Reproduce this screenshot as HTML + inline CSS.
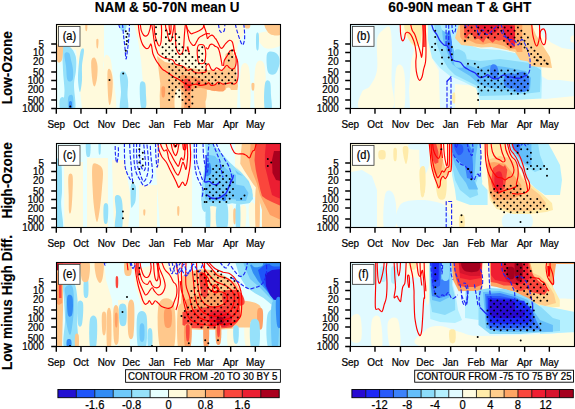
<!DOCTYPE html>
<html><head><meta charset="utf-8"><style>html,body{margin:0;padding:0;background:#fff;overflow:hidden}</style></head><body>
<svg width="575" height="409" viewBox="0 0 575 409" style="display:block">
<style>text{stroke:#000;stroke-width:0.22px}text.b{stroke-width:0.15px}</style>
<rect width="575" height="409" fill="#fff"/>
<defs>
<clipPath id="c00"><rect x="56.5" y="24.5" width="224.0" height="84.0"/></clipPath>
<clipPath id="c01"><rect x="56.5" y="143.5" width="224.0" height="84.0"/></clipPath>
<clipPath id="c02"><rect x="56.5" y="262.5" width="224.0" height="84.0"/></clipPath>
<clipPath id="c10"><rect x="350.5" y="24.5" width="224.0" height="84.0"/></clipPath>
<clipPath id="c11"><rect x="350.5" y="143.5" width="224.0" height="84.0"/></clipPath>
<clipPath id="c12"><rect x="350.5" y="262.5" width="224.0" height="84.0"/></clipPath>
</defs>
<g clip-path="url(#c00)">
<rect x="56.5" y="24.5" width="224.0" height="84.0" fill="#e6ffff"/>
<path d="M57 24L104 24L104 60L100 80L100 109L82 109L80 90L78 66L76 50L63 47L57 46Z" fill="#fffadc"/>
<path d="M100 60C101.3 54.2 103.3 65.8 104 74C104.7 82.2 105.3 103.2 104 109C102.7 114.8 96.7 117.2 96 109C95.3 100.8 98.7 65.8 100 60Z" fill="#fffadc"/>
<path d="M134 24L245 24L244 34L238 44L236 60L237 76L238 86L237 109L143 109L143 84L141 60L138 40Z" fill="#fffadc"/>
<path d="M241 68C242.3 61.2 247.5 61.2 249 68C250.5 74.8 251.3 102.2 250 109C248.7 115.8 242.5 115.8 241 109C239.5 102.2 239.7 74.8 241 68Z" fill="#fffadc"/>
<path d="M255.6 66C257.2 58.8 263.1 58.8 264.7 66C266.3 73.2 266.6 101.8 265 109C263.4 116.2 256.6 116.2 255 109C253.4 101.8 254 73.2 255.6 66Z" fill="#fffadc"/>
<path d="M258 34C260.7 31.3 277.2 30.2 281 32C284.8 33.8 283.7 42.3 281 45C278.3 47.7 268.8 49.8 265 48C261.2 46.2 255.3 36.7 258 34Z" fill="#fffadc"/>
<path d="M104 60C105 51.5 108.5 55.3 110 58C111.5 60.7 112 67.5 113 76C114 84.5 117.5 103.5 116 109C114.5 114.5 106 117.2 104 109C102 100.8 103 68.5 104 60Z" fill="#fffadc"/>
<path d="M63 47.5C64.2 43.7 67.9 45.6 70 47C72.1 48.4 74.6 52.2 75.6 56C76.6 59.8 76.3 65.2 76 70C75.7 74.8 74.2 78.5 74 85C73.8 91.5 76.7 105 75 109C73.3 113 65.8 112.2 64 109C62.2 105.8 64.7 96.5 64.5 90C64.3 83.5 63.2 77.1 63 70C62.8 62.9 61.8 51.3 63 47.5Z" fill="#96e1fa"/>
<path d="M60 99C60.7 97.2 63.2 96.3 64 98C64.8 99.7 65.2 107.2 64.5 109C63.8 110.8 60.8 110.7 60 109C59.2 107.3 59.3 100.8 60 99Z" fill="#96e1fa"/>
<path d="M81 50C81.8 48 83.8 47.3 84 50C84.2 52.7 82.3 61 82 66C81.7 71 82.3 75.7 82 80C81.7 84.3 80.7 92 80 92C79.3 92 78.2 85 78 80C77.8 75 78.5 67 79 62C79.5 57 80.2 52 81 50Z" fill="#96e1fa"/>
<path d="M120 74C120.7 70.7 123.7 71 125 72C126.3 73 127.6 76.2 128 80C128.4 83.8 127.5 90.2 127.5 95C127.5 99.8 129.2 106.7 128 109C126.8 111.3 121.2 111.8 120 109C118.8 106.2 121 97.8 121 92C121 86.2 119.3 77.3 120 74Z" fill="#96e1fa"/>
<path d="M140 84C140.7 80 144 81.2 145 83C146 84.8 145.8 91 146 95C146.2 99 146.8 105 146 107C145.2 109 142 110.8 141 107C140 103.2 139.3 88 140 84Z" fill="#96e1fa"/>
<path d="M256.2 34.4C256.6 32 258.4 32 258.8 34.4C259.2 36.8 259 46.4 258.6 48.8C258.2 51.2 256.8 51.2 256.4 48.8C256 46.4 255.8 36.8 256.2 34.4Z" fill="#96e1fa"/>
<path d="M267 54C268 50.7 272 51.5 274 52C276 52.5 278.2 54.7 279 57C279.8 59.3 279.7 63.2 279 66C278.3 68.8 276.8 73 275 74C273.2 75 269.3 75.3 268 72C266.7 68.7 266 57.3 267 54Z" fill="#96e1fa"/>
<path d="M265 83.5C265.9 79 269 80.1 270 82C271 83.9 270.8 90.5 271 95C271.2 99.5 272.6 106.7 271.5 109C270.4 111.3 265.8 113.2 264.7 109C263.6 104.8 264.1 88 265 83.5Z" fill="#96e1fa"/>
<path d="M120 24C120.9 23 125.6 22.9 126.4 24C127.2 25.1 125.9 29.5 125 30.5C124.1 31.5 121.8 31.1 121 30C120.2 28.9 119.1 25 120 24Z" fill="#96e1fa"/>
<path d="M64.5 54C65 51.8 67.9 52 69 53C70.1 54 70.3 57.2 71 60C71.7 62.8 72.8 66.7 73 70C73.2 73.3 73.4 78.3 72.5 80C71.6 81.7 68.6 82.3 67.5 80C66.4 77.7 66.5 70.3 66 66C65.5 61.7 64 56.2 64.5 54Z" fill="#6ec8fa"/>
<path d="M68.4 97C69.1 94.8 72 94 72.8 96C73.6 98 73.7 106.8 73 109C72.3 111.2 69.2 111 68.4 109C67.6 107 67.7 99.2 68.4 97Z" fill="#6ec8fa"/>
<path d="M69.2 102C69.6 100.8 71.4 100.8 71.8 102C72.2 103.2 72.2 107.8 71.8 109C71.4 110.2 69.6 110.2 69.2 109C68.8 107.8 68.8 103.2 69.2 102Z" fill="#328cf5"/>
<path d="M57.3 45C58.2 42.3 61.5 43.8 62.5 45C63.5 46.2 63.2 49.3 63 52C62.8 54.7 62.5 59.5 61.5 61C60.5 62.5 58 63.7 57.3 61C56.6 58.3 56.4 47.7 57.3 45Z" fill="#ffc88c"/>
<path d="M85.3 25C85.6 24.1 87 24.1 87.3 25C87.6 25.9 87.3 29.6 87 30.5C86.7 31.4 85.9 31.4 85.6 30.5C85.3 29.6 85 25.9 85.3 25Z" fill="#ffc88c"/>
<path d="M96.4 39.6C96.7 38.3 98.1 38.3 98.4 39.6C98.7 40.9 98.3 46.2 98 47.5C97.7 48.8 97 48.8 96.7 47.5C96.4 46.2 96.1 40.9 96.4 39.6Z" fill="#ffc88c"/>
<path d="M91.5 60C92.1 57.7 94 57 95 58C96 59 97.2 62.7 97.5 66C97.8 69.3 97.4 74.7 97 78C96.6 81.3 95.7 85 95 86C94.3 87 93.6 86.3 93 84C92.4 81.7 91.8 76 91.5 72C91.2 68 90.9 62.3 91.5 60Z" fill="#ffc88c"/>
<path d="M107.5 72C107.9 67.3 109.6 68.7 110.5 70C111.4 71.3 112.5 75.8 112.7 80C113 84.2 112.5 90.8 112 95C111.5 99.2 110.6 104.5 110 105C109.4 105.5 108.6 103.5 108.2 98C107.8 92.5 107.1 76.7 107.5 72Z" fill="#ffc88c"/>
<path d="M245 24C245.8 23.3 249.2 23.3 250 24C250.8 24.7 250.2 27.3 249.5 28C248.8 28.7 246.2 28.7 245.5 28C244.8 27.3 244.2 24.7 245 24Z" fill="#ffc88c"/>
<path d="M265 24C266.8 22.3 278.3 22.3 281 24C283.7 25.7 282.8 32.7 281 34.4C279.2 36.1 272.7 35.7 270 34C267.3 32.3 263.2 25.7 265 24Z" fill="#ffc88c"/>
<path d="M251.6 83.5C252 82.4 253.9 82.4 254.3 83.5C254.7 84.6 254.4 88.9 254 90C253.6 91.1 252.4 91.1 252 90C251.6 88.9 251.2 84.6 251.6 83.5Z" fill="#ffc88c"/>
<path d="M157 56L165 62L175 64L190 68L206 70L222 70L236 70L238 86L237.3 90L206 90L206 109L160 109L159.7 96L160.3 83.5L159 73Z" fill="#ffc88c"/>
<path d="M225.6 54L232 50L235.5 60L236 70L224 70Z" fill="#ffc88c"/>
<path d="M175.3 92C176.2 88.8 179.7 87.2 180.6 90C181.5 92.8 181.9 105.8 181 109C180.1 112.2 175.9 111.8 175 109C174.1 106.2 174.4 95.2 175.3 92Z" fill="#fffadc"/>
<path d="M206 92C206.7 89.2 209.3 89.2 210 92C210.7 94.8 210.7 106.2 210 109C209.3 111.8 206.7 111.8 206 109C205.3 106.2 205.3 94.8 206 92Z" fill="#fffadc"/>
<path d="M213.8 92C214.4 89.2 216.9 89.2 217.5 92C218.1 94.8 218.1 106.2 217.5 109C216.9 111.8 214.4 111.8 213.8 109C213.2 106.2 213.2 94.8 213.8 92Z" fill="#fffadc"/>
<path d="M225.6 90C226.5 86.8 230.1 86.8 231 90C231.9 93.2 231.9 105.8 231 109C230.1 112.2 226.5 112.2 225.6 109C224.7 105.8 224.7 93.2 225.6 90Z" fill="#fffadc"/>
<path d="M198 88C199 85.7 204.7 84 206 86C207.3 88 207 97.7 206 100C205 102.3 201.3 102 200 100C198.7 98 197 90.3 198 88Z" fill="#ffc88c"/>
<path d="M161.6 87.4C162.1 85.9 164.5 85.9 165 87.4C165.5 88.9 165 95 164.5 96.5C164 98 162.5 98 162 96.5C161.5 95 161.1 88.9 161.6 87.4Z" fill="#ffa064"/>
<path d="M180.6 76C182.1 74 187.1 75.7 190 76C192.9 76.3 195.3 77.3 198 78C200.7 78.7 203.4 79 206 80C208.6 81 210.8 83.3 213.8 84C216.9 84.7 222.6 82.8 224.3 84C226 85.2 225.7 89.8 224 91C222.3 92.2 217 91.3 214 91C211 90.7 208.7 89.5 206 89C203.3 88.5 200.5 87.5 198 88C195.5 88.5 192.2 88.5 191 92C189.8 95.5 192.1 106.2 191 109C189.9 111.8 185.6 111.5 184.5 109C183.4 106.5 185.1 97.5 184.5 94C183.9 90.5 181.7 91 181 88C180.3 85 179.1 78 180.6 76Z" fill="#ffa064"/>
<path d="M206 83.5C206.8 82.8 210.3 83.2 211 84C211.7 84.8 210.8 87.3 210 88C209.2 88.7 206.7 88.8 206 88C205.3 87.2 205.2 84.2 206 83.5Z" fill="#ffa064"/>
<path d="M183.8 80C184.4 78.5 186.8 78.7 188 79C189.2 79.3 190.5 80.3 191 82C191.5 83.7 191.5 87.5 191 89C190.5 90.5 189.1 91.2 188 91C186.9 90.8 185.2 89.8 184.5 88C183.8 86.2 183.2 81.5 183.8 80Z" fill="#fa463c"/>
<path d="M196.9 81C197.4 80.4 199.5 80.4 200 81C200.5 81.6 200.5 84.2 200 84.8C199.5 85.4 197.5 85.4 197 84.8C196.5 84.2 196.4 81.6 196.9 81Z" fill="#fa463c"/>
<path d="M138.3 24C138.4 25.2 138.7 28.9 139.1 31.3C139.5 33.8 139.9 36.5 140.5 38.7C141.1 40.9 141.8 43 142.7 44.6C143.6 46.2 144.8 47.6 145.7 48.2C146.6 48.8 147.5 48.6 148.2 48.2C148.9 47.8 149.3 46.7 149.7 46C150.1 45.3 150.5 43.8 150.8 43.8C151.1 43.8 151.3 44.9 151.6 46C151.8 47.1 152.1 49.1 152.3 50.4C152.5 51.7 152.4 52.4 153 54C153.6 55.6 154.9 58.4 155.8 60C156.7 61.6 157.3 62.4 158.4 63.9C159.5 65.4 161 67.8 162.3 69.1C163.6 70.4 164.9 70.8 166.2 71.7C167.5 72.6 168.8 73.4 170.1 74.3C171.4 75.2 172.7 76.2 174 77C175.3 77.8 176.7 78.2 178 78.9C179.3 79.7 180.6 80.6 181.9 81.5C183.2 82.4 184.7 83.4 185.8 84.1C186.9 84.8 187.3 85.3 188.4 85.4C189.5 85.5 191 85 192.3 84.8C193.6 84.6 194.9 84 196.2 84.1C197.5 84.2 198.5 85.4 200.1 85.4C201.7 85.5 204.6 84.8 206 84.4C207.4 84 207.7 82.6 208.6 82.8C209.5 83 210.1 85.1 211.2 85.4C212.3 85.7 214 85.3 215.1 84.8C216.2 84.3 216.8 82.5 217.7 82.2C218.6 81.9 219.4 82.5 220.3 82.8C221.2 83.1 221.9 84 223 84.1C224.1 84.2 225.6 83.7 226.9 83.5C228.2 83.3 229.6 82.7 230.8 82.8C232 82.9 233 84.2 234 84.1C235 84 236 83.4 236.7 82.2C237.4 81 237.8 79.6 238 77C238.2 74.4 238.1 69.3 238 66.5C237.9 63.7 237.9 62.3 237.3 60C236.8 57.7 235.3 55 234.7 52.7C234 50.4 233.8 48.1 233.4 46.2C233 44.4 232.8 42.6 232.1 41.6C231.4 40.6 230.6 40 229.5 40.3C228.4 40.6 226.8 42.3 225.6 43.6C224.4 44.9 223.2 47.5 222.3 48.1C221.4 48.8 220.9 48 220.3 47.5C219.8 47 219.4 45.8 219 44.9C218.6 44 218.1 43.2 217.7 42.3C217.3 41.4 216.8 40.4 216.4 39.7C216 39 215.5 38.8 215.1 38.3C214.7 37.8 214.3 36.9 213.8 36.4C213.3 35.9 212.7 35.1 211.9 35.1C211.2 35.1 210.1 35.9 209.3 36.4C208.5 36.9 207.9 39.1 207.3 38.3C206.8 37.5 206.6 33.9 206 31.8C205.4 29.8 204.4 27.3 204 26C203.6 24.7 203.6 24.3 203.5 24" fill="none" stroke="#f00" stroke-width="1.15" stroke-linejoin="round"/>
<path d="M140.2 24C140.4 25.1 140.8 28.8 141.3 30.6C141.9 32.4 142.7 34.1 143.5 35C144.3 35.9 145.2 36.2 146 36.1C146.8 36 147.6 35.3 148.2 34.3C148.8 33.3 149.3 31.1 149.7 29.9C150.1 28.7 150.2 27.9 150.4 26.9C150.6 25.9 150.7 24.5 150.8 24" fill="none" stroke="#f00" stroke-width="1.15" stroke-linejoin="round"/>
<path d="M151.6 24C151.8 25 152.3 27.4 152.7 29.9C153.1 32.4 153.4 36 153.8 38.7C154.2 41.4 154.7 44 155.2 46C155.7 48 156.2 49.1 156.7 50.4C157.2 51.7 157.3 52.9 158.2 54C159.1 55.1 160.7 56.2 162 57C163.3 57.8 164.2 58 166 58.5C167.8 59 171.1 59.1 172.7 60C174.2 60.9 174.2 63 175.3 63.9C176.4 64.8 178 64.8 179.3 65.2C180.6 65.6 182.1 65.8 183.2 66.5C184.3 67.2 184.9 68.4 185.8 69.1C186.7 69.8 187.5 70.4 188.4 70.4C189.3 70.4 190.1 68.9 191 69.1C191.9 69.3 192.3 71 193.6 71.7C194.9 72.4 196.7 73 198.8 73C200.9 73 204.8 72.8 206 71.7C207.2 70.6 205.6 67.8 206 66.5C206.4 65.2 207.7 63.5 208.6 63.9C209.5 64.3 210.3 68 211.2 69.1C212.1 70.2 212.9 70.6 213.8 70.4C214.7 70.2 215.5 68 216.4 67.8C217.3 67.6 218.1 68.7 219 69.1C219.9 69.5 220.8 70.6 221.7 70.4C222.6 70.2 223.4 68.7 224.3 67.8C225.2 66.9 226 65.2 226.9 65.2C227.8 65.2 228.6 67.2 229.5 67.8C230.4 68.4 231.2 69.1 232.1 69.1C233 69.1 234 68.7 234.7 67.8C235.3 66.9 235.8 65.5 236 63.9C236.2 62.3 236.3 60.3 236 58C235.7 55.7 234.3 51.3 234 50" fill="none" stroke="#f00" stroke-width="1.15" stroke-linejoin="round"/>
<path d="M234 50C233.7 50 232.8 50.2 232.1 50.3C231.4 50.4 230.9 49.9 230.1 50.7C229.3 51.5 228.5 53.7 227.5 55.3C226.5 56.9 225 58.7 224.3 60.5C223.7 62.3 223.7 65.1 223.6 66" fill="none" stroke="#f00" stroke-width="1.15" stroke-linejoin="round"/>
<path d="M206 47.5C206.3 47.7 207.3 49.2 208 48.8C208.7 48.4 209.2 45.7 209.9 44.9C210.7 44.1 211.6 44 212.5 44.2C213.4 44.4 214.2 45.7 215.1 46.2C216 46.8 217 46.9 217.7 47.5C218.3 48.1 218.6 48.8 219 50.1C219.4 51.4 219.9 53.1 220.3 55.3C220.8 57.5 221.4 61.3 221.7 63.1C222 64.9 222.2 65.5 222.3 66" fill="none" stroke="#f00" stroke-width="1.15" stroke-linejoin="round"/>
<path d="M154 24C154.2 25.8 154.5 32 155 35C155.5 38 156.3 40.2 157 42C157.7 43.8 158.6 46 159.3 46C160 46 160.6 44.2 161 42C161.4 39.8 161.5 36 161.6 33C161.7 30 161.4 25.5 161.3 24" fill="none" stroke="#f00" stroke-width="1.15" stroke-linejoin="round"/>
<path d="M165.4 24C165.5 24.7 165.5 26.8 165.8 28C166.1 29.2 166.7 29.7 167 31C167.3 32.3 167.4 34.1 167.8 35.7C168.2 37.3 168.9 39.7 169.3 40.6C169.7 41.5 169.9 41.2 170.3 41.1C170.7 41 171.1 40.9 171.5 39.7C171.9 38.5 172.3 35.8 172.7 33.8C173.1 31.8 173.4 29.6 173.7 28C173.9 26.4 174.1 24.7 174.2 24" fill="none" stroke="#f00" stroke-width="1.15" stroke-linejoin="round"/>
<path d="M174.7 24C174.8 25.6 175 30.5 175.2 33.8C175.4 37.1 175.5 41 175.7 43.6C175.9 46.2 176.1 47.8 176.6 49.4C177.1 51 177.9 52.6 178.6 53.4C179.2 54.2 179.8 54.5 180.5 54.3C181.2 54.1 182 53.4 182.5 52.4C183 51.4 183.2 50.3 183.5 48.5C183.8 46.7 183.8 44.1 184 41.6C184.2 39.1 184.3 36.1 184.5 33.8C184.7 31.5 184.8 29.6 185 28C185.2 26.4 185.3 24.7 185.4 24" fill="none" stroke="#f00" stroke-width="1.15" stroke-linejoin="round"/>
<path d="M186 24C186.2 24.8 186.8 27.6 187.4 28.9C188 30.2 188.8 31 189.4 31.8C190.1 32.6 190.5 33.6 191.3 33.8C192.1 34 192.9 33.3 194.2 32.8C195.5 32.3 197.6 31.6 199.1 30.8C200.6 30 202.2 29 203 27.9C203.8 26.8 203.8 24.6 204 24" fill="none" stroke="#f00" stroke-width="1.15" stroke-linejoin="round"/>
<path d="M186.5 26C186.8 27.8 187.9 34.3 188.4 36.7C188.9 39.1 188.9 39.5 189.4 40.6C189.9 41.8 190.7 42.8 191.3 43.6C192 44.4 192.7 45.4 193.3 45.5C194 45.6 194.5 45.3 195.2 44.5C195.8 43.7 196.5 41.7 197.2 40.6C197.8 39.5 198.3 38.5 199.1 37.7C199.9 36.9 200.9 36.4 202.1 35.7C203.2 35.1 204.7 34.1 206 33.8C207.3 33.5 209.3 33.8 210 33.8" fill="none" stroke="#f00" stroke-width="1.15" stroke-linejoin="round"/>
<path d="M198.2 45.5C198.8 44.5 200.1 44.5 201.1 44.5C202.1 44.5 203.3 44.5 204 45.5C204.7 46.5 205.2 48.3 205.5 50.4C205.8 52.5 205.8 56.1 205.5 58.2C205.2 60.3 205.1 62.3 204 63.1C202.9 63.9 200.2 63.9 199.1 63.1C198 62.3 198 60.3 197.7 58.2C197.4 56.1 197.1 52.5 197.2 50.4C197.3 48.3 197.5 46.5 198.2 45.5Z" fill="none" stroke="#f00" stroke-width="1.15" stroke-linejoin="round"/>
<path d="M187.4 46.5C187.5 46.9 187.8 48 188 49C188.2 50 188.8 51.8 188.9 52.4" fill="none" stroke="#f00" stroke-width="1.7" stroke-linejoin="round"/>
<path d="M169 24C169.1 25 169.2 28.3 169.5 30C169.8 31.7 170.2 34.2 170.5 34C170.8 33.8 170.9 30.7 171 29C171.1 27.3 171 24.8 171 24" fill="none" stroke="#f00" stroke-width="1.15" stroke-linejoin="round"/>
<path d="M235.3 24C235.6 25.3 236.5 29.2 237.3 31.8C238.1 34.4 239 37.5 239.9 39.7C240.8 41.9 241.7 44.9 242.5 44.9C243.3 44.9 244.2 41.9 244.5 39.7C244.8 37.5 244.6 34.4 244.5 31.8C244.4 29.2 243.9 25.3 243.8 24" fill="none" stroke="#1e28f5" stroke-width="1.15" stroke-dasharray="4,1.7" stroke-linejoin="round"/>
<path d="M218.4 24C218.6 25.1 219.1 29.1 219.7 30.5C220.2 31.9 220.9 32.5 221.7 32.5C222.5 32.5 223.8 31.9 224.3 30.5C224.8 29.1 224.8 25.1 224.9 24" fill="none" stroke="#1e28f5" stroke-width="1.15" stroke-dasharray="4,1.7" stroke-linejoin="round"/>
<path d="M122.5 24C122.7 25.8 123.1 31 123.5 35C123.9 39 124.6 44 125 48C125.4 52 125.6 58.7 126 59C126.4 59.3 127 53.8 127.5 50C128 46.2 128.7 40.3 129 36C129.3 31.7 129.4 26 129.5 24" fill="none" stroke="#1e28f5" stroke-width="1.15" stroke-dasharray="4,1.7" stroke-linejoin="round"/>
<path d="M118.6 24C118.8 24.5 119.1 26.2 119.5 27C119.9 27.8 120.9 28.7 121.2 29" fill="none" stroke="#1e28f5" stroke-width="1.1" stroke-dasharray="4,1.7" stroke-linejoin="round"/>
<path d="M155 27.3a1.0 1.0 0 1 0 2 0a1.0 1.0 0 1 0 -2 0M155 33.9a1.0 1.0 0 1 0 2 0a1.0 1.0 0 1 0 -2 0M155 40.5a1.0 1.0 0 1 0 2 0a1.0 1.0 0 1 0 -2 0" fill="#000"/>
<path d="M164.9 30.6a1.0 1.0 0 1 0 2 0a1.0 1.0 0 1 0 -2 0M168.2 33.9a1.0 1.0 0 1 0 2 0a1.0 1.0 0 1 0 -2 0M174.9 33.9a1.0 1.0 0 1 0 2 0a1.0 1.0 0 1 0 -2 0M164.9 37.2a1.0 1.0 0 1 0 2 0a1.0 1.0 0 1 0 -2 0M171.5 37.2a1.0 1.0 0 1 0 2 0a1.0 1.0 0 1 0 -2 0M178.2 37.2a1.0 1.0 0 1 0 2 0a1.0 1.0 0 1 0 -2 0M168.2 40.5a1.0 1.0 0 1 0 2 0a1.0 1.0 0 1 0 -2 0M174.9 40.5a1.0 1.0 0 1 0 2 0a1.0 1.0 0 1 0 -2 0M164.9 43.9a1.0 1.0 0 1 0 2 0a1.0 1.0 0 1 0 -2 0M171.5 43.9a1.0 1.0 0 1 0 2 0a1.0 1.0 0 1 0 -2 0M178.2 43.9a1.0 1.0 0 1 0 2 0a1.0 1.0 0 1 0 -2 0M161.6 47.2a1.0 1.0 0 1 0 2 0a1.0 1.0 0 1 0 -2 0M168.2 47.2a1.0 1.0 0 1 0 2 0a1.0 1.0 0 1 0 -2 0M174.9 47.2a1.0 1.0 0 1 0 2 0a1.0 1.0 0 1 0 -2 0M181.5 47.2a1.0 1.0 0 1 0 2 0a1.0 1.0 0 1 0 -2 0M164.9 50.5a1.0 1.0 0 1 0 2 0a1.0 1.0 0 1 0 -2 0M171.5 50.5a1.0 1.0 0 1 0 2 0a1.0 1.0 0 1 0 -2 0M178.2 50.5a1.0 1.0 0 1 0 2 0a1.0 1.0 0 1 0 -2 0M184.8 50.5a1.0 1.0 0 1 0 2 0a1.0 1.0 0 1 0 -2 0M161.6 53.8a1.0 1.0 0 1 0 2 0a1.0 1.0 0 1 0 -2 0M168.2 53.8a1.0 1.0 0 1 0 2 0a1.0 1.0 0 1 0 -2 0M174.9 53.8a1.0 1.0 0 1 0 2 0a1.0 1.0 0 1 0 -2 0M181.5 53.8a1.0 1.0 0 1 0 2 0a1.0 1.0 0 1 0 -2 0M188.1 53.8a1.0 1.0 0 1 0 2 0a1.0 1.0 0 1 0 -2 0M164.9 57.1a1.0 1.0 0 1 0 2 0a1.0 1.0 0 1 0 -2 0M171.5 57.1a1.0 1.0 0 1 0 2 0a1.0 1.0 0 1 0 -2 0M178.2 57.1a1.0 1.0 0 1 0 2 0a1.0 1.0 0 1 0 -2 0M184.8 57.1a1.0 1.0 0 1 0 2 0a1.0 1.0 0 1 0 -2 0M191.4 57.1a1.0 1.0 0 1 0 2 0a1.0 1.0 0 1 0 -2 0M168.2 60.4a1.0 1.0 0 1 0 2 0a1.0 1.0 0 1 0 -2 0M174.9 60.4a1.0 1.0 0 1 0 2 0a1.0 1.0 0 1 0 -2 0M181.5 60.4a1.0 1.0 0 1 0 2 0a1.0 1.0 0 1 0 -2 0M188.1 60.4a1.0 1.0 0 1 0 2 0a1.0 1.0 0 1 0 -2 0M194.7 60.4a1.0 1.0 0 1 0 2 0a1.0 1.0 0 1 0 -2 0M201.3 60.4a1.0 1.0 0 1 0 2 0a1.0 1.0 0 1 0 -2 0M171.5 63.7a1.0 1.0 0 1 0 2 0a1.0 1.0 0 1 0 -2 0M178.2 63.7a1.0 1.0 0 1 0 2 0a1.0 1.0 0 1 0 -2 0M184.8 63.7a1.0 1.0 0 1 0 2 0a1.0 1.0 0 1 0 -2 0M191.4 63.7a1.0 1.0 0 1 0 2 0a1.0 1.0 0 1 0 -2 0M198 63.7a1.0 1.0 0 1 0 2 0a1.0 1.0 0 1 0 -2 0M204.6 63.7a1.0 1.0 0 1 0 2 0a1.0 1.0 0 1 0 -2 0M168.2 67a1.0 1.0 0 1 0 2 0a1.0 1.0 0 1 0 -2 0M174.9 67a1.0 1.0 0 1 0 2 0a1.0 1.0 0 1 0 -2 0M181.5 67a1.0 1.0 0 1 0 2 0a1.0 1.0 0 1 0 -2 0M188.1 67a1.0 1.0 0 1 0 2 0a1.0 1.0 0 1 0 -2 0M194.7 67a1.0 1.0 0 1 0 2 0a1.0 1.0 0 1 0 -2 0M201.3 67a1.0 1.0 0 1 0 2 0a1.0 1.0 0 1 0 -2 0M171.5 70.3a1.0 1.0 0 1 0 2 0a1.0 1.0 0 1 0 -2 0M178.2 70.3a1.0 1.0 0 1 0 2 0a1.0 1.0 0 1 0 -2 0M184.8 70.3a1.0 1.0 0 1 0 2 0a1.0 1.0 0 1 0 -2 0M191.4 70.3a1.0 1.0 0 1 0 2 0a1.0 1.0 0 1 0 -2 0M198 70.3a1.0 1.0 0 1 0 2 0a1.0 1.0 0 1 0 -2 0M204.6 70.3a1.0 1.0 0 1 0 2 0a1.0 1.0 0 1 0 -2 0M231.1 70.3a1.0 1.0 0 1 0 2 0a1.0 1.0 0 1 0 -2 0M168.2 73.6a1.0 1.0 0 1 0 2 0a1.0 1.0 0 1 0 -2 0M174.9 73.6a1.0 1.0 0 1 0 2 0a1.0 1.0 0 1 0 -2 0M181.5 73.6a1.0 1.0 0 1 0 2 0a1.0 1.0 0 1 0 -2 0M188.1 73.6a1.0 1.0 0 1 0 2 0a1.0 1.0 0 1 0 -2 0M194.7 73.6a1.0 1.0 0 1 0 2 0a1.0 1.0 0 1 0 -2 0M201.3 73.6a1.0 1.0 0 1 0 2 0a1.0 1.0 0 1 0 -2 0M208 73.6a1.0 1.0 0 1 0 2 0a1.0 1.0 0 1 0 -2 0M214.6 73.6a1.0 1.0 0 1 0 2 0a1.0 1.0 0 1 0 -2 0M221.2 73.6a1.0 1.0 0 1 0 2 0a1.0 1.0 0 1 0 -2 0M227.8 73.6a1.0 1.0 0 1 0 2 0a1.0 1.0 0 1 0 -2 0M234.4 73.6a1.0 1.0 0 1 0 2 0a1.0 1.0 0 1 0 -2 0M171.5 77a1.0 1.0 0 1 0 2 0a1.0 1.0 0 1 0 -2 0M178.2 77a1.0 1.0 0 1 0 2 0a1.0 1.0 0 1 0 -2 0M184.8 77a1.0 1.0 0 1 0 2 0a1.0 1.0 0 1 0 -2 0M191.4 77a1.0 1.0 0 1 0 2 0a1.0 1.0 0 1 0 -2 0M198 77a1.0 1.0 0 1 0 2 0a1.0 1.0 0 1 0 -2 0M204.6 77a1.0 1.0 0 1 0 2 0a1.0 1.0 0 1 0 -2 0M211.3 77a1.0 1.0 0 1 0 2 0a1.0 1.0 0 1 0 -2 0M217.9 77a1.0 1.0 0 1 0 2 0a1.0 1.0 0 1 0 -2 0M224.5 77a1.0 1.0 0 1 0 2 0a1.0 1.0 0 1 0 -2 0M231.1 77a1.0 1.0 0 1 0 2 0a1.0 1.0 0 1 0 -2 0M168.2 80.3a1.0 1.0 0 1 0 2 0a1.0 1.0 0 1 0 -2 0M174.9 80.3a1.0 1.0 0 1 0 2 0a1.0 1.0 0 1 0 -2 0M181.5 80.3a1.0 1.0 0 1 0 2 0a1.0 1.0 0 1 0 -2 0M188.1 80.3a1.0 1.0 0 1 0 2 0a1.0 1.0 0 1 0 -2 0M194.7 80.3a1.0 1.0 0 1 0 2 0a1.0 1.0 0 1 0 -2 0M201.3 80.3a1.0 1.0 0 1 0 2 0a1.0 1.0 0 1 0 -2 0M208 80.3a1.0 1.0 0 1 0 2 0a1.0 1.0 0 1 0 -2 0M214.6 80.3a1.0 1.0 0 1 0 2 0a1.0 1.0 0 1 0 -2 0M221.2 80.3a1.0 1.0 0 1 0 2 0a1.0 1.0 0 1 0 -2 0M227.8 80.3a1.0 1.0 0 1 0 2 0a1.0 1.0 0 1 0 -2 0M234.4 80.3a1.0 1.0 0 1 0 2 0a1.0 1.0 0 1 0 -2 0M171.5 83.6a1.0 1.0 0 1 0 2 0a1.0 1.0 0 1 0 -2 0M178.2 83.6a1.0 1.0 0 1 0 2 0a1.0 1.0 0 1 0 -2 0M184.8 83.6a1.0 1.0 0 1 0 2 0a1.0 1.0 0 1 0 -2 0M191.4 83.6a1.0 1.0 0 1 0 2 0a1.0 1.0 0 1 0 -2 0M198 83.6a1.0 1.0 0 1 0 2 0a1.0 1.0 0 1 0 -2 0M204.6 83.6a1.0 1.0 0 1 0 2 0a1.0 1.0 0 1 0 -2 0M211.3 83.6a1.0 1.0 0 1 0 2 0a1.0 1.0 0 1 0 -2 0M217.9 83.6a1.0 1.0 0 1 0 2 0a1.0 1.0 0 1 0 -2 0M224.5 83.6a1.0 1.0 0 1 0 2 0a1.0 1.0 0 1 0 -2 0M231.1 83.6a1.0 1.0 0 1 0 2 0a1.0 1.0 0 1 0 -2 0M168.2 86.9a1.0 1.0 0 1 0 2 0a1.0 1.0 0 1 0 -2 0M174.9 86.9a1.0 1.0 0 1 0 2 0a1.0 1.0 0 1 0 -2 0M181.5 86.9a1.0 1.0 0 1 0 2 0a1.0 1.0 0 1 0 -2 0M188.1 86.9a1.0 1.0 0 1 0 2 0a1.0 1.0 0 1 0 -2 0M194.7 86.9a1.0 1.0 0 1 0 2 0a1.0 1.0 0 1 0 -2 0M171.5 90.2a1.0 1.0 0 1 0 2 0a1.0 1.0 0 1 0 -2 0M178.2 90.2a1.0 1.0 0 1 0 2 0a1.0 1.0 0 1 0 -2 0M184.8 90.2a1.0 1.0 0 1 0 2 0a1.0 1.0 0 1 0 -2 0M191.4 90.2a1.0 1.0 0 1 0 2 0a1.0 1.0 0 1 0 -2 0M168.2 93.5a1.0 1.0 0 1 0 2 0a1.0 1.0 0 1 0 -2 0M174.9 93.5a1.0 1.0 0 1 0 2 0a1.0 1.0 0 1 0 -2 0M181.5 93.5a1.0 1.0 0 1 0 2 0a1.0 1.0 0 1 0 -2 0M188.1 93.5a1.0 1.0 0 1 0 2 0a1.0 1.0 0 1 0 -2 0M171.5 96.8a1.0 1.0 0 1 0 2 0a1.0 1.0 0 1 0 -2 0M178.2 96.8a1.0 1.0 0 1 0 2 0a1.0 1.0 0 1 0 -2 0M184.8 96.8a1.0 1.0 0 1 0 2 0a1.0 1.0 0 1 0 -2 0M191.4 96.8a1.0 1.0 0 1 0 2 0a1.0 1.0 0 1 0 -2 0M168.2 100.1a1.0 1.0 0 1 0 2 0a1.0 1.0 0 1 0 -2 0M181.5 100.1a1.0 1.0 0 1 0 2 0a1.0 1.0 0 1 0 -2 0M188.1 100.1a1.0 1.0 0 1 0 2 0a1.0 1.0 0 1 0 -2 0M184.8 103.4a1.0 1.0 0 1 0 2 0a1.0 1.0 0 1 0 -2 0M191.4 103.4a1.0 1.0 0 1 0 2 0a1.0 1.0 0 1 0 -2 0M188.1 106.7a1.0 1.0 0 1 0 2 0a1.0 1.0 0 1 0 -2 0" fill="#000"/>
<path d="M201.3 47.2a1.0 1.0 0 1 0 2 0a1.0 1.0 0 1 0 -2 0M198 50.5a1.0 1.0 0 1 0 2 0a1.0 1.0 0 1 0 -2 0M201.3 53.8a1.0 1.0 0 1 0 2 0a1.0 1.0 0 1 0 -2 0M198 57.1a1.0 1.0 0 1 0 2 0a1.0 1.0 0 1 0 -2 0M201.3 60.4a1.0 1.0 0 1 0 2 0a1.0 1.0 0 1 0 -2 0" fill="#000"/>
<path d="M231.1 50.5a1.0 1.0 0 1 0 2 0a1.0 1.0 0 1 0 -2 0M227.8 53.8a1.0 1.0 0 1 0 2 0a1.0 1.0 0 1 0 -2 0M231.1 57.1a1.0 1.0 0 1 0 2 0a1.0 1.0 0 1 0 -2 0M227.8 60.4a1.0 1.0 0 1 0 2 0a1.0 1.0 0 1 0 -2 0" fill="#000"/>
<path d="M124.8 31.2a1.0 1.0 0 1 0 2 0a1.0 1.0 0 1 0 -2 0M126.5 33.8a1.0 1.0 0 1 0 2 0a1.0 1.0 0 1 0 -2 0M125.4 37a1.0 1.0 0 1 0 2 0a1.0 1.0 0 1 0 -2 0M126 41a1.0 1.0 0 1 0 2 0a1.0 1.0 0 1 0 -2 0M125.4 44.2a1.0 1.0 0 1 0 2 0a1.0 1.0 0 1 0 -2 0M124.8 50.7a1.0 1.0 0 1 0 2 0a1.0 1.0 0 1 0 -2 0M108.5 80a1.0 1.0 0 1 0 2 0a1.0 1.0 0 1 0 -2 0M122.2 73.6a1.0 1.0 0 1 0 2 0a1.0 1.0 0 1 0 -2 0M69.3 106.4a1.0 1.0 0 1 0 2 0a1.0 1.0 0 1 0 -2 0" fill="#000"/>
</g>
<rect x="56.5" y="24.5" width="224.0" height="84.0" fill="none" stroke="#000" stroke-width="1.1"/>
<rect x="58.5" y="26.5" width="21.5" height="19.8" fill="#fff" stroke="#333" stroke-width="0.8"/>
<text transform="translate(69.40 35.86) scale(1 1.12)" y="3.94" font-family='"Liberation Sans", sans-serif' font-size="11.0" text-anchor="middle">(a)</text>
<text transform="translate(44.00 44.06) scale(1 1.12)" y="3.51" font-family='"Liberation Sans", sans-serif' font-size="9.8" text-anchor="end">5</text>
<text transform="translate(44.00 52.49) scale(1 1.12)" y="3.51" font-family='"Liberation Sans", sans-serif' font-size="9.8" text-anchor="end">10</text>
<text transform="translate(44.00 60.92) scale(1 1.12)" y="3.51" font-family='"Liberation Sans", sans-serif' font-size="9.8" text-anchor="end">20</text>
<text transform="translate(44.00 72.06) scale(1 1.12)" y="3.51" font-family='"Liberation Sans", sans-serif' font-size="9.8" text-anchor="end">50</text>
<text transform="translate(44.00 80.49) scale(1 1.12)" y="3.51" font-family='"Liberation Sans", sans-serif' font-size="9.8" text-anchor="end">100</text>
<text transform="translate(44.00 88.92) scale(1 1.12)" y="3.51" font-family='"Liberation Sans", sans-serif' font-size="9.8" text-anchor="end">200</text>
<text transform="translate(44.00 100.06) scale(1 1.12)" y="3.51" font-family='"Liberation Sans", sans-serif' font-size="9.8" text-anchor="end">500</text>
<text transform="translate(44.00 108.49) scale(1 1.12)" y="3.51" font-family='"Liberation Sans", sans-serif' font-size="9.8" text-anchor="end">1000</text>
<text transform="translate(56.30 124.46) scale(1 1.12)" y="3.54" font-family='"Liberation Sans", sans-serif' font-size="9.9" text-anchor="middle">Sep</text>
<text transform="translate(80.97 124.46) scale(1 1.12)" y="3.54" font-family='"Liberation Sans", sans-serif' font-size="9.9" text-anchor="middle">Oct</text>
<text transform="translate(106.47 124.46) scale(1 1.12)" y="3.54" font-family='"Liberation Sans", sans-serif' font-size="9.9" text-anchor="middle">Nov</text>
<text transform="translate(131.15 124.46) scale(1 1.12)" y="3.54" font-family='"Liberation Sans", sans-serif' font-size="9.9" text-anchor="middle">Dec</text>
<text transform="translate(156.65 124.46) scale(1 1.12)" y="3.54" font-family='"Liberation Sans", sans-serif' font-size="9.9" text-anchor="middle">Jan</text>
<text transform="translate(182.14 124.46) scale(1 1.12)" y="3.54" font-family='"Liberation Sans", sans-serif' font-size="9.9" text-anchor="middle">Feb</text>
<text transform="translate(205.17 124.46) scale(1 1.12)" y="3.54" font-family='"Liberation Sans", sans-serif' font-size="9.9" text-anchor="middle">Mar</text>
<text transform="translate(230.67 124.46) scale(1 1.12)" y="3.54" font-family='"Liberation Sans", sans-serif' font-size="9.9" text-anchor="middle">Apr</text>
<text transform="translate(255.35 124.46) scale(1 1.12)" y="3.54" font-family='"Liberation Sans", sans-serif' font-size="9.9" text-anchor="middle">May</text>
<path d="M51.20 44.07H56.5 M51.20 52.50H56.5 M51.20 60.93H56.5 M51.20 72.07H56.5 M51.20 80.50H56.5 M51.20 88.93H56.5 M51.20 100.07H56.5 M51.20 108.50H56.5 M56.30 108.5V113.7 M80.97 108.5V113.7 M106.47 108.5V113.7 M131.15 108.5V113.7 M156.65 108.5V113.7 M182.14 108.5V113.7 M205.17 108.5V113.7 M230.67 108.5V113.7 M255.35 108.5V113.7" stroke="#000" stroke-width="1.4" fill="none"/>
<g clip-path="url(#c01)">
<rect x="56.5" y="143.5" width="224.0" height="84.0" fill="#e6ffff"/>
<path d="M64 162L83 162L83 228L64.3 228Z" fill="#fffadc"/>
<path d="M87 158L108 158L108 228L87 228Z" fill="#fffadc"/>
<path d="M112 160L124 160L126 170L131 199L128 228L114 228L113 199Z" fill="#fffadc"/>
<path d="M139 185L157 185L157 228L139 228Z" fill="#fffadc"/>
<path d="M157 146L165 150L172 165L180 180L190 175L191 143L192 185L192 228L160 228L158 200L156 170Z" fill="#fffadc"/>
<path d="M158 143L191 143L192 200L158 200Z" fill="#fffadc"/>
<path d="M240 208C241 204.5 245.2 203.7 246 207C246.8 210.3 246 224.5 245 228C244 231.5 240.8 231.3 240 228C239.2 224.7 239 211.5 240 208Z" fill="#fffadc"/>
<path d="M229 207C229.7 203.5 232.3 203.5 233 207C233.7 210.5 233.7 224.5 233 228C232.3 231.5 229.7 231.5 229 228C228.3 224.5 228.3 210.5 229 207Z" fill="#fffadc"/>
<path d="M210 207C211 203.5 215 203.5 216 207C217 210.5 217 224.5 216 228C215 231.5 211 231.5 210 228C209 224.5 209 210.5 210 207Z" fill="#fffadc"/>
<path d="M249 205C249.8 201.2 254 201.2 255 205C256 208.8 255.8 224.2 255 228C254.2 231.8 251 231.8 250 228C249 224.2 248.2 208.8 249 205Z" fill="#fffadc"/>
<path d="M262 210C263 207 267 207 268 210C269 213 269 225 268 228C267 231 263 231 262 228C261 225 261 213 262 210Z" fill="#fffadc"/>
<path d="M235 143L241.9 143L240.7 154.5L240.2 163.7L244.2 170.6L248.8 177.5L253.4 184.4L258 190L258 198L250 196L244 186L238 176L235 170Z" fill="#fffadc"/>
<path d="M86 143C86.6 140.9 89.6 140.9 90.3 143C91 145.1 90.6 153.4 90 155.5C89.4 157.6 87.2 157.6 86.5 155.5C85.8 153.4 85.4 145.1 86 143Z" fill="#96e1fa"/>
<path d="M98.6 143C98.9 141.3 100.4 141.3 100.7 143C101 144.7 100.8 151.7 100.5 153.4C100.2 155.1 99.1 155.1 98.8 153.4C98.5 151.7 98.3 144.7 98.6 143Z" fill="#96e1fa"/>
<path d="M56 164C56.9 153.3 60.2 159.7 61.2 164C62.2 168.3 62 183.2 62 190C62 196.8 61 198.7 61.2 205C61.4 211.3 63.9 224.2 63 228C62.1 231.8 57.2 238.7 56 228C54.8 217.3 55.1 174.7 56 164Z" fill="#96e1fa"/>
<path d="M115 197C115.7 194.3 118.8 194.7 120 196C121.2 197.3 122.2 199.7 122.5 205C122.8 210.3 123.2 224.2 122 228C120.8 231.8 116 230.7 115 228C114 225.3 116 217.2 116 212C116 206.8 114.3 199.7 115 197Z" fill="#96e1fa"/>
<path d="M103.8 205C104.5 202.2 107.4 202.2 108 205C108.6 207.8 108.2 219.2 107.5 222C106.8 224.8 104.6 224.8 104 222C103.4 219.2 103.1 207.8 103.8 205Z" fill="#96e1fa"/>
<path d="M131 185C131.8 181.7 134.8 183.5 135.6 186C136.4 188.5 136 196.7 135.6 200C135.2 203.3 133.8 205 133 206C132.2 207 131.3 209.5 131 206C130.7 202.5 130.2 188.3 131 185Z" fill="#96e1fa"/>
<path d="M202 192.8C202.7 190.1 205.3 189 206 192C206.7 195 206.7 208.3 206 211C205.3 213.7 202.7 211 202 208C201.3 205 201.3 195.5 202 192.8Z" fill="#96e1fa"/>
<path d="M68.5 176C69.2 172.8 71.9 172.8 72.6 176C73.2 179.2 72.7 189.1 72.4 195C72.1 200.9 71.6 208.8 71 211.6C70.4 214.4 69.4 214.4 69 211.6C68.6 208.8 68.8 200.9 68.7 195C68.6 189.1 67.8 179.2 68.5 176Z" fill="#ffc88c"/>
<path d="M92.4 166C93.1 162 95.3 163.3 97 164C98.7 164.7 101.9 166 102.7 170C103.5 174 102.5 181.8 102 188C101.5 194.2 100.8 201.7 100 207.4C99.2 213.1 98 222.1 97 222C96 221.9 94.7 212.7 94 207C93.3 201.3 92.9 194.8 92.6 188C92.3 181.2 91.7 170 92.4 166Z" fill="#ffc88c"/>
<path d="M143.4 209.8C143.7 208.9 145 208.9 145.3 209.8C145.6 210.7 145.3 214.1 145 215C144.7 215.9 143.9 215.9 143.6 215C143.3 214.1 143.1 210.7 143.4 209.8Z" fill="#ffc88c"/>
<path d="M177.3 207C177.6 205.7 179 205.7 179.3 207C179.6 208.3 179.3 213.7 179 215C178.7 216.3 177.8 216.3 177.5 215C177.2 213.7 177 208.3 177.3 207Z" fill="#ffc88c"/>
<path d="M233.4 209.8C233.8 207.6 235.6 207.6 236 209.8C236.4 212 236 220.6 235.6 222.8C235.2 225 234 225 233.6 222.8C233.2 220.6 233 212 233.4 209.8Z" fill="#ffc88c"/>
<path d="M255.6 190C256.2 183.7 258.9 183.7 259.5 190C260.1 196.3 260.1 221.7 259.5 228C258.9 234.3 256.2 234.3 255.6 228C254.9 221.7 254.9 196.3 255.6 190Z" fill="#ffc88c"/>
<path d="M205 143L211.5 143L220.7 152.2L229.9 162.5L240 171.7L235 166L241.9 172.9L248.8 181L252.2 190L253 199L249 203.3L240 204.6L232.1 203.3L225.6 204.6L219 207.2L212.5 205.9L206 207.2L201 200L202 185L204 170L206 155Z" fill="#96e1fa"/>
<path d="M207 154.5L215 156L222 165L230 172L238 176L235 170L241.9 175L248.8 183L250 190L248 198L240 200L230 199L220 201L210 202L205 199L205 180Z" fill="#6ec8fa"/>
<path d="M222 196C222.3 195 224.3 194.3 225 195C225.7 195.7 226.3 199 226 200C225.7 201 223.7 201.7 223 201C222.3 200.3 221.7 197 222 196Z" fill="#328cf5"/>
<path d="M237 190.7C237.3 189.6 238.7 189.6 239 190.7C239.3 191.8 239.3 195.9 239 197C238.7 198.1 237.3 198.1 237 197C236.7 195.9 236.7 191.8 237 190.7Z" fill="#328cf5"/>
<path d="M206 165C206.7 162.8 209.2 161.7 210 163C210.8 164.3 211.7 170.8 211 173C210.3 175.2 206.8 177.3 206 176C205.2 174.7 205.3 167.2 206 165Z" fill="#328cf5"/>
<path d="M236 174L244 176L250 185L252.6 195L250 203L236 203Z" fill="#96e1fa"/>
<path d="M236 184.5L244 186L248.5 193L246 201L236 201Z" fill="#6ec8fa"/>
<path d="M206 207C206.7 203.5 209.3 203.5 210 207C210.7 210.5 210.7 224.5 210 228C209.3 231.5 206.7 231.5 206 228C205.3 224.5 205.3 210.5 206 207Z" fill="#96e1fa"/>
<path d="M217 205C218.7 201 225.3 200.2 227 204C228.7 207.8 228.7 224 227 228C225.3 232 218.7 231.8 217 228C215.3 224.2 215.3 209 217 205Z" fill="#96e1fa"/>
<path d="M236 205C236.7 201.2 239.3 201.2 240 205C240.7 208.8 240.7 224.2 240 228C239.3 231.8 236.7 231.8 236 228C235.3 224.2 235.3 208.8 236 205Z" fill="#96e1fa"/>
<path d="M241.9 143L281 143L281 228L262 228L262 210L258 196L258 190L253.4 184.4L248.8 177.5L244.2 170.6L240.2 163.7L240.7 154.5Z" fill="#ffc88c"/>
<path d="M250.7 143L281 143L281 220L270 215L265 205L260 195L256.8 183.2L254.5 177.5L251.5 170L250.2 165L249.2 160L250 152Z" fill="#ffa064"/>
<path d="M255.7 143L281 143L281 206L272 202L266 199L262 196L260.3 190L259.1 184.4L257.4 177.5L255.7 169.4L254.5 160.2L255.1 152.2Z" fill="#fa463c"/>
<path d="M266 143L281 143L281 199L276 197L272 195L269.5 185L267.2 175.2L264.9 166L264.9 154.5Z" fill="#eb1e32"/>
<path d="M274 151L281 151L281 181L276 180L272.5 173L272 160Z" fill="#aa001e"/>
<path d="M157.9 143C158.1 144.2 158.3 147.6 159 149.9C159.7 152.2 160.7 154.7 161.9 156.8C163.2 158.9 165.2 160.4 166.5 162.5C167.8 164.6 168.8 167.1 169.9 169.4C171.1 171.7 172.4 174.2 173.4 176.3C174.4 178.4 175.3 180.2 176.2 182C177 183.8 177.8 186.6 178.5 187.2C179.2 187.8 179.6 186.4 180.3 185.5C181 184.6 181.8 182 182.6 182C183.4 182 184.2 185.3 184.9 185.5C185.6 185.7 186 184.7 186.6 183.2C187.2 181.7 187.7 179.2 188.3 176.3C188.9 173.4 189.6 169.6 190 166C190.4 162.4 190.6 158.3 190.6 154.5C190.6 150.7 190.1 144.9 190 143" fill="none" stroke="#f00" stroke-width="1.15" stroke-linejoin="round"/>
<path d="M160.2 143C160.5 143.8 161.2 146.3 161.9 147.6C162.6 148.9 163.4 150.6 164.2 151C165 151.4 165.9 149.5 166.5 149.9C167.1 150.3 167.2 151.8 167.6 153.3C168 154.8 168 157 168.8 159.1C169.6 161.2 171.1 163.9 172.2 166C173.2 168.1 174.1 170.2 175.1 171.7C176.1 173.2 177.1 175.3 178 175.1C178.9 174.9 179.5 172.7 180.3 170.6C181.1 168.5 181.9 163.5 182.6 162.5C183.3 161.5 183.7 163.7 184.3 164.8C184.9 166 185.5 169.8 186 169.4C186.5 169 186.8 165 187.1 162.5C187.4 160 187.7 157.8 187.7 154.5C187.7 151.2 187.2 144.9 187.1 143" fill="none" stroke="#f00" stroke-width="1.15" stroke-linejoin="round"/>
<path d="M165.9 143C166.2 143.9 166.7 146.8 167.6 148.7C168.5 150.6 170.1 152.8 171.1 154.5C172.1 156.2 172.6 157.6 173.4 159.1C174.2 160.6 175.3 162.5 176.2 163.7C177 164.8 177.8 166.6 178.5 166C179.2 165.4 179.8 161.5 180.3 160.2C180.8 158.8 180.9 157.9 181.4 157.9C181.9 157.9 182.6 160.2 183.1 160.2C183.6 160.2 184 159.6 184.3 157.9C184.6 156.2 184.9 152.4 184.9 149.9C184.9 147.4 184.4 144.2 184.3 143" fill="none" stroke="#f00" stroke-width="1.15" stroke-linejoin="round"/>
<path d="M171.1 143C171.3 143.9 171.7 147 172.2 148.7C172.7 150.4 173.3 152.2 173.9 153.3C174.5 154.5 175.1 155.8 175.7 155.6C176.3 155.4 176.9 153.7 177.4 152.2C177.9 150.7 178.2 147.9 178.5 146.4C178.8 144.9 179 143.6 179.1 143" fill="none" stroke="#f00" stroke-width="1.15" stroke-linejoin="round"/>
<path d="M173.5 143C173.8 143.7 174.3 147 175 147C175.7 147 177.1 143.7 177.5 143" fill="none" stroke="#f00" stroke-width="1.6" stroke-linejoin="round"/>
<path d="M182.8 143C182.9 144 183.1 148 183.5 149C183.9 150 185.1 150 185.5 149C185.9 148 185.9 144 186 143" fill="none" stroke="#f00" stroke-width="1.4" stroke-linejoin="round"/>
<path d="M230 143C230.4 143.9 231.3 146.9 232.2 148.7C233.1 150.5 233.8 152.7 235.6 153.6C237.4 154.5 241.2 153.6 243 153.9C244.8 154.2 245.4 154.9 246.5 155.6C247.6 156.3 248.6 158.2 249.4 158C250.2 157.8 250.5 155.7 251.1 154.5C251.7 153.3 252.2 151.8 252.8 151C253.4 150.2 253.9 151.2 254.5 149.9C255.1 148.6 256 144.2 256.3 143" fill="none" stroke="#f00" stroke-width="1.15" stroke-linejoin="round"/>
<path d="M124.4 143C124.4 145 124.4 151.2 124.5 155C124.6 158.8 124.6 163 125 166C125.4 169 126.2 170.8 127 173C127.8 175.2 129.1 177.6 130 179C130.9 180.4 132.2 182 132.5 181.5C132.8 181 132.2 178.6 132 176C131.8 173.4 131.5 169.5 131.2 166C130.9 162.5 130.5 158.8 130.2 155C129.9 151.2 129.7 145 129.6 143" fill="none" stroke="#1e28f5" stroke-width="1.15" stroke-dasharray="4,1.7" stroke-linejoin="round"/>
<path d="M133.8 143C133.8 145.8 133.6 155.2 134 160C134.4 164.8 135 168.7 136 172C137 175.3 138.8 177.8 140 180C141.2 182.2 142.3 184.7 143.5 185.5C144.7 186.3 145.8 185.6 147 185C148.2 184.4 149.6 183.7 150.5 182C151.4 180.3 152.2 177.7 152.5 175C152.8 172.3 152.3 169.3 152 166C151.7 162.7 151.1 158.8 150.8 155C150.5 151.2 150.3 145 150.2 143" fill="none" stroke="#1e28f5" stroke-width="1.15" stroke-dasharray="4,1.7" stroke-linejoin="round"/>
<path d="M136.6 143C136.6 145 136.4 151.2 136.6 155C136.8 158.8 137 163 137.6 166C138.2 169 139.3 170.8 140 173C140.7 175.2 141.4 177.6 142 179C142.6 180.4 142.7 181.4 143.3 181.5C143.9 181.6 144.9 180.8 145.6 179.5C146.3 178.2 147 176.2 147.5 174C148 171.8 148.4 169.2 148.5 166C148.6 162.8 148.3 158.8 148 155C147.7 151.2 147 145 146.8 143" fill="none" stroke="#1e28f5" stroke-width="1.15" stroke-dasharray="4,1.7" stroke-linejoin="round"/>
<path d="M139.9 143C139.8 145 139.3 151.2 139.5 155C139.7 158.8 140.3 163.4 141 166C141.7 168.6 143.1 170.6 143.9 170.6C144.7 170.6 145.4 168.6 145.6 166C145.8 163.4 145.1 158.8 144.8 155C144.5 151.2 143.8 145 143.6 143" fill="none" stroke="#1e28f5" stroke-width="1.15" stroke-dasharray="4,1.7" stroke-linejoin="round"/>
<path d="M155.5 143C155.6 145 155.6 151 155.8 155C156.1 159 156.6 166.2 157 167C157.4 167.8 158.1 164 158.3 160C158.5 156 158.3 145.8 158.3 143" fill="none" stroke="#1e28f5" stroke-width="1.15" stroke-dasharray="4,1.7" stroke-linejoin="round"/>
<path d="M115.2 146C115.2 147.5 115.2 152.2 115.5 155C115.8 157.8 116.2 162.7 116.7 162.7C117.2 162.7 118 157.8 118.3 155C118.6 152.2 118.3 147.5 118.3 146" fill="none" stroke="#1e28f5" stroke-width="1.15" stroke-dasharray="4,1.7" stroke-linejoin="round"/>
<path d="M194.3 143C194.3 144.9 194.2 150.7 194.3 154.5C194.4 158.3 194.5 162.6 194.9 166C195.3 169.4 195.9 172.6 196.6 175.1C197.3 177.6 198.1 179.2 198.9 180.9C199.7 182.6 200.5 184 201.2 185.5C201.9 187 202.9 187.9 203 190C203.1 192.1 202.2 196.7 202 198" fill="none" stroke="#1e28f5" stroke-width="1.15" stroke-dasharray="4,1.7" stroke-linejoin="round"/>
<path d="M196.6 143C196.6 145.9 196.2 155.8 196.6 160.2C197 164.6 198.1 166.7 198.9 169.4C199.7 172.1 200.6 174.5 201.2 176.3C201.8 178.1 202.3 179.4 202.5 180" fill="none" stroke="#1e28f5" stroke-width="1.15" stroke-dasharray="4,1.7" stroke-linejoin="round"/>
<path d="M203 143C203.1 145 203.2 151.3 203.5 155C203.8 158.7 204.4 162.2 205 165C205.6 167.8 206.5 171.5 207 172C207.5 172.5 207.8 170.8 208 168C208.2 165.2 207.8 159.2 208 155C208.2 150.8 208.8 145 209 143" fill="none" stroke="#1e28f5" stroke-width="1.15" stroke-dasharray="4,1.7" stroke-linejoin="round"/>
<path d="M212.7 143C213.1 143.9 214.2 146.8 215 148.7C215.8 150.6 216.5 152.6 217.3 154.5C218.1 156.4 219 158.3 219.6 160.2C220.2 162.1 220.3 163.9 220.7 166C221.1 168.1 221.5 171 221.9 172.9C222.3 174.8 222.8 176.7 223 177.4" fill="none" stroke="#1e28f5" stroke-width="1.15" stroke-dasharray="4,1.7" stroke-linejoin="round"/>
<path d="M216.1 143C216.5 143.9 217.4 146.8 218.4 148.7C219.4 150.6 220.8 152.6 221.9 154.5C223.1 156.4 224.2 158.3 225.3 160.2C226.4 162.1 227.8 163.9 228.7 166C229.6 168.1 230.5 171 231 172.9C231.5 174.8 231.8 175.7 231.6 177.4C231.4 179.1 230.3 182.1 230 183" fill="none" stroke="#1e28f5" stroke-width="1.15" stroke-dasharray="4,1.7" stroke-linejoin="round"/>
<path d="M206 155C206.1 156.3 206.3 160.3 206.3 163C206.3 165.7 206 168.5 205.8 171C205.6 173.5 205.2 176.2 205 178C204.8 179.8 204.1 180.8 204.3 181.5C204.5 182.2 205.2 182 206 182C206.8 182 208.2 181.1 209.3 181.4C210.4 181.7 211.5 183.4 212.6 184C213.7 184.6 215.1 184.8 216 184.7C216.9 184.6 217.5 184.1 218.1 183.6C218.7 183.1 219.5 181.8 219.8 181.4" fill="none" stroke="#1e28f5" stroke-width="1.4" stroke-linejoin="round"/>
<path d="M205.9 194.6C206.3 194.8 207.6 195.3 208.5 195.9C209.4 196.5 210.1 197.6 211.1 198C212.1 198.4 213.3 198.5 214.6 198.5C215.9 198.5 217.7 198.4 219 198C220.3 197.6 221.2 196.7 222.4 195.9C223.6 195.1 225 194.5 225.9 193.3C226.8 192.1 227.3 190.5 228 188.9C228.7 187.3 229.5 185.4 230.2 183.7C230.9 182 231.8 180.3 232.4 178.9C233 177.5 233.3 175.7 233.5 175" fill="none" stroke="#1e28f5" stroke-width="1.4" stroke-linejoin="round"/>
<path d="M215.4 165.7a1.0 1.0 0 1 0 2 0a1.0 1.0 0 1 0 -2 0M222 165.7a1.0 1.0 0 1 0 2 0a1.0 1.0 0 1 0 -2 0M212.1 169a1.0 1.0 0 1 0 2 0a1.0 1.0 0 1 0 -2 0M218.7 169a1.0 1.0 0 1 0 2 0a1.0 1.0 0 1 0 -2 0M215.4 172.3a1.0 1.0 0 1 0 2 0a1.0 1.0 0 1 0 -2 0M222 172.3a1.0 1.0 0 1 0 2 0a1.0 1.0 0 1 0 -2 0M212.1 175.7a1.0 1.0 0 1 0 2 0a1.0 1.0 0 1 0 -2 0M218.7 175.7a1.0 1.0 0 1 0 2 0a1.0 1.0 0 1 0 -2 0M225.4 175.7a1.0 1.0 0 1 0 2 0a1.0 1.0 0 1 0 -2 0M208.8 179a1.0 1.0 0 1 0 2 0a1.0 1.0 0 1 0 -2 0M215.4 179a1.0 1.0 0 1 0 2 0a1.0 1.0 0 1 0 -2 0M222 179a1.0 1.0 0 1 0 2 0a1.0 1.0 0 1 0 -2 0M228.7 179a1.0 1.0 0 1 0 2 0a1.0 1.0 0 1 0 -2 0M212.1 182.3a1.0 1.0 0 1 0 2 0a1.0 1.0 0 1 0 -2 0M218.7 182.3a1.0 1.0 0 1 0 2 0a1.0 1.0 0 1 0 -2 0M225.4 182.3a1.0 1.0 0 1 0 2 0a1.0 1.0 0 1 0 -2 0M232 182.3a1.0 1.0 0 1 0 2 0a1.0 1.0 0 1 0 -2 0M208.8 185.6a1.0 1.0 0 1 0 2 0a1.0 1.0 0 1 0 -2 0M215.4 185.6a1.0 1.0 0 1 0 2 0a1.0 1.0 0 1 0 -2 0M222 185.6a1.0 1.0 0 1 0 2 0a1.0 1.0 0 1 0 -2 0M228.7 185.6a1.0 1.0 0 1 0 2 0a1.0 1.0 0 1 0 -2 0M205.5 188.9a1.0 1.0 0 1 0 2 0a1.0 1.0 0 1 0 -2 0M212.1 188.9a1.0 1.0 0 1 0 2 0a1.0 1.0 0 1 0 -2 0M218.7 188.9a1.0 1.0 0 1 0 2 0a1.0 1.0 0 1 0 -2 0M225.4 188.9a1.0 1.0 0 1 0 2 0a1.0 1.0 0 1 0 -2 0M232 188.9a1.0 1.0 0 1 0 2 0a1.0 1.0 0 1 0 -2 0M208.8 192.2a1.0 1.0 0 1 0 2 0a1.0 1.0 0 1 0 -2 0M215.4 192.2a1.0 1.0 0 1 0 2 0a1.0 1.0 0 1 0 -2 0M222 192.2a1.0 1.0 0 1 0 2 0a1.0 1.0 0 1 0 -2 0M228.7 192.2a1.0 1.0 0 1 0 2 0a1.0 1.0 0 1 0 -2 0M205.5 195.5a1.0 1.0 0 1 0 2 0a1.0 1.0 0 1 0 -2 0M212.1 195.5a1.0 1.0 0 1 0 2 0a1.0 1.0 0 1 0 -2 0M218.7 195.5a1.0 1.0 0 1 0 2 0a1.0 1.0 0 1 0 -2 0M225.4 195.5a1.0 1.0 0 1 0 2 0a1.0 1.0 0 1 0 -2 0M232 195.5a1.0 1.0 0 1 0 2 0a1.0 1.0 0 1 0 -2 0M208.8 198.8a1.0 1.0 0 1 0 2 0a1.0 1.0 0 1 0 -2 0M215.4 198.8a1.0 1.0 0 1 0 2 0a1.0 1.0 0 1 0 -2 0M222 198.8a1.0 1.0 0 1 0 2 0a1.0 1.0 0 1 0 -2 0M228.7 198.8a1.0 1.0 0 1 0 2 0a1.0 1.0 0 1 0 -2 0M205.5 202.1a1.0 1.0 0 1 0 2 0a1.0 1.0 0 1 0 -2 0M212.1 202.1a1.0 1.0 0 1 0 2 0a1.0 1.0 0 1 0 -2 0M218.7 202.1a1.0 1.0 0 1 0 2 0a1.0 1.0 0 1 0 -2 0M225.4 202.1a1.0 1.0 0 1 0 2 0a1.0 1.0 0 1 0 -2 0" fill="#000"/>
<path d="M174.7 145.9a1.0 1.0 0 1 0 2 0a1.0 1.0 0 1 0 -2 0M266.8 159.1a1.0 1.0 0 1 0 2 0a1.0 1.0 0 1 0 -2 0M270.2 162.5a1.0 1.0 0 1 0 2 0a1.0 1.0 0 1 0 -2 0M266.8 166a1.0 1.0 0 1 0 2 0a1.0 1.0 0 1 0 -2 0M240.2 198.7a1.0 1.0 0 1 0 2 0a1.0 1.0 0 1 0 -2 0M243.5 195.4a1.0 1.0 0 1 0 2 0a1.0 1.0 0 1 0 -2 0M132 189a1.0 1.0 0 1 0 2 0a1.0 1.0 0 1 0 -2 0M203.7 189a1.0 1.0 0 1 0 2 0a1.0 1.0 0 1 0 -2 0M203.7 202a1.0 1.0 0 1 0 2 0a1.0 1.0 0 1 0 -2 0M121.9 211.6a1.0 1.0 0 1 0 2 0a1.0 1.0 0 1 0 -2 0M121.9 218.2a1.0 1.0 0 1 0 2 0a1.0 1.0 0 1 0 -2 0M138.3 149.3a1.0 1.0 0 1 0 2 0a1.0 1.0 0 1 0 -2 0M141.8 152.8a1.0 1.0 0 1 0 2 0a1.0 1.0 0 1 0 -2 0M138.3 155.6a1.0 1.0 0 1 0 2 0a1.0 1.0 0 1 0 -2 0M141.8 159.1a1.0 1.0 0 1 0 2 0a1.0 1.0 0 1 0 -2 0M138.3 162.5a1.0 1.0 0 1 0 2 0a1.0 1.0 0 1 0 -2 0M141.8 165.4a1.0 1.0 0 1 0 2 0a1.0 1.0 0 1 0 -2 0M138.3 168.9a1.0 1.0 0 1 0 2 0a1.0 1.0 0 1 0 -2 0M132 182.7a1.0 1.0 0 1 0 2 0a1.0 1.0 0 1 0 -2 0M132 189a1.0 1.0 0 1 0 2 0a1.0 1.0 0 1 0 -2 0" fill="#000"/>
</g>
<rect x="56.5" y="143.5" width="224.0" height="84.0" fill="none" stroke="#000" stroke-width="1.1"/>
<rect x="58.5" y="145.5" width="21.5" height="19.8" fill="#fff" stroke="#333" stroke-width="0.8"/>
<text transform="translate(69.40 154.86) scale(1 1.12)" y="3.94" font-family='"Liberation Sans", sans-serif' font-size="11.0" text-anchor="middle">(c)</text>
<text transform="translate(44.00 163.06) scale(1 1.12)" y="3.51" font-family='"Liberation Sans", sans-serif' font-size="9.8" text-anchor="end">5</text>
<text transform="translate(44.00 171.49) scale(1 1.12)" y="3.51" font-family='"Liberation Sans", sans-serif' font-size="9.8" text-anchor="end">10</text>
<text transform="translate(44.00 179.92) scale(1 1.12)" y="3.51" font-family='"Liberation Sans", sans-serif' font-size="9.8" text-anchor="end">20</text>
<text transform="translate(44.00 191.06) scale(1 1.12)" y="3.51" font-family='"Liberation Sans", sans-serif' font-size="9.8" text-anchor="end">50</text>
<text transform="translate(44.00 199.49) scale(1 1.12)" y="3.51" font-family='"Liberation Sans", sans-serif' font-size="9.8" text-anchor="end">100</text>
<text transform="translate(44.00 207.92) scale(1 1.12)" y="3.51" font-family='"Liberation Sans", sans-serif' font-size="9.8" text-anchor="end">200</text>
<text transform="translate(44.00 219.06) scale(1 1.12)" y="3.51" font-family='"Liberation Sans", sans-serif' font-size="9.8" text-anchor="end">500</text>
<text transform="translate(44.00 227.49) scale(1 1.12)" y="3.51" font-family='"Liberation Sans", sans-serif' font-size="9.8" text-anchor="end">1000</text>
<text transform="translate(56.30 243.46) scale(1 1.12)" y="3.54" font-family='"Liberation Sans", sans-serif' font-size="9.9" text-anchor="middle">Sep</text>
<text transform="translate(80.97 243.46) scale(1 1.12)" y="3.54" font-family='"Liberation Sans", sans-serif' font-size="9.9" text-anchor="middle">Oct</text>
<text transform="translate(106.47 243.46) scale(1 1.12)" y="3.54" font-family='"Liberation Sans", sans-serif' font-size="9.9" text-anchor="middle">Nov</text>
<text transform="translate(131.15 243.46) scale(1 1.12)" y="3.54" font-family='"Liberation Sans", sans-serif' font-size="9.9" text-anchor="middle">Dec</text>
<text transform="translate(156.65 243.46) scale(1 1.12)" y="3.54" font-family='"Liberation Sans", sans-serif' font-size="9.9" text-anchor="middle">Jan</text>
<text transform="translate(182.14 243.46) scale(1 1.12)" y="3.54" font-family='"Liberation Sans", sans-serif' font-size="9.9" text-anchor="middle">Feb</text>
<text transform="translate(205.17 243.46) scale(1 1.12)" y="3.54" font-family='"Liberation Sans", sans-serif' font-size="9.9" text-anchor="middle">Mar</text>
<text transform="translate(230.67 243.46) scale(1 1.12)" y="3.54" font-family='"Liberation Sans", sans-serif' font-size="9.9" text-anchor="middle">Apr</text>
<text transform="translate(255.35 243.46) scale(1 1.12)" y="3.54" font-family='"Liberation Sans", sans-serif' font-size="9.9" text-anchor="middle">May</text>
<path d="M51.20 163.07H56.5 M51.20 171.50H56.5 M51.20 179.93H56.5 M51.20 191.07H56.5 M51.20 199.50H56.5 M51.20 207.93H56.5 M51.20 219.07H56.5 M51.20 227.50H56.5 M56.30 227.5V232.7 M80.97 227.5V232.7 M106.47 227.5V232.7 M131.15 227.5V232.7 M156.65 227.5V232.7 M182.14 227.5V232.7 M205.17 227.5V232.7 M230.67 227.5V232.7 M255.35 227.5V232.7" stroke="#000" stroke-width="1.4" fill="none"/>
<g clip-path="url(#c02)">
<rect x="56.5" y="262.5" width="224.0" height="84.0" fill="#e6ffff"/>
<path d="M75 262L104 262L106 280L112 300L116 347L78 347L77 300L76 280Z" fill="#fffadc"/>
<path d="M134 270L166 262L180 262L182 280L185 310L180 347L150 347L147 330L140 300L135 285Z" fill="#fffadc"/>
<path d="M118 300L128 300L130 347L118 347Z" fill="#fffadc"/>
<path d="M60 262L75 262L76 283L60 283Z" fill="#fffadc"/>
<path d="M228 326C229.3 322.5 234.7 322.5 236 326C237.3 329.5 237.3 343.5 236 347C234.7 350.5 229.3 350.5 228 347C226.7 343.5 226.7 329.5 228 326Z" fill="#fffadc"/>
<path d="M245 322C246.5 317.8 253.2 317.8 255 322C256.8 326.2 257.5 342.8 256 347C254.5 351.2 247.8 351.2 246 347C244.2 342.8 243.5 326.2 245 322Z" fill="#fffadc"/>
<path d="M63.7 283C65.4 280.2 71.7 280.2 74 283C76.3 285.8 77 293.8 77.5 300C78 306.2 77 312.2 77 320C77 327.8 79.7 342.5 77.5 347C75.3 351.5 66.1 351.5 64 347C61.9 342.5 65 327.8 65 320C65 312.2 64.2 306.2 64 300C63.8 293.8 62 285.8 63.7 283Z" fill="#96e1fa"/>
<path d="M65 288C66 285.7 70.5 284 72 286C73.5 288 73.8 294.3 74 300C74.2 305.7 73.7 314.2 73 320C72.3 325.8 71.2 335 70 335C68.8 335 66.7 325.8 66 320C65.3 314.2 66.2 305.3 66 300C65.8 294.7 64 290.3 65 288Z" fill="#6ec8fa"/>
<path d="M67.3 296.8C68 293.7 71 294.6 72 296C73 297.4 73 301.9 73 305C73 308.1 72.8 313.2 72 314.9C71.2 316.5 68.8 317.9 68 314.9C67.2 311.9 66.6 299.9 67.3 296.8Z" fill="#328cf5"/>
<path d="M67 340C67.7 338.8 70.3 338.8 71 340C71.7 341.2 71.7 345.8 71 347C70.3 348.2 67.7 348.2 67 347C66.3 345.8 66.3 341.2 67 340Z" fill="#328cf5"/>
<path d="M77.5 303C78.3 299.5 82.2 299.5 83 303C83.8 306.5 82.8 320.5 82 324C81.2 327.5 78.8 327.5 78 324C77.2 320.5 76.7 306.5 77.5 303Z" fill="#96e1fa"/>
<path d="M90 319C91.1 314.3 95.7 314.3 96.7 319C97.7 323.7 97.1 342.3 96 347C94.9 351.7 91 351.7 90 347C89 342.3 88.9 323.7 90 319Z" fill="#96e1fa"/>
<path d="M119.3 305.8C120.3 302.8 124.9 302.8 126 305.8C127.1 308.8 127 321 126 324C125 327 121.1 327 120 324C118.9 321 118.3 308.8 119.3 305.8Z" fill="#96e1fa"/>
<path d="M137.4 315C138.8 309.7 145 309.7 146.4 315C147.8 320.3 147.4 341.7 146 347C144.6 352.3 139.4 352.3 138 347C136.6 341.7 136 320.3 137.4 315Z" fill="#96e1fa"/>
<path d="M140 325C140.7 322.5 143.3 322.5 144 325C144.7 327.5 144.7 337.5 144 340C143.3 342.5 140.7 342.5 140 340C139.3 337.5 139.3 327.5 140 325Z" fill="#6ec8fa"/>
<path d="M148 330C148.7 327.2 151.3 327.2 152 330C152.7 332.8 152.7 344.2 152 347C151.3 349.8 148.7 349.8 148 347C147.3 344.2 147.3 332.8 148 330Z" fill="#96e1fa"/>
<path d="M84 280C84.7 277.3 87.3 277.3 88 280C88.7 282.7 88.7 293.3 88 296C87.3 298.7 84.7 298.7 84 296C83.3 293.3 83.3 282.7 84 280Z" fill="#96e1fa"/>
<path d="M81 262C82.2 259 88.2 259 89.4 262C90.7 265 89.7 277 88.5 280C87.3 283 83.2 283 82 280C80.8 277 79.8 265 81 262Z" fill="#ffc88c"/>
<path d="M95 262C96.2 259.7 102 259.7 103.3 262C104.6 264.3 103.5 272.5 103 276C102.5 279.5 101.2 283 100 283C98.8 283 96.8 279.5 96 276C95.2 272.5 93.8 264.3 95 262Z" fill="#ffc88c"/>
<path d="M124.6 262C125.6 259.9 129.9 259.9 131 262C132.1 264.1 132 272.4 131 274.5C130 276.6 126.1 276.6 125 274.5C123.9 272.4 123.6 264.1 124.6 262Z" fill="#ffc88c"/>
<path d="M102 314C102.6 310.8 105.4 310.8 106 314C106.6 317.2 106.1 329.8 105.5 333C104.9 336.2 103.1 336.2 102.5 333C101.9 329.8 101.4 317.2 102 314Z" fill="#ffc88c"/>
<path d="M107 312C107.7 306.2 110.3 306.2 111 312C111.7 317.8 111.7 341.2 111 347C110.3 352.8 107.7 352.8 107 347C106.3 341.2 106.3 317.8 107 312Z" fill="#ffc88c"/>
<path d="M113.5 309C114.2 303.7 117.7 303.7 118.5 309C119.3 314.3 119.2 335.7 118.5 341C117.8 346.3 114.8 346.3 114 341C113.2 335.7 112.8 314.3 113.5 309Z" fill="#ffc88c"/>
<path d="M115 314C115.4 312 117.1 312 117.5 314C117.9 316 117.7 324 117.3 326C116.9 328 115.7 328 115.3 326C114.9 324 114.6 316 115 314Z" fill="#ffa064"/>
<path d="M128.3 303.6C129.2 298.3 133.1 298.3 134 303.6C134.9 308.9 134.4 329.9 133.5 335.2C132.6 340.5 129.4 340.5 128.5 335.2C127.6 329.9 127.4 308.9 128.3 303.6Z" fill="#ffc88c"/>
<path d="M75.2 335C75.8 333 78 333 78.6 335C79.2 337 79.2 345 78.6 347C78 349 75.8 349 75.2 347C74.6 345 74.6 337 75.2 335Z" fill="#ffc88c"/>
<path d="M159 303.6C161.3 296.4 171.1 296.4 173.6 303.6C176.1 310.8 176.3 339.8 174 347C171.7 354.2 162.5 354.2 160 347C157.5 339.8 156.7 310.8 159 303.6Z" fill="#ffc88c"/>
<path d="M164.5 310C165.6 307.3 170.2 307.3 171.3 310C172.4 312.7 172.1 323.3 171 326C169.9 328.7 166.1 328.7 165 326C163.9 323.3 163.4 312.7 164.5 310Z" fill="#ffa064"/>
<path d="M178 308C179.3 301.5 184.7 301.5 186 308C187.3 314.5 187.3 340.5 186 347C184.7 353.5 179.3 353.5 178 347C176.7 340.5 176.7 314.5 178 308Z" fill="#ffc88c"/>
<path d="M56 262L63 262L63 310L62 347L56 347Z" fill="#ffc88c"/>
<path d="M56 270L62.3 280L62.3 303L59 305L56 303Z" fill="#ffa064"/>
<rect x="59" y="285" width="2.5" height="13" fill="#fa463c"/>
<rect x="56" y="262" width="2.5" height="8.3" fill="#aa001e"/>
<rect x="56" y="262" width="25" height="1.7" fill="#eb1e32"/>
<path d="M115.8 277.3C116.1 275.7 117.6 275.7 118 277.3C118.4 278.9 118.3 285.4 118 287C117.7 288.6 116.4 288.6 116 287C115.6 285.4 115.5 278.9 115.8 277.3Z" fill="#fa463c"/>
<path d="M182 276L190 272L200 269L212 270L225 276L236 283L240 290L242 305L250.6 305L250.6 327.6L238.4 327.6L230 329L215 330L200 330L185 329L180 320L181 300Z" fill="#ffc88c"/>
<path d="M239.5 301.7C242.7 299.2 256 301.9 259.3 305C262.6 308.1 262.5 317.5 259.3 320C256.1 322.5 243.3 323.1 240 320C236.7 316.9 236.3 304.2 239.5 301.7Z" fill="#ffc88c"/>
<path d="M186 300L195 296L210 292L225 290L239 292L240 311L230 320L200 322L186 318Z" fill="#ffa064"/>
<path d="M182.5 312L200 308L217 306L232 305L239 300L240.6 316L237.5 322L231.7 327.6L220 328.5L205 328.5L190 328L182.5 325Z" fill="#fa463c"/>
<path d="M209.7 313C211.4 310.6 218.3 310.5 222 311C225.7 311.5 230.7 313.6 231.7 316C232.7 318.4 231.3 324.1 228 325.7C224.7 327.3 215.1 327.8 212 325.7C208.9 323.6 208 315.4 209.7 313Z" fill="#eb1e32"/>
<path d="M217 317.5C217.8 316.5 220.8 316.4 222 317C223.2 317.6 224.5 319.8 224.3 321C224.1 322.2 222.2 324 221 324.3C219.8 324.6 217.7 324.1 217 323C216.3 321.9 216.2 318.5 217 317.5Z" fill="#aa001e"/>
<path d="M199.5 273.3C200.2 271.3 202.7 271.1 204 273C205.3 274.9 206.8 281.2 207.4 285C208 288.8 208.3 294.2 207.4 296C206.5 297.8 203.2 297.8 202 296C200.8 294.2 200.4 288.8 200 285C199.6 281.2 198.8 275.3 199.5 273.3Z" fill="#fa463c"/>
<path d="M223.2 292C225 289.5 232.7 289.3 236 290C239.3 290.7 241.8 293.5 243 296C244.2 298.5 246 303.5 243 305C240 306.5 228.3 307.2 225 305C221.7 302.8 221.4 294.5 223.2 292Z" fill="#fa463c"/>
<path d="M184.5 326C185.6 322.5 190.4 322.5 191.4 326C192.4 329.5 191.6 343.5 190.5 347C189.4 350.5 186 350.5 185 347C184 343.5 183.4 329.5 184.5 326Z" fill="#ffa064"/>
<path d="M186 326C186.5 323.7 189 323.7 189.5 326C190 328.3 189.5 337.7 189 340C188.5 342.3 187 342.3 186.5 340C186 337.7 185.5 328.3 186 326Z" fill="#fa463c"/>
<path d="M203.6 326C204.4 322.5 208 322.5 208.8 326C209.6 329.5 209.1 343.5 208.3 347C207.5 350.5 204.8 350.5 204 347C203.2 343.5 202.8 329.5 203.6 326Z" fill="#ffa064"/>
<path d="M215.8 326C216.6 323.2 220.2 323.2 221 326C221.8 328.8 221.3 340.2 220.5 343C219.7 345.8 217.1 345.8 216.3 343C215.5 340.2 215 328.8 215.8 326Z" fill="#ffa064"/>
<path d="M217 326C217.4 324.3 219.6 324.3 220 326C220.4 327.7 219.9 334.3 219.5 336C219.1 337.7 217.9 337.7 217.5 336C217.1 334.3 216.6 327.7 217 326Z" fill="#fa463c"/>
<path d="M257.5 310C258.3 307.1 261.9 307.1 262.7 310C263.5 312.9 263.1 324.7 262.3 327.6C261.5 330.5 258.8 330.5 258 327.6C257.2 324.7 256.7 312.9 257.5 310Z" fill="#ffa064"/>
<path d="M235.2 262L281 262L281 312L277.7 308L270.7 304L263.6 298L255 293.2L246.6 287.5L239.5 276.2Z" fill="#96e1fa"/>
<path d="M243 262L281 262L281 310L276.3 304L268 296L259.3 287L250 279L246 270Z" fill="#6ec8fa"/>
<path d="M250 265L262 262L281 262L281 308L274 300L266 290L258 281L253 273Z" fill="#328cf5"/>
<path d="M258 270L266 264L281 264L281 306L274 300L267 290L261 280Z" fill="#1e55fa"/>
<path d="M265 274L272 270L281 269L281 304L276 302L270 295L266 286Z" fill="#2310d2"/>
<path d="M252 262C253.3 261.2 260.3 261.3 262 262C263.7 262.7 263.3 265.2 262 266C260.7 266.8 255.7 267.7 254 267C252.3 266.3 250.7 262.8 252 262Z" fill="#6ec8fa"/>
<path d="M270 262C271.5 261.3 279.2 261.3 281 262C282.8 262.7 282.5 265.3 281 266C279.5 266.7 273.8 266.7 272 266C270.2 265.3 268.5 262.7 270 262Z" fill="#328cf5"/>
<path d="M233.5 327C234.2 324.5 237.8 324.5 238.5 327C239.2 329.5 238.8 339.5 238 342C237.2 344.5 234.8 344.5 234 342C233.2 339.5 232.8 329.5 233.5 327Z" fill="#96e1fa"/>
<path d="M250.6 322C251.9 317.8 257.6 317.8 259 322C260.4 326.2 260.3 342.8 259 347C257.7 351.2 252.4 351.2 251 347C249.6 342.8 249.3 326.2 250.6 322Z" fill="#96e1fa"/>
<path d="M268 313C270.2 307.3 278.8 307.3 281 313C283.2 318.7 283.2 341.3 281 347C278.8 352.7 270.2 352.7 268 347C265.8 341.3 265.8 318.7 268 313Z" fill="#96e1fa"/>
<path d="M271.5 305C272.6 298 277.3 298 278.4 305C279.5 312 279.1 340 278 347C276.9 354 273.1 354 272 347C270.9 340 270.4 312 271.5 305Z" fill="#6ec8fa"/>
<path d="M276 300C276.7 295.8 280.2 295.8 281 300C281.8 304.2 281.7 320.8 281 325C280.3 329.2 277.8 329.2 277 325C276.2 320.8 275.3 304.2 276 300Z" fill="#328cf5"/>
<path d="M134.7 262C134.9 263.9 135.3 269.8 135.9 273.7C136.5 277.6 137.4 282.2 138.2 285.5C139 288.8 139.8 291.2 140.6 293.7C141.4 296.2 142.1 298.9 142.9 300.7C143.7 302.5 144.5 303.9 145.3 304.3C146.1 304.7 146.9 303.7 147.6 303.1C148.3 302.5 148.7 300.5 149.4 300.7C150.1 300.9 151 303.9 151.7 304.3C152.4 304.7 152.9 303.7 153.5 303.1C154.1 302.5 154.4 300.7 155.2 300.7C156 300.7 157.1 302.1 158.2 303.1C159.3 304.1 160.5 305.8 161.7 306.6C162.9 307.4 164 307.5 165.2 307.8C166.4 308.1 167.5 308.6 168.7 308.4C169.9 308.2 171.3 307.9 172.3 306.6C173.3 305.3 173.9 302.5 174.6 300.7C175.3 298.9 176 297.9 176.4 296C176.8 294.1 177 290.9 176.9 289C176.8 287.1 176.4 285.5 175.8 284.3C175.2 283.1 174.2 283.2 173.4 282C172.6 280.8 171.9 278.7 171.1 277.3C170.3 275.9 169.5 274.7 168.7 273.7C167.9 272.7 167.2 272.4 166.4 271.4C165.6 270.4 164.8 269.5 164 267.9C163.2 266.3 162.1 263 161.7 262" fill="none" stroke="#f00" stroke-width="1.15" stroke-linejoin="round"/>
<path d="M136.5 262C136.6 263.6 136.5 268.1 137 271.4C137.5 274.7 138.4 278.9 139.4 282C140.4 285.1 141.9 288.1 142.9 290.2C143.9 292.3 144.5 294.3 145.3 294.9C146.1 295.5 146.8 294.5 147.6 293.7C148.4 292.9 149.2 291.2 150 290.2C150.8 289.2 151.5 287.6 152.3 287.8C153.1 288 153.6 290.1 154.6 291.3C155.6 292.5 157 294.5 158.2 294.9C159.4 295.3 160.7 294.5 161.7 293.7C162.7 292.9 163.4 291.6 164 290.2C164.6 288.8 165.2 287.3 165.2 285.5C165.2 283.7 164.6 281.6 164 279.6C163.4 277.6 162.5 275.6 161.7 273.7C160.9 271.8 159.9 269.8 159.3 267.9C158.7 265.9 158.4 263 158.2 262" fill="none" stroke="#f00" stroke-width="1.15" stroke-linejoin="round"/>
<path d="M138.2 262C138.4 263.6 138.8 268.5 139.4 271.4C140 274.3 140.9 277.7 141.7 279.6C142.5 281.6 143.1 282.3 144.1 283.1C145.1 283.9 146.6 284.7 147.6 284.3C148.6 283.9 149.2 280.6 150 280.8C150.8 281 151.3 284.3 152.3 285.5C153.3 286.7 154.6 287.6 155.8 287.8C157 288 158.5 287.6 159.3 286.6C160.1 285.6 160.5 283.8 160.5 282C160.5 280.2 159.7 278.3 159.3 276.1C158.9 273.9 158.6 271.4 158.2 269C157.8 266.6 157.2 263.2 157 262" fill="none" stroke="#f00" stroke-width="1.15" stroke-linejoin="round"/>
<path d="M140 262C140.2 263.2 140.5 266.6 141.2 269C141.9 271.4 143 274.7 144.1 276.1C145.2 277.5 146.6 277.7 147.6 277.3C148.6 276.9 149.4 275.3 150 273.7C150.6 272.1 151 269.8 151.1 267.9C151.2 265.9 150.6 263 150.5 262" fill="none" stroke="#f00" stroke-width="1.15" stroke-linejoin="round"/>
<path d="M153.5 262C153.6 263.6 153.8 268.7 154.1 271.4C154.4 274.1 154.7 276.8 155.2 278.4C155.7 280 156.5 281.2 157 280.8C157.5 280.4 158.1 278.2 158.2 276.1C158.3 274 157.8 270.2 157.6 267.9C157.4 265.5 157.1 263 157 262" fill="none" stroke="#f00" stroke-width="1.15" stroke-linejoin="round"/>
<rect x="136.5" y="262" width="2.5" height="14" fill="#fa463c"/>
<path d="M127 262 L128 270.3" fill="none" stroke="#f00" stroke-width="1.15" stroke-linejoin="round"/>
<path d="M182.5 262C182.3 264.1 181.4 269.3 181.4 274.5C181.4 279.7 181.8 287.3 182.5 293.2C183.2 299.1 184.2 305.3 185.6 309.8C187 314.3 188.2 317.8 190.8 320.2C193.4 322.6 197.7 323.4 201.2 324.3C204.7 325.2 207.8 325.4 211.6 325.4C215.4 325.4 220.2 324.8 224 324.3C227.8 323.8 231.6 323.7 234.4 322.3C237.2 320.9 239.4 319.1 240.6 316C241.8 312.9 241.6 307.3 241.7 303.6C241.8 299.9 241.7 296.5 241.3 293.7C241 290.9 240.3 289 239.6 286.9C238.8 284.8 237.8 282.9 236.8 281.2C235.8 279.5 234.7 278 233.4 276.7C232.1 275.4 230.6 274.1 228.9 273.3C227.2 272.6 225.5 272.9 223.2 272.2C220.9 271.4 217.8 270.5 215.3 268.8C212.9 267.1 209.6 263.1 208.5 262" fill="none" stroke="#f00" stroke-width="1.15" stroke-linejoin="round"/>
<path d="M186 262C186 265.8 185.3 279 185.9 284.6C186.5 290.2 188.1 291.7 189.3 295.9C190.5 300.1 191.2 306.3 193 310C194.8 313.7 197 316.2 200 318C203 319.8 207 320.7 211 321C215 321.3 220.3 320.8 224 320C227.7 319.2 230.7 318 233 316C235.3 314 237 310.8 238 308C239 305.2 239 301.9 239 299.3C239 296.7 238.7 294.8 237.9 292.5C237.2 290.2 235.6 287.6 234.5 285.7C233.4 283.8 232.6 282.5 231.1 281.2C229.6 279.9 227.8 278.7 225.5 277.8C223.2 276.9 219.9 277.1 217.6 275.6C215.3 274.1 213.8 271.1 211.9 268.8C210 266.5 207 263.1 206 262" fill="none" stroke="#f00" stroke-width="1.15" stroke-linejoin="round"/>
<path d="M191.6 262C191.8 263.9 192.3 269.5 192.7 273.3C193.1 277.1 193.4 280.8 193.8 284.6C194.2 288.4 194.3 292.4 195 296C195.7 299.6 196.5 303.2 198 306C199.5 308.8 201.5 311.3 204 313C206.5 314.7 209.7 315.7 213 316C216.3 316.3 221 316 224 315C227 314 229.2 312.8 231 310C232.8 307.2 234.3 301.3 234.5 298.2C234.7 295.1 233.4 293.3 232.3 291.4C231.2 289.5 229.2 288 227.7 286.9C226.2 285.8 225.3 285.6 223.2 284.6C221.1 283.7 217.6 282.7 215.3 281.2C213.1 279.7 211.6 277.8 209.7 275.6C207.8 273.4 205.3 270.3 204 268C202.7 265.7 202.3 263 202 262" fill="none" stroke="#f00" stroke-width="1.15" stroke-linejoin="round"/>
<path d="M196.5 262C196.6 264.2 196.7 270.3 197 275C197.3 279.7 197.8 285.8 198.5 290C199.2 294.2 199.9 297.3 201.5 300C203.1 302.7 205.2 304.9 208 306C210.8 307.1 215 307.2 218 306.5C221 305.8 224.5 303.8 226 302C227.5 300.2 227.7 297.7 227 296C226.3 294.3 224.2 292.8 222 292C219.8 291.2 216.3 292.2 214 291.5C211.7 290.8 209.5 290.2 208 288C206.5 285.8 205.6 282.3 205 278C204.4 273.7 204.6 264.7 204.5 262" fill="none" stroke="#f00" stroke-width="1.15" stroke-linejoin="round"/>
<path d="M200.6 276C200.4 275.9 202.1 273.3 203 273.3C203.9 273.3 205.3 274.2 206 276C206.7 277.8 206.5 281.8 207 284C207.5 286.2 207.9 287.8 209 289C210.1 290.2 212.1 291.2 213.5 291.4C214.9 291.6 217.1 290.6 217.6 290C218.1 289.4 217.3 288.1 216.5 287.5C215.7 286.9 214.1 287.2 213 286.5C211.9 285.8 210.8 284.4 210 283C209.2 281.6 209 279.5 208 278C207 276.5 205.2 274.3 204 274C202.8 273.7 200.8 276.1 200.6 276Z" fill="none" stroke="#f00" stroke-width="1.15" stroke-linejoin="round"/>
<path d="M213.5 286C214 285 215.1 284.3 216 285C216.9 285.7 219 288.7 219 290C219 291.3 217 292.8 216 293C215 293.2 213.4 292.2 213 291C212.6 289.8 213 287 213.5 286Z" fill="none" stroke="#f00" stroke-width="1.15" stroke-linejoin="round"/>
<path d="M180.3 281.2C180.5 282.7 180.7 287.1 181.4 290.3C182.2 293.5 183.7 297.1 184.8 300.4C185.9 303.7 187.5 308.4 188 310" fill="none" stroke="#f00" stroke-width="1.15" stroke-linejoin="round"/>
<path d="M176 262C176.3 264.2 177.5 270.3 178 275C178.5 279.7 179 285.3 179 290C179 294.7 178.5 299.7 178 303C177.5 306.3 176.3 308.8 176 310" fill="none" stroke="#f00" stroke-width="1.15" stroke-linejoin="round"/>
<path d="M231 277.6C232.2 278.3 236 280.4 238.1 281.8C240.2 283.2 241.8 284.9 243.7 286.1C245.6 287.3 247.5 288.7 249.4 288.9C251.3 289.1 253.4 288 255.1 287.5C256.8 287 257.9 287.1 259.3 286.1C260.7 285.2 262.4 283.9 263.6 281.8C264.8 279.7 265.9 276.6 266.4 273.3C266.9 270 266.4 263.9 266.4 262" fill="none" stroke="#1e28f5" stroke-width="1.15" stroke-dasharray="4,1.7" stroke-linejoin="round"/>
<path d="M231 266.2C231.7 267.1 233.8 270.2 235.2 271.9C236.6 273.6 238.1 275.7 239.5 276.2C240.9 276.7 242.5 276.1 243.7 274.7C244.9 273.3 246 269.8 246.6 267.7C247.2 265.6 247.2 262.9 247.3 262" fill="none" stroke="#1e28f5" stroke-width="1.15" stroke-dasharray="4,1.7" stroke-linejoin="round"/>
<path d="M220 262C220.5 262.7 222 265 223 266C224 267 225 268.3 226 268C227 267.7 228.3 265 229 264C229.7 263 229.8 262.3 230 262" fill="none" stroke="#1e28f5" stroke-width="1.15" stroke-dasharray="4,1.7" stroke-linejoin="round"/>
<path d="M168.7 262C168.9 263 169.4 266.1 170 268C170.6 269.9 171.3 273.7 172 273.7C172.7 273.7 173.3 269.6 174 268C174.7 266.4 175.3 263.7 176 264C176.7 264.3 177.3 268.5 178 270C178.7 271.5 179.3 273.3 180 273C180.7 272.7 181.3 269.5 182 268C182.7 266.5 183.3 263.7 184 264C184.7 264.3 185.3 268.3 186 270C186.7 271.7 187.2 274 188 274C188.8 274 190.2 271.7 191 270C191.8 268.3 192.2 264.3 193 264C193.8 263.7 195 266.7 196 268C197 269.3 198 272.3 199 272C200 271.7 201.2 267.7 202 266C202.8 264.3 203.7 262.7 204 262" fill="none" stroke="#1e28f5" stroke-width="1.15" stroke-dasharray="4,1.7" stroke-linejoin="round"/>
<path d="M172 262C172.3 263.3 173.2 268 174 270C174.8 272 176 274.3 177 274C178 273.7 179 268.3 180 268C181 267.7 182 270.7 183 272C184 273.3 185 276 186 276C187 276 188 273.7 189 272C190 270.3 191.2 267.7 192 266C192.8 264.3 193.7 262.7 194 262" fill="none" stroke="#1e28f5" stroke-width="1.1" stroke-dasharray="4,1.7" stroke-linejoin="round"/>
<path d="M176 262C176.3 262.7 177.2 266 178 266C178.8 266 180.5 262.7 181 262" fill="none" stroke="#1e28f5" stroke-width="1.1" stroke-dasharray="4,1.7" stroke-linejoin="round"/>
<path d="M130 262C130.2 262.7 130.4 264.8 131 266C131.6 267.2 133.1 268.5 133.5 269" fill="none" stroke="#1e28f5" stroke-width="1.15" stroke-dasharray="4,1.7" stroke-linejoin="round"/>
<path d="M131 262C131.3 263 132.2 267.7 133 268C133.8 268.3 135.5 264.7 136 264" fill="none" stroke="#1e28f5" stroke-width="1.1" stroke-dasharray="4,1.7" stroke-linejoin="round"/>
<path d="M104 262C104.2 262.6 104.7 265.5 105 265.5C105.3 265.5 105.8 262.6 106 262" fill="none" stroke="#1e28f5" stroke-width="1.1" stroke-dasharray="4,1.7" stroke-linejoin="round"/>
<path d="M197 271.2a1.0 1.0 0 1 0 2 0a1.0 1.0 0 1 0 -2 0M203.7 271.2a1.0 1.0 0 1 0 2 0a1.0 1.0 0 1 0 -2 0M210.3 271.2a1.0 1.0 0 1 0 2 0a1.0 1.0 0 1 0 -2 0M216.9 271.2a1.0 1.0 0 1 0 2 0a1.0 1.0 0 1 0 -2 0M193.7 274.5a1.0 1.0 0 1 0 2 0a1.0 1.0 0 1 0 -2 0M200.4 274.5a1.0 1.0 0 1 0 2 0a1.0 1.0 0 1 0 -2 0M207 274.5a1.0 1.0 0 1 0 2 0a1.0 1.0 0 1 0 -2 0M213.6 274.5a1.0 1.0 0 1 0 2 0a1.0 1.0 0 1 0 -2 0M220.2 274.5a1.0 1.0 0 1 0 2 0a1.0 1.0 0 1 0 -2 0M197 277.8a1.0 1.0 0 1 0 2 0a1.0 1.0 0 1 0 -2 0M203.7 277.8a1.0 1.0 0 1 0 2 0a1.0 1.0 0 1 0 -2 0M210.3 277.8a1.0 1.0 0 1 0 2 0a1.0 1.0 0 1 0 -2 0M216.9 277.8a1.0 1.0 0 1 0 2 0a1.0 1.0 0 1 0 -2 0M223.5 277.8a1.0 1.0 0 1 0 2 0a1.0 1.0 0 1 0 -2 0M230.1 277.8a1.0 1.0 0 1 0 2 0a1.0 1.0 0 1 0 -2 0M193.7 281.1a1.0 1.0 0 1 0 2 0a1.0 1.0 0 1 0 -2 0M200.4 281.1a1.0 1.0 0 1 0 2 0a1.0 1.0 0 1 0 -2 0M207 281.1a1.0 1.0 0 1 0 2 0a1.0 1.0 0 1 0 -2 0M213.6 281.1a1.0 1.0 0 1 0 2 0a1.0 1.0 0 1 0 -2 0M220.2 281.1a1.0 1.0 0 1 0 2 0a1.0 1.0 0 1 0 -2 0M226.8 281.1a1.0 1.0 0 1 0 2 0a1.0 1.0 0 1 0 -2 0M233.5 281.1a1.0 1.0 0 1 0 2 0a1.0 1.0 0 1 0 -2 0M197 284.4a1.0 1.0 0 1 0 2 0a1.0 1.0 0 1 0 -2 0M203.7 284.4a1.0 1.0 0 1 0 2 0a1.0 1.0 0 1 0 -2 0M210.3 284.4a1.0 1.0 0 1 0 2 0a1.0 1.0 0 1 0 -2 0M216.9 284.4a1.0 1.0 0 1 0 2 0a1.0 1.0 0 1 0 -2 0M223.5 284.4a1.0 1.0 0 1 0 2 0a1.0 1.0 0 1 0 -2 0M230.1 284.4a1.0 1.0 0 1 0 2 0a1.0 1.0 0 1 0 -2 0M193.7 287.8a1.0 1.0 0 1 0 2 0a1.0 1.0 0 1 0 -2 0M200.4 287.8a1.0 1.0 0 1 0 2 0a1.0 1.0 0 1 0 -2 0M207 287.8a1.0 1.0 0 1 0 2 0a1.0 1.0 0 1 0 -2 0M213.6 287.8a1.0 1.0 0 1 0 2 0a1.0 1.0 0 1 0 -2 0M220.2 287.8a1.0 1.0 0 1 0 2 0a1.0 1.0 0 1 0 -2 0M226.8 287.8a1.0 1.0 0 1 0 2 0a1.0 1.0 0 1 0 -2 0M233.5 287.8a1.0 1.0 0 1 0 2 0a1.0 1.0 0 1 0 -2 0M190.4 291.1a1.0 1.0 0 1 0 2 0a1.0 1.0 0 1 0 -2 0M197 291.1a1.0 1.0 0 1 0 2 0a1.0 1.0 0 1 0 -2 0M203.7 291.1a1.0 1.0 0 1 0 2 0a1.0 1.0 0 1 0 -2 0M210.3 291.1a1.0 1.0 0 1 0 2 0a1.0 1.0 0 1 0 -2 0M216.9 291.1a1.0 1.0 0 1 0 2 0a1.0 1.0 0 1 0 -2 0M223.5 291.1a1.0 1.0 0 1 0 2 0a1.0 1.0 0 1 0 -2 0M230.1 291.1a1.0 1.0 0 1 0 2 0a1.0 1.0 0 1 0 -2 0M236.8 291.1a1.0 1.0 0 1 0 2 0a1.0 1.0 0 1 0 -2 0M193.7 294.4a1.0 1.0 0 1 0 2 0a1.0 1.0 0 1 0 -2 0M200.4 294.4a1.0 1.0 0 1 0 2 0a1.0 1.0 0 1 0 -2 0M207 294.4a1.0 1.0 0 1 0 2 0a1.0 1.0 0 1 0 -2 0M213.6 294.4a1.0 1.0 0 1 0 2 0a1.0 1.0 0 1 0 -2 0M220.2 294.4a1.0 1.0 0 1 0 2 0a1.0 1.0 0 1 0 -2 0M226.8 294.4a1.0 1.0 0 1 0 2 0a1.0 1.0 0 1 0 -2 0M233.5 294.4a1.0 1.0 0 1 0 2 0a1.0 1.0 0 1 0 -2 0M190.4 297.7a1.0 1.0 0 1 0 2 0a1.0 1.0 0 1 0 -2 0M197 297.7a1.0 1.0 0 1 0 2 0a1.0 1.0 0 1 0 -2 0M203.7 297.7a1.0 1.0 0 1 0 2 0a1.0 1.0 0 1 0 -2 0M210.3 297.7a1.0 1.0 0 1 0 2 0a1.0 1.0 0 1 0 -2 0M216.9 297.7a1.0 1.0 0 1 0 2 0a1.0 1.0 0 1 0 -2 0M223.5 297.7a1.0 1.0 0 1 0 2 0a1.0 1.0 0 1 0 -2 0M230.1 297.7a1.0 1.0 0 1 0 2 0a1.0 1.0 0 1 0 -2 0M236.8 297.7a1.0 1.0 0 1 0 2 0a1.0 1.0 0 1 0 -2 0M193.7 301a1.0 1.0 0 1 0 2 0a1.0 1.0 0 1 0 -2 0M200.4 301a1.0 1.0 0 1 0 2 0a1.0 1.0 0 1 0 -2 0M207 301a1.0 1.0 0 1 0 2 0a1.0 1.0 0 1 0 -2 0M213.6 301a1.0 1.0 0 1 0 2 0a1.0 1.0 0 1 0 -2 0M220.2 301a1.0 1.0 0 1 0 2 0a1.0 1.0 0 1 0 -2 0M226.8 301a1.0 1.0 0 1 0 2 0a1.0 1.0 0 1 0 -2 0M233.5 301a1.0 1.0 0 1 0 2 0a1.0 1.0 0 1 0 -2 0M190.4 304.3a1.0 1.0 0 1 0 2 0a1.0 1.0 0 1 0 -2 0M197 304.3a1.0 1.0 0 1 0 2 0a1.0 1.0 0 1 0 -2 0M203.7 304.3a1.0 1.0 0 1 0 2 0a1.0 1.0 0 1 0 -2 0M210.3 304.3a1.0 1.0 0 1 0 2 0a1.0 1.0 0 1 0 -2 0M216.9 304.3a1.0 1.0 0 1 0 2 0a1.0 1.0 0 1 0 -2 0M223.5 304.3a1.0 1.0 0 1 0 2 0a1.0 1.0 0 1 0 -2 0M230.1 304.3a1.0 1.0 0 1 0 2 0a1.0 1.0 0 1 0 -2 0M236.8 304.3a1.0 1.0 0 1 0 2 0a1.0 1.0 0 1 0 -2 0M187.1 307.6a1.0 1.0 0 1 0 2 0a1.0 1.0 0 1 0 -2 0M193.7 307.6a1.0 1.0 0 1 0 2 0a1.0 1.0 0 1 0 -2 0M200.4 307.6a1.0 1.0 0 1 0 2 0a1.0 1.0 0 1 0 -2 0M207 307.6a1.0 1.0 0 1 0 2 0a1.0 1.0 0 1 0 -2 0M213.6 307.6a1.0 1.0 0 1 0 2 0a1.0 1.0 0 1 0 -2 0M220.2 307.6a1.0 1.0 0 1 0 2 0a1.0 1.0 0 1 0 -2 0M226.8 307.6a1.0 1.0 0 1 0 2 0a1.0 1.0 0 1 0 -2 0M233.5 307.6a1.0 1.0 0 1 0 2 0a1.0 1.0 0 1 0 -2 0M183.8 310.9a1.0 1.0 0 1 0 2 0a1.0 1.0 0 1 0 -2 0M190.4 310.9a1.0 1.0 0 1 0 2 0a1.0 1.0 0 1 0 -2 0M197 310.9a1.0 1.0 0 1 0 2 0a1.0 1.0 0 1 0 -2 0M203.7 310.9a1.0 1.0 0 1 0 2 0a1.0 1.0 0 1 0 -2 0M210.3 310.9a1.0 1.0 0 1 0 2 0a1.0 1.0 0 1 0 -2 0M216.9 310.9a1.0 1.0 0 1 0 2 0a1.0 1.0 0 1 0 -2 0M223.5 310.9a1.0 1.0 0 1 0 2 0a1.0 1.0 0 1 0 -2 0M230.1 310.9a1.0 1.0 0 1 0 2 0a1.0 1.0 0 1 0 -2 0M236.8 310.9a1.0 1.0 0 1 0 2 0a1.0 1.0 0 1 0 -2 0M187.1 314.2a1.0 1.0 0 1 0 2 0a1.0 1.0 0 1 0 -2 0M193.7 314.2a1.0 1.0 0 1 0 2 0a1.0 1.0 0 1 0 -2 0M200.4 314.2a1.0 1.0 0 1 0 2 0a1.0 1.0 0 1 0 -2 0M207 314.2a1.0 1.0 0 1 0 2 0a1.0 1.0 0 1 0 -2 0M213.6 314.2a1.0 1.0 0 1 0 2 0a1.0 1.0 0 1 0 -2 0M220.2 314.2a1.0 1.0 0 1 0 2 0a1.0 1.0 0 1 0 -2 0M226.8 314.2a1.0 1.0 0 1 0 2 0a1.0 1.0 0 1 0 -2 0M233.5 314.2a1.0 1.0 0 1 0 2 0a1.0 1.0 0 1 0 -2 0M183.8 317.6a1.0 1.0 0 1 0 2 0a1.0 1.0 0 1 0 -2 0M190.4 317.6a1.0 1.0 0 1 0 2 0a1.0 1.0 0 1 0 -2 0M197 317.6a1.0 1.0 0 1 0 2 0a1.0 1.0 0 1 0 -2 0M203.7 317.6a1.0 1.0 0 1 0 2 0a1.0 1.0 0 1 0 -2 0M210.3 317.6a1.0 1.0 0 1 0 2 0a1.0 1.0 0 1 0 -2 0M216.9 317.6a1.0 1.0 0 1 0 2 0a1.0 1.0 0 1 0 -2 0M223.5 317.6a1.0 1.0 0 1 0 2 0a1.0 1.0 0 1 0 -2 0M230.1 317.6a1.0 1.0 0 1 0 2 0a1.0 1.0 0 1 0 -2 0M236.8 317.6a1.0 1.0 0 1 0 2 0a1.0 1.0 0 1 0 -2 0M187.1 320.9a1.0 1.0 0 1 0 2 0a1.0 1.0 0 1 0 -2 0M193.7 320.9a1.0 1.0 0 1 0 2 0a1.0 1.0 0 1 0 -2 0M200.4 320.9a1.0 1.0 0 1 0 2 0a1.0 1.0 0 1 0 -2 0M207 320.9a1.0 1.0 0 1 0 2 0a1.0 1.0 0 1 0 -2 0M213.6 320.9a1.0 1.0 0 1 0 2 0a1.0 1.0 0 1 0 -2 0M220.2 320.9a1.0 1.0 0 1 0 2 0a1.0 1.0 0 1 0 -2 0M226.8 320.9a1.0 1.0 0 1 0 2 0a1.0 1.0 0 1 0 -2 0M233.5 320.9a1.0 1.0 0 1 0 2 0a1.0 1.0 0 1 0 -2 0M190.4 324.2a1.0 1.0 0 1 0 2 0a1.0 1.0 0 1 0 -2 0M197 324.2a1.0 1.0 0 1 0 2 0a1.0 1.0 0 1 0 -2 0M203.7 324.2a1.0 1.0 0 1 0 2 0a1.0 1.0 0 1 0 -2 0M210.3 324.2a1.0 1.0 0 1 0 2 0a1.0 1.0 0 1 0 -2 0M216.9 324.2a1.0 1.0 0 1 0 2 0a1.0 1.0 0 1 0 -2 0M223.5 324.2a1.0 1.0 0 1 0 2 0a1.0 1.0 0 1 0 -2 0M230.1 324.2a1.0 1.0 0 1 0 2 0a1.0 1.0 0 1 0 -2 0M200.4 327.5a1.0 1.0 0 1 0 2 0a1.0 1.0 0 1 0 -2 0M207 327.5a1.0 1.0 0 1 0 2 0a1.0 1.0 0 1 0 -2 0M213.6 327.5a1.0 1.0 0 1 0 2 0a1.0 1.0 0 1 0 -2 0" fill="#000"/>
<path d="M138.4 267.9a1.0 1.0 0 1 0 2 0a1.0 1.0 0 1 0 -2 0M138.4 274.3a1.0 1.0 0 1 0 2 0a1.0 1.0 0 1 0 -2 0M126 297a1.0 1.0 0 1 0 2 0a1.0 1.0 0 1 0 -2 0M69 346a1.0 1.0 0 1 0 2 0a1.0 1.0 0 1 0 -2 0M151 346a1.0 1.0 0 1 0 2 0a1.0 1.0 0 1 0 -2 0M204.2 340.2a1.0 1.0 0 1 0 2 0a1.0 1.0 0 1 0 -2 0M217 340.2a1.0 1.0 0 1 0 2 0a1.0 1.0 0 1 0 -2 0M187.8 343.2a1.0 1.0 0 1 0 2 0a1.0 1.0 0 1 0 -2 0M207.3 343.2a1.0 1.0 0 1 0 2 0a1.0 1.0 0 1 0 -2 0M121.5 312a1.0 1.0 0 1 0 2 0a1.0 1.0 0 1 0 -2 0M180.5 316a1.0 1.0 0 1 0 2 0a1.0 1.0 0 1 0 -2 0" fill="#000"/>
</g>
<rect x="56.5" y="262.5" width="224.0" height="84.0" fill="none" stroke="#000" stroke-width="1.1"/>
<rect x="58.5" y="264.5" width="21.5" height="19.8" fill="#fff" stroke="#333" stroke-width="0.8"/>
<text transform="translate(69.40 273.86) scale(1 1.12)" y="3.94" font-family='"Liberation Sans", sans-serif' font-size="11.0" text-anchor="middle">(e)</text>
<text transform="translate(44.00 282.06) scale(1 1.12)" y="3.51" font-family='"Liberation Sans", sans-serif' font-size="9.8" text-anchor="end">5</text>
<text transform="translate(44.00 290.49) scale(1 1.12)" y="3.51" font-family='"Liberation Sans", sans-serif' font-size="9.8" text-anchor="end">10</text>
<text transform="translate(44.00 298.92) scale(1 1.12)" y="3.51" font-family='"Liberation Sans", sans-serif' font-size="9.8" text-anchor="end">20</text>
<text transform="translate(44.00 310.06) scale(1 1.12)" y="3.51" font-family='"Liberation Sans", sans-serif' font-size="9.8" text-anchor="end">50</text>
<text transform="translate(44.00 318.49) scale(1 1.12)" y="3.51" font-family='"Liberation Sans", sans-serif' font-size="9.8" text-anchor="end">100</text>
<text transform="translate(44.00 326.92) scale(1 1.12)" y="3.51" font-family='"Liberation Sans", sans-serif' font-size="9.8" text-anchor="end">200</text>
<text transform="translate(44.00 338.06) scale(1 1.12)" y="3.51" font-family='"Liberation Sans", sans-serif' font-size="9.8" text-anchor="end">500</text>
<text transform="translate(44.00 346.49) scale(1 1.12)" y="3.51" font-family='"Liberation Sans", sans-serif' font-size="9.8" text-anchor="end">1000</text>
<text transform="translate(56.30 362.46) scale(1 1.12)" y="3.54" font-family='"Liberation Sans", sans-serif' font-size="9.9" text-anchor="middle">Sep</text>
<text transform="translate(80.97 362.46) scale(1 1.12)" y="3.54" font-family='"Liberation Sans", sans-serif' font-size="9.9" text-anchor="middle">Oct</text>
<text transform="translate(106.47 362.46) scale(1 1.12)" y="3.54" font-family='"Liberation Sans", sans-serif' font-size="9.9" text-anchor="middle">Nov</text>
<text transform="translate(131.15 362.46) scale(1 1.12)" y="3.54" font-family='"Liberation Sans", sans-serif' font-size="9.9" text-anchor="middle">Dec</text>
<text transform="translate(156.65 362.46) scale(1 1.12)" y="3.54" font-family='"Liberation Sans", sans-serif' font-size="9.9" text-anchor="middle">Jan</text>
<text transform="translate(182.14 362.46) scale(1 1.12)" y="3.54" font-family='"Liberation Sans", sans-serif' font-size="9.9" text-anchor="middle">Feb</text>
<text transform="translate(205.17 362.46) scale(1 1.12)" y="3.54" font-family='"Liberation Sans", sans-serif' font-size="9.9" text-anchor="middle">Mar</text>
<text transform="translate(230.67 362.46) scale(1 1.12)" y="3.54" font-family='"Liberation Sans", sans-serif' font-size="9.9" text-anchor="middle">Apr</text>
<text transform="translate(255.35 362.46) scale(1 1.12)" y="3.54" font-family='"Liberation Sans", sans-serif' font-size="9.9" text-anchor="middle">May</text>
<path d="M51.20 282.07H56.5 M51.20 290.50H56.5 M51.20 298.93H56.5 M51.20 310.07H56.5 M51.20 318.50H56.5 M51.20 326.93H56.5 M51.20 338.07H56.5 M51.20 346.50H56.5 M56.30 346.5V351.7 M80.97 346.5V351.7 M106.47 346.5V351.7 M131.15 346.5V351.7 M156.65 346.5V351.7 M182.14 346.5V351.7 M205.17 346.5V351.7 M230.67 346.5V351.7 M255.35 346.5V351.7" stroke="#000" stroke-width="1.4" fill="none"/>
<g clip-path="url(#c10)">
<rect x="350.5" y="24.5" width="224.0" height="84.0" fill="#e1faff"/>
<path d="M377 40C378 33.3 380.8 32 383 30C385.2 28 388.5 24.7 390 28C391.5 31.3 391.8 41.3 392 50C392.2 58.7 391.5 70.2 391.5 80C391.5 89.8 397.2 104.2 392 109C386.8 113.8 365 111.8 360 109C355 106.2 360.3 95.8 362 92C363.7 88.2 367.5 89.7 370 86C372.5 82.3 375.8 77.7 377 70C378.2 62.3 376 46.7 377 40Z" fill="#fffce1"/>
<path d="M400 24L429 24L430 40L433 60L438.7 70L440 109L410 109L409 90L411 62L414 50L410 40L402 36Z" fill="#fffce1"/>
<path d="M396 70C397.2 62.8 400.5 64.3 402 66C403.5 67.7 404.7 72.8 405 80C405.3 87.2 405.7 104.2 404 109C402.3 113.8 396.3 115.5 395 109C393.7 102.5 394.8 77.2 396 70Z" fill="#fffce1"/>
<path d="M455 84L476 86L478 95L480 109L455 109Z" fill="#fffce1"/>
<path d="M480 98L515 96L545 99L575 96L575 109L480 109Z" fill="#fffce1"/>
<path d="M519 24L536 24L544.2 37.6L551.5 42.8L562 48L575 50L575 82L560 80L548 80L535 72L525 60Z" fill="#fffce1"/>
<path d="M571 36.5C571.7 35.5 574.3 35.1 575 36C575.7 36.9 575.7 41 575 42C574.3 43 571.7 42.6 571 41.7C570.3 40.8 570.3 37.5 571 36.5Z" fill="#fffce1"/>
<path d="M455 34L465 42L480 48L500 50L515 52L515 60L500 62L480 60L465 56L455 52Z" fill="#fffce1"/>
<path d="M405 24C407.3 22 418.3 21.3 421 24C423.7 26.7 421.5 36.3 421 40C420.5 43.7 419.5 45.3 418 46C416.5 46.7 413.8 45.7 412 44C410.2 42.3 408.2 39.3 407 36C405.8 32.7 402.7 26 405 24Z" fill="#ffebaa"/>
<path d="M452.5 94C452.9 92.5 454.6 91.5 455 93C455.4 94.5 455.4 101.5 455 103C454.6 104.5 452.9 103.5 452.5 102C452.1 100.5 452.1 95.5 452.5 94Z" fill="#ffebaa"/>
<path d="M428 24L464 24L462 34L466 44L480 48.5L500 50L515 53L530 57L541 62L542 80L541.4 98.6L515 100L480 100L476 88L464 82L450 76L440 68L432 58L428 40Z" fill="#b4f0ff"/>
<path d="M434 24L440 24L444 36L452 46L456 56L465 59L480 61L500 59L515 61L530 63L541 70L540 92L515 95L480 96L477 86L465 80L455 75L448 68L442 58L437 45Z" fill="#8cdcfa"/>
<path d="M442 30L447 33L452 44L456 58L468 65L478 69L490 65L505 67L515 69L526 71L531 78L530 90L518 93L505 90L490 88L479 84L470 76L460 70L452 64L447 52L443 40Z" fill="#64befa"/>
<path d="M446 34L450 30L452 42L452 52L448 52Z" fill="#3c82fa"/>
<path d="M490.7 66C491.5 64 494.7 64 496 65C497.3 66 498.4 69.7 498.6 72C498.8 74.3 498.3 78 497 78.8C495.7 79.6 492.1 79.1 491 77C489.9 74.9 489.9 68 490.7 66Z" fill="#3c82fa"/>
<path d="M505 75C506.7 73.1 513.3 72.6 515 74.8C516.7 77 516.7 86.1 515 88C513.3 89.9 506.7 88.2 505 86C503.3 83.8 503.3 76.9 505 75Z" fill="#3c82fa"/>
<path d="M515 74.8C516.5 72.1 521.7 71.5 524 72C526.3 72.5 528.3 75 529 78C529.7 81 529.8 87.7 528 90C526.2 92.3 520.2 92.3 518 92C515.8 91.7 515.5 90.9 515 88C514.5 85.1 513.5 77.5 515 74.8Z" fill="#3c82fa"/>
<path d="M455 50C456.7 47.8 463.2 50.3 465 53C466.8 55.7 467.7 63.8 466 66C464.3 68.2 456.8 68.7 455 66C453.2 63.3 453.3 52.2 455 50Z" fill="#8cdcfa"/>
<path d="M459 24L519 24L519 30L522.3 40L524 48L530 58L531 62L520 60L515 52L502 49L491.5 47L481.1 47.5L470.7 46L461.3 45L455 38Z" fill="#ffcd8c"/>
<path d="M460 24L522.3 24L522.3 52L515 49L509.3 49.5L504 46L496.7 44L489.4 43L483.2 44.5L475.9 43.5L468.6 40L464.4 43L460.2 37Z" fill="#ffa564"/>
<path d="M463.9 24L519.2 24L519.2 49L515 47L511.3 48L507.2 44.9L505.1 41.7L502 39.7L498.8 40.7L495.7 39.7L492.6 42.8L489.4 39.7L486.3 37.6L483.2 42.8L480 39.7L478 38.6L474.8 39.7L472.7 35.5L470.7 33.4L468.6 34.4L466.5 38.6L464.4 37.6Z" fill="#fa463c"/>
<path d="M478 24C481 22.8 495 22.7 498 24C501 25.3 497.7 30.3 496 32C494.3 33.7 490.7 34.2 488 34C485.3 33.8 481.7 32.7 480 31C478.3 29.3 475 25.2 478 24Z" fill="#f01e32"/>
<path d="M503 26C504.8 24.7 514.5 25.3 517 28C519.5 30.7 518.8 39.3 518 42C517.2 44.7 514 45 512 44C510 43 507.5 39 506 36C504.5 33 501.2 27.3 503 26Z" fill="#f01e32"/>
<path d="M522.3 24L531.7 24L536 35L543 46L550 57L552 68L540 67L530.7 66L524 55L520 45Z" fill="#ffcd8c"/>
<path d="M515 24L522.3 24L522.3 52L517 52L515 48Z" fill="#ffa564"/>
<path d="M422.7 24L425.8 24L425.5 47L423 47Z" fill="#fa463c"/>
<path d="M400.2 24C400.3 25.7 400.3 31.6 400.7 34.4C401.1 37.2 401.7 40 402.3 40.7C402.9 41.4 403.9 39.8 404.4 38.6C404.9 37.4 404.9 34.5 405.4 33.4C405.9 32.3 406.6 32.1 407.5 32.3C408.4 32.5 409.6 33 410.6 34.4C411.6 35.8 412.9 38.6 413.7 40.7C414.5 42.8 414.9 44.6 415.3 47C415.7 49.4 416.2 52.8 416.3 55.3C416.4 57.8 415.8 59.4 415.8 62C415.8 64.7 415.9 68.5 416.3 71.2C416.7 73.9 417.4 76.6 418 78.1C418.6 79.6 419 80.6 419.7 80.4C420.4 80.2 421.3 78.9 422 77C422.7 75.1 423.1 71.4 423.7 68.9C424.3 66.4 425.1 65.2 425.5 62C425.9 58.9 426 54.5 426 50C426 45.5 425.8 39.3 425.6 35C425.4 30.7 425.1 25.8 425 24" fill="none" stroke="#f00" stroke-width="1.15" stroke-linejoin="round"/>
<path d="M410.6 24C410.9 25.1 411.5 28.6 412.2 30.3C412.9 32 414 32.7 414.8 34.4C415.6 36.1 416.3 38.8 416.9 40.7C417.5 42.6 417.9 43.8 418.5 45.9C419.1 48 420.1 51.3 420.6 53.2C421.1 55.1 421.3 57.4 421.6 57.4C421.9 57.4 422.1 55.3 422.3 53.2C422.5 51.1 422.8 48.1 422.9 45C423 41.9 423.2 37.9 423.2 34.4C423.2 30.9 422.8 25.7 422.7 24" fill="none" stroke="#f00" stroke-width="1.15" stroke-linejoin="round"/>
<path d="M531.7 24C531.9 25.7 532.2 31.3 532.7 34.4C533.2 37.5 534.2 40.9 534.8 42.8C535.4 44.7 535.9 45.8 536.4 46C536.9 46.2 537.5 45.6 538 44C538.5 42.4 539.2 39.8 539.5 36.5C539.8 33.2 539.5 26.1 539.5 24" fill="none" stroke="#f00" stroke-width="1.15" stroke-linejoin="round"/>
<path d="M541 30.3C541.7 29.4 543.4 28.5 544.2 29.2C545 29.9 545.6 32.1 545.8 34.4C546 36.7 545.7 41.1 545.3 42.8C544.9 44.5 543.9 44.8 543.2 44.4C542.5 44 541.6 42.4 541.1 40.7C540.6 39 540.1 36.1 540.1 34.4C540.1 32.7 540.3 31.2 541 30.3Z" fill="none" stroke="#f00" stroke-width="1.15" stroke-linejoin="round"/>
<path d="M431.5 24C431.9 25.1 432.7 28.6 433.6 30.3C434.5 32 435.6 32.7 436.7 34.4C437.8 36.1 438.7 39 439.9 40.7C441.1 42.5 442.8 44 444 44.9C445.2 45.8 446.3 45 447.2 45.9C448.1 46.8 448.7 48.5 449.3 50.1C449.9 51.7 450.3 53.7 450.8 55.3C451.3 56.9 451.7 58.5 452.4 59.5C453.1 60.5 453.7 60.5 455 61C456.3 61.5 458.8 61.3 460.3 62.3C461.9 63.3 462.8 65.6 464.3 66.9C465.8 68.2 467.8 69.2 469.5 70.2C471.2 71.2 473 71.6 474.8 72.8C476.6 74 478.3 77 480.1 77.5C481.9 78 484.1 76.5 485.4 76.1C486.7 75.6 486.9 74.5 488 74.8C489.1 75.1 490.4 77.4 492 78.1C493.6 78.8 495.8 79.1 497.3 78.8C498.9 78.5 500.1 76.8 501.3 76.1C502.5 75.4 503.5 74.6 504.6 74.8C505.7 75 506.9 77.2 507.9 77.5C508.9 77.8 509.3 76.7 510.5 76.8C511.7 76.9 513.4 77.8 515 78C516.6 78.2 518.8 78.4 520.3 78.1C521.8 77.8 523.6 76.4 524.3 76.1" fill="none" stroke="#1e28f5" stroke-width="1.3" stroke-linejoin="round"/>
<path d="M446.7 81.5C447.1 81.1 448.2 80 449 79.2C449.8 78.4 450.9 76.9 451.3 76.4" fill="none" stroke="#1e28f5" stroke-width="1.3" stroke-linejoin="round"/>
<path d="M446.1 24L446.1 45L448.7 45L448.7 24" fill="none" stroke="#1e28f5" stroke-width="1.15" stroke-dasharray="4,1.7" stroke-linejoin="round"/>
<path d="M451.9 24C452 25.2 452.1 29.4 452.5 31C452.9 32.6 453.5 33.6 454 33.4C454.5 33.2 455.2 31.6 455.5 30C455.8 28.4 455.5 25 455.5 24" fill="none" stroke="#1e28f5" stroke-width="1.15" stroke-dasharray="4,1.7" stroke-linejoin="round"/>
<path d="M447 81L447 109" fill="none" stroke="#1e28f5" stroke-width="1.15" stroke-dasharray="4,1.7" stroke-linejoin="round"/>
<path d="M451 78L451 109" fill="none" stroke="#1e28f5" stroke-width="1.15" stroke-dasharray="4,1.7" stroke-linejoin="round"/>
<path d="M464.4 24C464.8 24.5 465.8 26.9 466.5 27.1C467.2 27.3 468.2 25.5 468.6 25C469 24.5 468.9 24.2 469 24" fill="none" stroke="#1e28f5" stroke-width="1.1" stroke-dasharray="4,1.7" stroke-linejoin="round"/>
<path d="M475.9 24C476.1 25.1 476.9 28.4 477.4 30.3C477.9 32.2 478.4 35.5 479 35.5C479.6 35.5 480.4 31.2 481.1 30.3C481.8 29.4 482.3 29.6 483.2 30.3C484.1 31 485.3 33.9 486.3 34.4C487.3 34.9 488.3 34.1 489.4 33.4C490.4 32.7 491.6 31.4 492.6 30.3C493.7 29.2 494.7 28 495.7 27.1C496.7 26.2 498.1 25.5 498.8 25C499.5 24.5 499.8 24.2 500 24" fill="none" stroke="#1e28f5" stroke-width="1.1" stroke-dasharray="4,1.7" stroke-linejoin="round"/>
<path d="M500.9 30.3C501.4 31.3 502.9 35.3 504 36.5C505.1 37.7 506.1 36.7 507.2 37.6C508.2 38.5 509.3 40.5 510.3 41.7C511.3 42.9 512.6 44.2 513.4 44.9C514.2 45.6 514.7 45.8 515 46" fill="none" stroke="#1e28f5" stroke-width="1.1" stroke-dasharray="4,1.7" stroke-linejoin="round"/>
<path d="M501 24C501.3 25 502 27.6 503 30C504 32.4 505.2 36.8 507 38.5C508.8 40.2 512.1 38.9 514 40C515.9 41.1 516.9 44.9 518.1 44.9C519.3 44.9 520.4 40.4 521.3 39.7C522.2 39 522.6 39.8 523.3 40.7C524 41.6 524.7 43.3 525.4 44.9C526.1 46.5 526.9 48.4 527.5 50.1C528.1 51.8 528.7 53.6 529.1 55.3C529.5 57 530 58.7 530.1 60.5C530.2 62.3 530.1 64.3 530 66C529.9 67.7 529.9 69.4 529.5 70.9C529.1 72.4 528.5 73.9 527.6 74.8C526.7 75.7 524.8 75.9 524.3 76.1" fill="none" stroke="#1e28f5" stroke-width="1.15" stroke-dasharray="4,1.7" stroke-linejoin="round"/>
<path d="M464 27.5a1.0 1.0 0 1 0 2 0a1.0 1.0 0 1 0 -2 0M470.6 27.5a1.0 1.0 0 1 0 2 0a1.0 1.0 0 1 0 -2 0M477.2 27.5a1.0 1.0 0 1 0 2 0a1.0 1.0 0 1 0 -2 0M483.8 27.5a1.0 1.0 0 1 0 2 0a1.0 1.0 0 1 0 -2 0M490.5 27.5a1.0 1.0 0 1 0 2 0a1.0 1.0 0 1 0 -2 0M497.1 27.5a1.0 1.0 0 1 0 2 0a1.0 1.0 0 1 0 -2 0M503.7 27.5a1.0 1.0 0 1 0 2 0a1.0 1.0 0 1 0 -2 0M510.3 27.5a1.0 1.0 0 1 0 2 0a1.0 1.0 0 1 0 -2 0M467.3 30.8a1.0 1.0 0 1 0 2 0a1.0 1.0 0 1 0 -2 0M473.9 30.8a1.0 1.0 0 1 0 2 0a1.0 1.0 0 1 0 -2 0M480.5 30.8a1.0 1.0 0 1 0 2 0a1.0 1.0 0 1 0 -2 0M487.2 30.8a1.0 1.0 0 1 0 2 0a1.0 1.0 0 1 0 -2 0M493.8 30.8a1.0 1.0 0 1 0 2 0a1.0 1.0 0 1 0 -2 0M500.4 30.8a1.0 1.0 0 1 0 2 0a1.0 1.0 0 1 0 -2 0M507 30.8a1.0 1.0 0 1 0 2 0a1.0 1.0 0 1 0 -2 0M513.6 30.8a1.0 1.0 0 1 0 2 0a1.0 1.0 0 1 0 -2 0M464 34.1a1.0 1.0 0 1 0 2 0a1.0 1.0 0 1 0 -2 0M470.6 34.1a1.0 1.0 0 1 0 2 0a1.0 1.0 0 1 0 -2 0M477.2 34.1a1.0 1.0 0 1 0 2 0a1.0 1.0 0 1 0 -2 0M483.8 34.1a1.0 1.0 0 1 0 2 0a1.0 1.0 0 1 0 -2 0M490.5 34.1a1.0 1.0 0 1 0 2 0a1.0 1.0 0 1 0 -2 0M497.1 34.1a1.0 1.0 0 1 0 2 0a1.0 1.0 0 1 0 -2 0M503.7 34.1a1.0 1.0 0 1 0 2 0a1.0 1.0 0 1 0 -2 0M510.3 34.1a1.0 1.0 0 1 0 2 0a1.0 1.0 0 1 0 -2 0M467.3 37.4a1.0 1.0 0 1 0 2 0a1.0 1.0 0 1 0 -2 0M473.9 37.4a1.0 1.0 0 1 0 2 0a1.0 1.0 0 1 0 -2 0M480.5 37.4a1.0 1.0 0 1 0 2 0a1.0 1.0 0 1 0 -2 0M487.2 37.4a1.0 1.0 0 1 0 2 0a1.0 1.0 0 1 0 -2 0M493.8 37.4a1.0 1.0 0 1 0 2 0a1.0 1.0 0 1 0 -2 0M507 37.4a1.0 1.0 0 1 0 2 0a1.0 1.0 0 1 0 -2 0M513.6 37.4a1.0 1.0 0 1 0 2 0a1.0 1.0 0 1 0 -2 0M464 40.7a1.0 1.0 0 1 0 2 0a1.0 1.0 0 1 0 -2 0" fill="#000"/>
<path d="M516.9 27.5a1.0 1.0 0 1 0 2 0a1.0 1.0 0 1 0 -2 0M520.3 30.8a1.0 1.0 0 1 0 2 0a1.0 1.0 0 1 0 -2 0M516.9 34.1a1.0 1.0 0 1 0 2 0a1.0 1.0 0 1 0 -2 0M523.6 34.1a1.0 1.0 0 1 0 2 0a1.0 1.0 0 1 0 -2 0M520.3 37.4a1.0 1.0 0 1 0 2 0a1.0 1.0 0 1 0 -2 0M526.9 37.4a1.0 1.0 0 1 0 2 0a1.0 1.0 0 1 0 -2 0M516.9 40.7a1.0 1.0 0 1 0 2 0a1.0 1.0 0 1 0 -2 0M523.6 40.7a1.0 1.0 0 1 0 2 0a1.0 1.0 0 1 0 -2 0M520.3 44a1.0 1.0 0 1 0 2 0a1.0 1.0 0 1 0 -2 0M526.9 44a1.0 1.0 0 1 0 2 0a1.0 1.0 0 1 0 -2 0M523.6 47.4a1.0 1.0 0 1 0 2 0a1.0 1.0 0 1 0 -2 0M530.2 47.4a1.0 1.0 0 1 0 2 0a1.0 1.0 0 1 0 -2 0M526.9 50.7a1.0 1.0 0 1 0 2 0a1.0 1.0 0 1 0 -2 0M533.5 50.7a1.0 1.0 0 1 0 2 0a1.0 1.0 0 1 0 -2 0M530.2 54a1.0 1.0 0 1 0 2 0a1.0 1.0 0 1 0 -2 0M536.8 54a1.0 1.0 0 1 0 2 0a1.0 1.0 0 1 0 -2 0M533.5 57.3a1.0 1.0 0 1 0 2 0a1.0 1.0 0 1 0 -2 0M540.1 57.3a1.0 1.0 0 1 0 2 0a1.0 1.0 0 1 0 -2 0M536.8 60.6a1.0 1.0 0 1 0 2 0a1.0 1.0 0 1 0 -2 0M543.4 60.6a1.0 1.0 0 1 0 2 0a1.0 1.0 0 1 0 -2 0M533.5 63.9a1.0 1.0 0 1 0 2 0a1.0 1.0 0 1 0 -2 0M540.1 63.9a1.0 1.0 0 1 0 2 0a1.0 1.0 0 1 0 -2 0M546.7 63.9a1.0 1.0 0 1 0 2 0a1.0 1.0 0 1 0 -2 0" fill="#000"/>
<path d="M477.2 67.2a1.0 1.0 0 1 0 2 0a1.0 1.0 0 1 0 -2 0M480.5 70.5a1.0 1.0 0 1 0 2 0a1.0 1.0 0 1 0 -2 0M487.2 70.5a1.0 1.0 0 1 0 2 0a1.0 1.0 0 1 0 -2 0M493.8 70.5a1.0 1.0 0 1 0 2 0a1.0 1.0 0 1 0 -2 0M500.4 70.5a1.0 1.0 0 1 0 2 0a1.0 1.0 0 1 0 -2 0M507 70.5a1.0 1.0 0 1 0 2 0a1.0 1.0 0 1 0 -2 0M513.6 70.5a1.0 1.0 0 1 0 2 0a1.0 1.0 0 1 0 -2 0M477.2 73.8a1.0 1.0 0 1 0 2 0a1.0 1.0 0 1 0 -2 0M483.8 73.8a1.0 1.0 0 1 0 2 0a1.0 1.0 0 1 0 -2 0M490.5 73.8a1.0 1.0 0 1 0 2 0a1.0 1.0 0 1 0 -2 0M497.1 73.8a1.0 1.0 0 1 0 2 0a1.0 1.0 0 1 0 -2 0M503.7 73.8a1.0 1.0 0 1 0 2 0a1.0 1.0 0 1 0 -2 0M510.3 73.8a1.0 1.0 0 1 0 2 0a1.0 1.0 0 1 0 -2 0M516.9 73.8a1.0 1.0 0 1 0 2 0a1.0 1.0 0 1 0 -2 0M523.6 73.8a1.0 1.0 0 1 0 2 0a1.0 1.0 0 1 0 -2 0M480.5 77.1a1.0 1.0 0 1 0 2 0a1.0 1.0 0 1 0 -2 0M487.2 77.1a1.0 1.0 0 1 0 2 0a1.0 1.0 0 1 0 -2 0M493.8 77.1a1.0 1.0 0 1 0 2 0a1.0 1.0 0 1 0 -2 0M500.4 77.1a1.0 1.0 0 1 0 2 0a1.0 1.0 0 1 0 -2 0M507 77.1a1.0 1.0 0 1 0 2 0a1.0 1.0 0 1 0 -2 0M513.6 77.1a1.0 1.0 0 1 0 2 0a1.0 1.0 0 1 0 -2 0M520.3 77.1a1.0 1.0 0 1 0 2 0a1.0 1.0 0 1 0 -2 0M526.9 77.1a1.0 1.0 0 1 0 2 0a1.0 1.0 0 1 0 -2 0M477.2 80.5a1.0 1.0 0 1 0 2 0a1.0 1.0 0 1 0 -2 0M483.8 80.5a1.0 1.0 0 1 0 2 0a1.0 1.0 0 1 0 -2 0M490.5 80.5a1.0 1.0 0 1 0 2 0a1.0 1.0 0 1 0 -2 0M497.1 80.5a1.0 1.0 0 1 0 2 0a1.0 1.0 0 1 0 -2 0M503.7 80.5a1.0 1.0 0 1 0 2 0a1.0 1.0 0 1 0 -2 0M510.3 80.5a1.0 1.0 0 1 0 2 0a1.0 1.0 0 1 0 -2 0M516.9 80.5a1.0 1.0 0 1 0 2 0a1.0 1.0 0 1 0 -2 0M523.6 80.5a1.0 1.0 0 1 0 2 0a1.0 1.0 0 1 0 -2 0M480.5 83.8a1.0 1.0 0 1 0 2 0a1.0 1.0 0 1 0 -2 0M487.2 83.8a1.0 1.0 0 1 0 2 0a1.0 1.0 0 1 0 -2 0M493.8 83.8a1.0 1.0 0 1 0 2 0a1.0 1.0 0 1 0 -2 0M500.4 83.8a1.0 1.0 0 1 0 2 0a1.0 1.0 0 1 0 -2 0M507 83.8a1.0 1.0 0 1 0 2 0a1.0 1.0 0 1 0 -2 0M513.6 83.8a1.0 1.0 0 1 0 2 0a1.0 1.0 0 1 0 -2 0M520.3 83.8a1.0 1.0 0 1 0 2 0a1.0 1.0 0 1 0 -2 0M526.9 83.8a1.0 1.0 0 1 0 2 0a1.0 1.0 0 1 0 -2 0M477.2 87.1a1.0 1.0 0 1 0 2 0a1.0 1.0 0 1 0 -2 0M483.8 87.1a1.0 1.0 0 1 0 2 0a1.0 1.0 0 1 0 -2 0M490.5 87.1a1.0 1.0 0 1 0 2 0a1.0 1.0 0 1 0 -2 0M497.1 87.1a1.0 1.0 0 1 0 2 0a1.0 1.0 0 1 0 -2 0M503.7 87.1a1.0 1.0 0 1 0 2 0a1.0 1.0 0 1 0 -2 0M510.3 87.1a1.0 1.0 0 1 0 2 0a1.0 1.0 0 1 0 -2 0M516.9 87.1a1.0 1.0 0 1 0 2 0a1.0 1.0 0 1 0 -2 0M523.6 87.1a1.0 1.0 0 1 0 2 0a1.0 1.0 0 1 0 -2 0M480.5 90.4a1.0 1.0 0 1 0 2 0a1.0 1.0 0 1 0 -2 0M487.2 90.4a1.0 1.0 0 1 0 2 0a1.0 1.0 0 1 0 -2 0M493.8 90.4a1.0 1.0 0 1 0 2 0a1.0 1.0 0 1 0 -2 0M500.4 90.4a1.0 1.0 0 1 0 2 0a1.0 1.0 0 1 0 -2 0M507 90.4a1.0 1.0 0 1 0 2 0a1.0 1.0 0 1 0 -2 0M513.6 90.4a1.0 1.0 0 1 0 2 0a1.0 1.0 0 1 0 -2 0M520.3 90.4a1.0 1.0 0 1 0 2 0a1.0 1.0 0 1 0 -2 0M526.9 90.4a1.0 1.0 0 1 0 2 0a1.0 1.0 0 1 0 -2 0M477.2 93.7a1.0 1.0 0 1 0 2 0a1.0 1.0 0 1 0 -2 0M510.3 93.7a1.0 1.0 0 1 0 2 0a1.0 1.0 0 1 0 -2 0M516.9 93.7a1.0 1.0 0 1 0 2 0a1.0 1.0 0 1 0 -2 0M523.6 93.7a1.0 1.0 0 1 0 2 0a1.0 1.0 0 1 0 -2 0" fill="#000"/>
<path d="M434.2 30.8a1.0 1.0 0 1 0 2 0a1.0 1.0 0 1 0 -2 0M434.2 37a1.0 1.0 0 1 0 2 0a1.0 1.0 0 1 0 -2 0M434.2 43.8a1.0 1.0 0 1 0 2 0a1.0 1.0 0 1 0 -2 0M431 47a1.0 1.0 0 1 0 2 0a1.0 1.0 0 1 0 -2 0M434.2 50.1a1.0 1.0 0 1 0 2 0a1.0 1.0 0 1 0 -2 0M441 50.1a1.0 1.0 0 1 0 2 0a1.0 1.0 0 1 0 -2 0M447.7 43.8a1.0 1.0 0 1 0 2 0a1.0 1.0 0 1 0 -2 0M450.9 47a1.0 1.0 0 1 0 2 0a1.0 1.0 0 1 0 -2 0M447.7 50.1a1.0 1.0 0 1 0 2 0a1.0 1.0 0 1 0 -2 0M441 57.4a1.0 1.0 0 1 0 2 0a1.0 1.0 0 1 0 -2 0M447.7 57.4a1.0 1.0 0 1 0 2 0a1.0 1.0 0 1 0 -2 0M450.9 54.3a1.0 1.0 0 1 0 2 0a1.0 1.0 0 1 0 -2 0M441 63.7a1.0 1.0 0 1 0 2 0a1.0 1.0 0 1 0 -2 0M450.9 60a1.0 1.0 0 1 0 2 0a1.0 1.0 0 1 0 -2 0M463.9 40.7a1.0 1.0 0 1 0 2 0a1.0 1.0 0 1 0 -2 0M503 40.7a1.0 1.0 0 1 0 2 0a1.0 1.0 0 1 0 -2 0M506.7 44a1.0 1.0 0 1 0 2 0a1.0 1.0 0 1 0 -2 0M509.8 47a1.0 1.0 0 1 0 2 0a1.0 1.0 0 1 0 -2 0M467 63.7a1.0 1.0 0 1 0 2 0a1.0 1.0 0 1 0 -2 0M473.8 63.7a1.0 1.0 0 1 0 2 0a1.0 1.0 0 1 0 -2 0M477.1 100a1.0 1.0 0 1 0 2 0a1.0 1.0 0 1 0 -2 0M539.1 57a1.0 1.0 0 1 0 2 0a1.0 1.0 0 1 0 -2 0M535.8 60.3a1.0 1.0 0 1 0 2 0a1.0 1.0 0 1 0 -2 0M545.7 63.6a1.0 1.0 0 1 0 2 0a1.0 1.0 0 1 0 -2 0" fill="#000"/>
</g>
<rect x="350.5" y="24.5" width="224.0" height="84.0" fill="none" stroke="#000" stroke-width="1.1"/>
<rect x="352.5" y="26.5" width="21.5" height="19.8" fill="#fff" stroke="#333" stroke-width="0.8"/>
<text transform="translate(363.40 35.86) scale(1 1.12)" y="3.94" font-family='"Liberation Sans", sans-serif' font-size="11.0" text-anchor="middle">(b)</text>
<text transform="translate(338.60 44.06) scale(1 1.12)" y="3.51" font-family='"Liberation Sans", sans-serif' font-size="9.8" text-anchor="end">5</text>
<text transform="translate(338.60 52.49) scale(1 1.12)" y="3.51" font-family='"Liberation Sans", sans-serif' font-size="9.8" text-anchor="end">10</text>
<text transform="translate(338.60 60.92) scale(1 1.12)" y="3.51" font-family='"Liberation Sans", sans-serif' font-size="9.8" text-anchor="end">20</text>
<text transform="translate(338.60 72.06) scale(1 1.12)" y="3.51" font-family='"Liberation Sans", sans-serif' font-size="9.8" text-anchor="end">50</text>
<text transform="translate(338.60 80.49) scale(1 1.12)" y="3.51" font-family='"Liberation Sans", sans-serif' font-size="9.8" text-anchor="end">100</text>
<text transform="translate(338.60 88.92) scale(1 1.12)" y="3.51" font-family='"Liberation Sans", sans-serif' font-size="9.8" text-anchor="end">200</text>
<text transform="translate(338.60 100.06) scale(1 1.12)" y="3.51" font-family='"Liberation Sans", sans-serif' font-size="9.8" text-anchor="end">500</text>
<text transform="translate(338.60 108.49) scale(1 1.12)" y="3.51" font-family='"Liberation Sans", sans-serif' font-size="9.8" text-anchor="end">1000</text>
<text transform="translate(350.30 124.46) scale(1 1.12)" y="3.54" font-family='"Liberation Sans", sans-serif' font-size="9.9" text-anchor="middle">Sep</text>
<text transform="translate(374.98 124.46) scale(1 1.12)" y="3.54" font-family='"Liberation Sans", sans-serif' font-size="9.9" text-anchor="middle">Oct</text>
<text transform="translate(400.47 124.46) scale(1 1.12)" y="3.54" font-family='"Liberation Sans", sans-serif' font-size="9.9" text-anchor="middle">Nov</text>
<text transform="translate(425.15 124.46) scale(1 1.12)" y="3.54" font-family='"Liberation Sans", sans-serif' font-size="9.9" text-anchor="middle">Dec</text>
<text transform="translate(450.65 124.46) scale(1 1.12)" y="3.54" font-family='"Liberation Sans", sans-serif' font-size="9.9" text-anchor="middle">Jan</text>
<text transform="translate(476.14 124.46) scale(1 1.12)" y="3.54" font-family='"Liberation Sans", sans-serif' font-size="9.9" text-anchor="middle">Feb</text>
<text transform="translate(499.17 124.46) scale(1 1.12)" y="3.54" font-family='"Liberation Sans", sans-serif' font-size="9.9" text-anchor="middle">Mar</text>
<text transform="translate(524.67 124.46) scale(1 1.12)" y="3.54" font-family='"Liberation Sans", sans-serif' font-size="9.9" text-anchor="middle">Apr</text>
<text transform="translate(549.35 124.46) scale(1 1.12)" y="3.54" font-family='"Liberation Sans", sans-serif' font-size="9.9" text-anchor="middle">May</text>
<path d="M345.20 44.07H350.5 M345.20 52.50H350.5 M345.20 60.93H350.5 M345.20 72.07H350.5 M345.20 80.50H350.5 M345.20 88.93H350.5 M345.20 100.07H350.5 M345.20 108.50H350.5 M350.30 108.5V113.7 M374.98 108.5V113.7 M400.47 108.5V113.7 M425.15 108.5V113.7 M450.65 108.5V113.7 M476.14 108.5V113.7 M499.17 108.5V113.7 M524.67 108.5V113.7 M549.35 108.5V113.7" stroke="#000" stroke-width="1.4" fill="none"/>
<g clip-path="url(#c11)">
<rect x="350.5" y="143.5" width="224.0" height="84.0" fill="#e1faff"/>
<rect x="350" y="143" width="225" height="85" fill="#fffce1"/>
<path d="M351 172L362 170L372 176L377 190L377 228L351 228Z" fill="#e1faff"/>
<path d="M385 195C386.3 189 390.2 190.3 392 192C393.8 193.7 395.5 199 396 205C396.5 211 397 224.2 395 228C393 231.8 385.7 233.5 384 228C382.3 222.5 383.7 201 385 195Z" fill="#e1faff"/>
<path d="M400 205C403.3 200.3 413.3 200.3 420 200C426.7 199.7 435.5 201.3 440 203C444.5 204.7 445.8 205.8 447 210C448.2 214.2 454.8 225 447 228C439.2 231 407.8 231.8 400 228C392.2 224.2 396.7 209.7 400 205Z" fill="#e1faff"/>
<path d="M420 143C421.3 138.8 426.5 139.3 428 143C429.5 146.7 429.7 159.7 429 165C428.3 170.3 425.5 174.5 424 175C422.5 175.5 420.7 173.3 420 168C419.3 162.7 418.7 147.2 420 143Z" fill="#e1faff"/>
<path d="M410 143C412.5 142 422.5 142 425 143C427.5 144 427.5 148 425 149C422.5 150 412.5 150 410 149C407.5 148 407.5 144 410 143Z" fill="#e1faff"/>
<path d="M504.8 214.7C508.9 212.4 525.4 211.8 529.6 214C533.8 216.2 534.1 225.7 530 228C525.9 230.3 509.2 230.2 505 228C500.8 225.8 500.7 217 504.8 214.7Z" fill="#e1faff"/>
<path d="M379 151C380 149.8 384 149.8 385 151C386 152.2 386 157.2 385 158.5C384 159.8 380 159.8 379 158.5C378 157.2 378 152.2 379 151Z" fill="#ffebaa"/>
<path d="M393.6 149C394.1 147.2 396.2 147.2 396.7 149C397.2 150.8 396.9 158.2 396.4 160C395.9 161.8 394.3 161.8 393.8 160C393.3 158.2 393.1 150.8 393.6 149Z" fill="#ffebaa"/>
<path d="M403 147C403.8 145.5 407.2 145.5 408 147C408.8 148.5 408.3 153.2 408 156C407.7 158.8 406.8 164 406 164C405.2 164 404 158.8 403.5 156C403 153.2 402.2 148.5 403 147Z" fill="#ffebaa"/>
<path d="M419.6 170C420.3 166.2 424.1 164.5 425 168C425.9 171.5 425.7 187.2 425 191C424.3 194.8 421.9 194.5 421 191C420.1 187.5 418.9 173.8 419.6 170Z" fill="#ffebaa"/>
<path d="M420.3 180C421 177.4 424.4 177.4 425 180C425.6 182.6 424.7 193 424 195.6C423.3 198.2 421.6 198.2 421 195.6C420.4 193 419.6 182.6 420.3 180Z" fill="#ffebaa"/>
<path d="M436 176C437.3 172.5 444.4 172.5 446 176C447.6 179.5 446.7 193.7 445.4 197.2C444.1 200.7 439.6 200.7 438 197.2C436.4 193.7 434.7 179.5 436 176Z" fill="#ffebaa"/>
<path d="M459.5 216C460.3 214 463.4 214 464.2 216C465 218 465 226 464.2 228C463.4 230 460.3 230 459.5 228C458.7 226 458.7 218 459.5 216Z" fill="#ffebaa"/>
<path d="M429.2 143L452 143L451.6 160L451 170.6L447.6 175.2L443 176.3L440.1 185.5L438.4 187.8L437.2 184.4L433.8 175.2L431.5 166L430.3 154.5Z" fill="#ffcd8c"/>
<path d="M430 143L444 143L443 160L441 171.7L437 176L434 172L432 164L430.5 154Z" fill="#ffa564"/>
<path d="M430 143L436 143L438.4 152L438.4 162.5L435 164L432 158L431 150Z" fill="#fa463c"/>
<path d="M442 143C443 140.2 447.8 139.3 449 143C450.2 146.7 449.5 160.8 449 165C448.5 169.2 447 168.8 446 168C445 167.2 443.7 164.2 443 160C442.3 155.8 441 145.8 442 143Z" fill="#fffce1"/>
<path d="M452 143L486 143L484.5 160L483 175L482 184L487.6 190L487.6 205L470 205L456.3 200L455 190L452 175Z" fill="#b4f0ff"/>
<path d="M452 143L484 143L481 160L479 175L476 183L478.2 195L470 198L460 190L455 180L452 165Z" fill="#8cdcfa"/>
<path d="M452 143L478 143L476 155L475 170L474 180L478.2 189.4L468.9 189.4L466 183L460 175L455 165L452 155Z" fill="#64befa"/>
<path d="M452 143L468 143L472 150L473 165L473 179.8L467 178L465 166L460 162L456 158L452 152Z" fill="#3c82fa"/>
<path d="M454 145C454.7 143.3 460.5 143.8 462 145C463.5 146.2 463.7 150.3 463 152C462.3 153.7 459.5 156.2 458 155C456.5 153.8 453.3 146.7 454 145Z" fill="#285afa"/>
<path d="M480 143L486 143L486 160L488 172L492 181L486 184L482 180L481 160Z" fill="#fffce1"/>
<path d="M485.1 143L505 143L509 152L515 160L518 168L522 176L530 184L540 192L552 203L553 210L546.1 212L529.6 214L513 214L496.5 209L489.9 200L488.3 190L488 180L485.7 160.2Z" fill="#ffebaa"/>
<path d="M487 160L500 156L509 158L515 162L518 170L522 178L530 187L540 195L546 203L545 208L529.6 211L513 211.5L498 207L491 199L489 190L488 178L486.5 162Z" fill="#ffcd8c"/>
<path d="M488 163L494 162L500 163L505 163.7L510 170L516 178L521.3 185L521.3 195L510 199.8L493.2 199.8L490 193L488 180L487 165Z" fill="#ffa564"/>
<path d="M493.7 171.7L500 170L505 165L507.3 170L506 180L503 188.3L498 192L493.2 188.3L492 180Z" fill="#fa463c"/>
<path d="M495 176C495.5 174.2 498.8 173.8 500 175C501.2 176.2 502.5 181.2 502 183C501.5 184.8 498.2 187.2 497 186C495.8 184.8 494.5 177.8 495 176Z" fill="#f01e32"/>
<path d="M493 168L499 164L504 167L506 178L505 188L500 193L494 192L491 182Z" fill="#fa463c"/>
<path d="M495 174C496 171.5 499.7 170.3 501 172C502.3 173.7 503.3 181 503 184C502.7 187 500.3 189.5 499 190C497.7 190.5 495.7 189.7 495 187C494.3 184.3 494 176.5 495 174Z" fill="#f01e32"/>
<path d="M505.2 143L548 143L552 150L560 165L562 180L560 195L545 195L535 188L525 178L518 165L510 152Z" fill="#b4f0ff"/>
<path d="M510.7 143L538 143L540 155L545 168L535 172L525 166L518 158L512 150Z" fill="#8cdcfa"/>
<path d="M511.9 143L531.4 143L531.4 166L525 164L517 155L513 148Z" fill="#64befa"/>
<path d="M512 143C513 141.8 518.8 141.5 520 143C521.2 144.5 520 150.8 519 152C518 153.2 515.2 151.5 514 150C512.8 148.5 511 144.2 512 143Z" fill="#3c82fa"/>
<path d="M429.2 143C429.4 144.9 429.9 150.7 430.3 154.5C430.7 158.3 430.9 162.6 431.5 166C432.1 169.4 432.9 172.1 433.8 175.2C434.8 178.3 436.4 182.3 437.2 184.4C438 186.5 437.9 187.6 438.4 187.8C438.9 188 439.7 186.8 440.1 185.5C440.5 184.2 440.2 181.3 440.7 179.8C441.2 178.3 442.2 176.5 443 176.3C443.8 176.1 444.5 178.8 445.3 178.6C446.1 178.4 447 176.3 447.6 175.2C448.2 174 448.1 172.5 448.7 171.7C449.3 170.9 450.5 172.5 451 170.6C451.5 168.7 451.5 164.8 451.6 160.2C451.7 155.6 451.6 145.9 451.6 143" fill="none" stroke="#f00" stroke-width="1.15" stroke-linejoin="round"/>
<path d="M431 143C431.1 144.5 431.2 148.7 431.5 152C431.8 155.3 432.4 159.8 433 163C433.6 166.2 434.2 168.6 435 171C435.8 173.4 436.7 176.8 437.5 177.5C438.3 178.2 439.2 176.1 440 175C440.8 173.9 441.3 171.5 442 171C442.7 170.5 443.2 172.5 444 172C444.8 171.5 445.7 169 446.5 168C447.3 167 448.5 168.2 449 166C449.5 163.8 449.4 158.8 449.5 155C449.6 151.2 449.5 145 449.5 143" fill="none" stroke="#f00" stroke-width="1.15" stroke-linejoin="round"/>
<path d="M432.6 143C432.8 144.2 432.9 147.8 433.5 150C434.1 152.2 435.1 154.7 436 156C436.9 157.3 438.2 159 439 158C439.8 157 440.7 152.5 441 150C441.3 147.5 441 144.2 441 143" fill="none" stroke="#f00" stroke-width="1.15" stroke-linejoin="round"/>
<path d="M441.3 143C441.4 144.5 441.6 149.5 441.8 152C442 154.5 442.4 157 442.5 158" fill="none" stroke="#f00" stroke-width="1.15" stroke-linejoin="round"/>
<path d="M443.5 143C443.6 145 444 151.7 444.4 155C444.8 158.3 445.4 161.2 445.8 163C446.2 164.8 446.7 166.5 447 166C447.3 165.5 447.5 163.8 447.6 160C447.7 156.2 447.6 145.8 447.6 143" fill="none" stroke="#f00" stroke-width="1.15" stroke-linejoin="round"/>
<path d="M485.1 143C485.2 145.9 485.2 155.4 485.7 160.2C486.2 165 487.1 168.4 488 171.7C488.9 175 490.2 177.3 491.4 179.8C492.5 182.3 493.9 185 494.9 186.7C495.9 188.4 496.6 188.9 497.2 190C497.8 191.1 497.5 192.9 498.2 193.2C498.9 193.5 500.1 192.1 501.5 191.6C502.9 191.1 505 190.3 506.4 189.9C507.8 189.5 508.4 189.5 510 189C511.6 188.5 514.8 187.7 515.9 186.7C517 185.7 516.2 184.5 516.5 183.2C516.8 181.8 517.3 180.3 517.6 178.6C517.9 176.9 518.2 175 518.2 172.9C518.2 170.8 518.1 168.1 517.6 166C517.1 163.9 516.2 161.7 515.3 160.2C514.3 158.7 512.8 158.1 511.9 156.8C510.9 155.5 510.4 154.5 509.6 152.2C508.8 149.9 507.7 144.5 507.3 143" fill="none" stroke="#f00" stroke-width="1.15" stroke-linejoin="round"/>
<path d="M487 143C487.1 145 487 151.2 487.5 155C488 158.8 489.1 163.2 490 166C490.9 168.8 491.8 170.2 493 172C494.2 173.8 495.5 176 497 177C498.5 178 500.7 177.5 502 178C503.3 178.5 504 180 505 180C506 180 506.8 178.7 508 178C509.2 177.3 511 177.3 512 176C513 174.7 514 172.2 514 170C514 167.8 512.8 165.2 512 163C511.2 160.8 510 159.2 509 157C508 154.8 506.7 152.3 506 150C505.3 147.7 505.2 144.2 505 143" fill="none" stroke="#f00" stroke-width="1.15" stroke-linejoin="round"/>
<path d="M491 143C491.2 144.5 491.7 149.5 492.5 152C493.3 154.5 494.8 156.7 496 158C497.2 159.3 498.8 159.3 500 160C501.2 160.7 502.2 162 503 162C503.8 162 505.2 161.7 505 160C504.8 158.3 502.8 154.8 502 152C501.2 149.2 500.3 144.5 500 143" fill="none" stroke="#f00" stroke-width="1.15" stroke-linejoin="round"/>
<path d="M509 143C509.3 144.2 509.8 148 510.7 149.9C511.6 151.8 513.1 152.8 514.2 154.5C515.4 156.2 516.7 158.3 517.6 160.2C518.5 162.1 519.1 164.5 519.9 166C520.7 167.5 521.5 167.9 522.2 169.4C522.9 170.9 523.5 173.2 524 175C524.5 176.8 525 178.2 525.5 180C526 181.8 526.7 184.2 527 186C527.3 187.8 527.9 189.8 527.5 191C527.1 192.2 526.2 192.5 524.6 193C523 193.5 520.1 193.9 518 194C515.9 194.1 513 193.6 512 193.5" fill="none" stroke="#f00" stroke-width="1.15" stroke-linejoin="round"/>
<path d="M512 143C512.3 144 513 147.3 514 149C515 150.7 516.8 151.3 518 153C519.2 154.7 520 156.4 521 159C522 161.6 523.3 166 524 168.3C524.7 170.6 524.6 171.4 525.1 172.9C525.6 174.4 526.1 176 526.8 177.5C527.5 179 528.6 180.6 529.1 182.1C529.6 183.6 529.8 185.3 529.7 186.7C529.6 188.1 529.1 189.6 528.5 190.5C527.9 191.4 526.4 191.8 526 192" fill="none" stroke="#f00" stroke-width="1.15" stroke-linejoin="round"/>
<path d="M453.3 154.5C453.9 155.4 455.7 158.7 456.8 160.2C457.9 161.7 458.9 162.7 460.2 163.7C461.5 164.7 463.4 165.1 464.8 166C466.2 166.9 467.4 168.5 468.3 169.4C469.2 170.3 469.4 170.4 470 171.7C470.6 173 471.3 175.6 472 177C472.7 178.4 473.3 180.2 474 180C474.7 179.8 475.3 177 476 176C476.7 175 477.3 173.8 478 174C478.7 174.2 479.6 178.5 480 177C480.4 175.5 480.3 168.7 480.5 165C480.7 161.3 481.1 158.7 481 155C480.9 151.3 480.2 145 480 143" fill="none" stroke="#1e28f5" stroke-width="1.15" stroke-dasharray="4,1.7" stroke-linejoin="round"/>
<path d="M467.3 143C467.5 144.2 467.7 147.9 468.5 150C469.3 152.1 471.1 155.6 471.9 155.6C472.6 155.6 472.9 152.1 473 150C473.1 147.9 472.6 144.2 472.5 143" fill="none" stroke="#1e28f5" stroke-width="1.15" stroke-dasharray="4,1.7" stroke-linejoin="round"/>
<path d="M455 143C455.2 143.8 455.5 148 456 148C456.5 148 457.7 143.8 458 143" fill="none" stroke="#1e28f5" stroke-width="1.15" stroke-dasharray="4,1.7" stroke-linejoin="round"/>
<path d="M446.2 228L446.2 201.5L451.6 201.5L451.6 228" fill="none" stroke="#1e28f5" stroke-width="1.15" stroke-dasharray="4,1.7" stroke-linejoin="round"/>
<path d="M517 143C517.5 143.5 519 146 520 146C521 146 522.5 143.5 523 143" fill="none" stroke="#1e28f5" stroke-width="1.15" stroke-dasharray="4,1.7" stroke-linejoin="round"/>
<path d="M524 143C524.3 143.5 525.2 146 526 146C526.8 146 528.5 143.5 529 143" fill="none" stroke="#1e28f5" stroke-width="1.15" stroke-dasharray="4,1.7" stroke-linejoin="round"/>
<path d="M440.3 149.3a1.0 1.0 0 1 0 2 0a1.0 1.0 0 1 0 -2 0M467.3 168.9a1.0 1.0 0 1 0 2 0a1.0 1.0 0 1 0 -2 0M466.9 168.9a1.0 1.0 0 1 0 2 0a1.0 1.0 0 1 0 -2 0M470.3 172.3a1.0 1.0 0 1 0 2 0a1.0 1.0 0 1 0 -2 0M470.3 179.2a1.0 1.0 0 1 0 2 0a1.0 1.0 0 1 0 -2 0M516.6 145.9a1.0 1.0 0 1 0 2 0a1.0 1.0 0 1 0 -2 0M520.1 149.3a1.0 1.0 0 1 0 2 0a1.0 1.0 0 1 0 -2 0M516.6 152.8a1.0 1.0 0 1 0 2 0a1.0 1.0 0 1 0 -2 0M526.4 149.3a1.0 1.0 0 1 0 2 0a1.0 1.0 0 1 0 -2 0M529.9 152.8a1.0 1.0 0 1 0 2 0a1.0 1.0 0 1 0 -2 0M526.4 156.2a1.0 1.0 0 1 0 2 0a1.0 1.0 0 1 0 -2 0M529.9 159.1a1.0 1.0 0 1 0 2 0a1.0 1.0 0 1 0 -2 0M526.4 162.5a1.0 1.0 0 1 0 2 0a1.0 1.0 0 1 0 -2 0M529.9 166a1.0 1.0 0 1 0 2 0a1.0 1.0 0 1 0 -2 0M536.2 166a1.0 1.0 0 1 0 2 0a1.0 1.0 0 1 0 -2 0M543.1 166a1.0 1.0 0 1 0 2 0a1.0 1.0 0 1 0 -2 0M526.4 168.9a1.0 1.0 0 1 0 2 0a1.0 1.0 0 1 0 -2 0M532.7 168.9a1.0 1.0 0 1 0 2 0a1.0 1.0 0 1 0 -2 0M539.6 168.9a1.0 1.0 0 1 0 2 0a1.0 1.0 0 1 0 -2 0M546 168.9a1.0 1.0 0 1 0 2 0a1.0 1.0 0 1 0 -2 0M546 175.8a1.0 1.0 0 1 0 2 0a1.0 1.0 0 1 0 -2 0M460.5 215.2a1.0 1.0 0 1 0 2 0a1.0 1.0 0 1 0 -2 0M460.5 221.9a1.0 1.0 0 1 0 2 0a1.0 1.0 0 1 0 -2 0M519.5 222.1a1.0 1.0 0 1 0 2 0a1.0 1.0 0 1 0 -2 0" fill="#000"/>
<path d="M496.5 185.8a1.0 1.0 0 1 0 2 0a1.0 1.0 0 1 0 -2 0M503.1 185.8a1.0 1.0 0 1 0 2 0a1.0 1.0 0 1 0 -2 0M509.7 185.8a1.0 1.0 0 1 0 2 0a1.0 1.0 0 1 0 -2 0M516.3 185.8a1.0 1.0 0 1 0 2 0a1.0 1.0 0 1 0 -2 0M493.2 189.1a1.0 1.0 0 1 0 2 0a1.0 1.0 0 1 0 -2 0M499.8 189.1a1.0 1.0 0 1 0 2 0a1.0 1.0 0 1 0 -2 0M506.4 189.1a1.0 1.0 0 1 0 2 0a1.0 1.0 0 1 0 -2 0M513 189.1a1.0 1.0 0 1 0 2 0a1.0 1.0 0 1 0 -2 0M519.6 189.1a1.0 1.0 0 1 0 2 0a1.0 1.0 0 1 0 -2 0M489.9 192.4a1.0 1.0 0 1 0 2 0a1.0 1.0 0 1 0 -2 0M496.5 192.4a1.0 1.0 0 1 0 2 0a1.0 1.0 0 1 0 -2 0M503.1 192.4a1.0 1.0 0 1 0 2 0a1.0 1.0 0 1 0 -2 0M509.7 192.4a1.0 1.0 0 1 0 2 0a1.0 1.0 0 1 0 -2 0M516.3 192.4a1.0 1.0 0 1 0 2 0a1.0 1.0 0 1 0 -2 0M523 192.4a1.0 1.0 0 1 0 2 0a1.0 1.0 0 1 0 -2 0M493.2 195.7a1.0 1.0 0 1 0 2 0a1.0 1.0 0 1 0 -2 0M499.8 195.7a1.0 1.0 0 1 0 2 0a1.0 1.0 0 1 0 -2 0M506.4 195.7a1.0 1.0 0 1 0 2 0a1.0 1.0 0 1 0 -2 0M513 195.7a1.0 1.0 0 1 0 2 0a1.0 1.0 0 1 0 -2 0M519.6 195.7a1.0 1.0 0 1 0 2 0a1.0 1.0 0 1 0 -2 0M526.3 195.7a1.0 1.0 0 1 0 2 0a1.0 1.0 0 1 0 -2 0M496.5 199a1.0 1.0 0 1 0 2 0a1.0 1.0 0 1 0 -2 0M503.1 199a1.0 1.0 0 1 0 2 0a1.0 1.0 0 1 0 -2 0M509.7 199a1.0 1.0 0 1 0 2 0a1.0 1.0 0 1 0 -2 0M516.3 199a1.0 1.0 0 1 0 2 0a1.0 1.0 0 1 0 -2 0M523 199a1.0 1.0 0 1 0 2 0a1.0 1.0 0 1 0 -2 0M529.6 199a1.0 1.0 0 1 0 2 0a1.0 1.0 0 1 0 -2 0M536.2 199a1.0 1.0 0 1 0 2 0a1.0 1.0 0 1 0 -2 0M493.2 202.4a1.0 1.0 0 1 0 2 0a1.0 1.0 0 1 0 -2 0M499.8 202.4a1.0 1.0 0 1 0 2 0a1.0 1.0 0 1 0 -2 0M506.4 202.4a1.0 1.0 0 1 0 2 0a1.0 1.0 0 1 0 -2 0M513 202.4a1.0 1.0 0 1 0 2 0a1.0 1.0 0 1 0 -2 0M519.6 202.4a1.0 1.0 0 1 0 2 0a1.0 1.0 0 1 0 -2 0M526.3 202.4a1.0 1.0 0 1 0 2 0a1.0 1.0 0 1 0 -2 0M532.9 202.4a1.0 1.0 0 1 0 2 0a1.0 1.0 0 1 0 -2 0M539.5 202.4a1.0 1.0 0 1 0 2 0a1.0 1.0 0 1 0 -2 0M496.5 205.7a1.0 1.0 0 1 0 2 0a1.0 1.0 0 1 0 -2 0M503.1 205.7a1.0 1.0 0 1 0 2 0a1.0 1.0 0 1 0 -2 0M509.7 205.7a1.0 1.0 0 1 0 2 0a1.0 1.0 0 1 0 -2 0M516.3 205.7a1.0 1.0 0 1 0 2 0a1.0 1.0 0 1 0 -2 0M523 205.7a1.0 1.0 0 1 0 2 0a1.0 1.0 0 1 0 -2 0M529.6 205.7a1.0 1.0 0 1 0 2 0a1.0 1.0 0 1 0 -2 0M536.2 205.7a1.0 1.0 0 1 0 2 0a1.0 1.0 0 1 0 -2 0M542.8 205.7a1.0 1.0 0 1 0 2 0a1.0 1.0 0 1 0 -2 0M499.8 209a1.0 1.0 0 1 0 2 0a1.0 1.0 0 1 0 -2 0M506.4 209a1.0 1.0 0 1 0 2 0a1.0 1.0 0 1 0 -2 0M513 209a1.0 1.0 0 1 0 2 0a1.0 1.0 0 1 0 -2 0M519.6 209a1.0 1.0 0 1 0 2 0a1.0 1.0 0 1 0 -2 0M526.3 209a1.0 1.0 0 1 0 2 0a1.0 1.0 0 1 0 -2 0M532.9 209a1.0 1.0 0 1 0 2 0a1.0 1.0 0 1 0 -2 0M539.5 209a1.0 1.0 0 1 0 2 0a1.0 1.0 0 1 0 -2 0M546.1 209a1.0 1.0 0 1 0 2 0a1.0 1.0 0 1 0 -2 0M503.1 212.3a1.0 1.0 0 1 0 2 0a1.0 1.0 0 1 0 -2 0M509.7 212.3a1.0 1.0 0 1 0 2 0a1.0 1.0 0 1 0 -2 0M516.3 212.3a1.0 1.0 0 1 0 2 0a1.0 1.0 0 1 0 -2 0M523 212.3a1.0 1.0 0 1 0 2 0a1.0 1.0 0 1 0 -2 0M529.6 212.3a1.0 1.0 0 1 0 2 0a1.0 1.0 0 1 0 -2 0M536.2 212.3a1.0 1.0 0 1 0 2 0a1.0 1.0 0 1 0 -2 0" fill="#000"/>
</g>
<rect x="350.5" y="143.5" width="224.0" height="84.0" fill="none" stroke="#000" stroke-width="1.1"/>
<rect x="352.5" y="145.5" width="21.5" height="19.8" fill="#fff" stroke="#333" stroke-width="0.8"/>
<text transform="translate(363.40 154.86) scale(1 1.12)" y="3.94" font-family='"Liberation Sans", sans-serif' font-size="11.0" text-anchor="middle">(d)</text>
<text transform="translate(338.60 163.06) scale(1 1.12)" y="3.51" font-family='"Liberation Sans", sans-serif' font-size="9.8" text-anchor="end">5</text>
<text transform="translate(338.60 171.49) scale(1 1.12)" y="3.51" font-family='"Liberation Sans", sans-serif' font-size="9.8" text-anchor="end">10</text>
<text transform="translate(338.60 179.92) scale(1 1.12)" y="3.51" font-family='"Liberation Sans", sans-serif' font-size="9.8" text-anchor="end">20</text>
<text transform="translate(338.60 191.06) scale(1 1.12)" y="3.51" font-family='"Liberation Sans", sans-serif' font-size="9.8" text-anchor="end">50</text>
<text transform="translate(338.60 199.49) scale(1 1.12)" y="3.51" font-family='"Liberation Sans", sans-serif' font-size="9.8" text-anchor="end">100</text>
<text transform="translate(338.60 207.92) scale(1 1.12)" y="3.51" font-family='"Liberation Sans", sans-serif' font-size="9.8" text-anchor="end">200</text>
<text transform="translate(338.60 219.06) scale(1 1.12)" y="3.51" font-family='"Liberation Sans", sans-serif' font-size="9.8" text-anchor="end">500</text>
<text transform="translate(338.60 227.49) scale(1 1.12)" y="3.51" font-family='"Liberation Sans", sans-serif' font-size="9.8" text-anchor="end">1000</text>
<text transform="translate(350.30 243.46) scale(1 1.12)" y="3.54" font-family='"Liberation Sans", sans-serif' font-size="9.9" text-anchor="middle">Sep</text>
<text transform="translate(374.98 243.46) scale(1 1.12)" y="3.54" font-family='"Liberation Sans", sans-serif' font-size="9.9" text-anchor="middle">Oct</text>
<text transform="translate(400.47 243.46) scale(1 1.12)" y="3.54" font-family='"Liberation Sans", sans-serif' font-size="9.9" text-anchor="middle">Nov</text>
<text transform="translate(425.15 243.46) scale(1 1.12)" y="3.54" font-family='"Liberation Sans", sans-serif' font-size="9.9" text-anchor="middle">Dec</text>
<text transform="translate(450.65 243.46) scale(1 1.12)" y="3.54" font-family='"Liberation Sans", sans-serif' font-size="9.9" text-anchor="middle">Jan</text>
<text transform="translate(476.14 243.46) scale(1 1.12)" y="3.54" font-family='"Liberation Sans", sans-serif' font-size="9.9" text-anchor="middle">Feb</text>
<text transform="translate(499.17 243.46) scale(1 1.12)" y="3.54" font-family='"Liberation Sans", sans-serif' font-size="9.9" text-anchor="middle">Mar</text>
<text transform="translate(524.67 243.46) scale(1 1.12)" y="3.54" font-family='"Liberation Sans", sans-serif' font-size="9.9" text-anchor="middle">Apr</text>
<text transform="translate(549.35 243.46) scale(1 1.12)" y="3.54" font-family='"Liberation Sans", sans-serif' font-size="9.9" text-anchor="middle">May</text>
<path d="M345.20 163.07H350.5 M345.20 171.50H350.5 M345.20 179.93H350.5 M345.20 191.07H350.5 M345.20 199.50H350.5 M345.20 207.93H350.5 M345.20 219.07H350.5 M345.20 227.50H350.5 M350.30 227.5V232.7 M374.98 227.5V232.7 M400.47 227.5V232.7 M425.15 227.5V232.7 M450.65 227.5V232.7 M476.14 227.5V232.7 M499.17 227.5V232.7 M524.67 227.5V232.7 M549.35 227.5V232.7" stroke="#000" stroke-width="1.4" fill="none"/>
<g clip-path="url(#c12)">
<rect x="350.5" y="262.5" width="224.0" height="84.0" fill="#e1faff"/>
<path d="M351 318C352.5 314 358.3 312.3 360 316C361.7 319.7 362.5 336 361 340C359.5 344 352.7 343.7 351 340C349.3 336.3 349.5 322 351 318Z" fill="#fffce1"/>
<path d="M372 320C373.3 315.2 378.3 313.5 380 318C381.7 322.5 383.3 342.2 382 347C380.7 351.8 373.7 351.5 372 347C370.3 342.5 370.7 324.8 372 320Z" fill="#fffce1"/>
<path d="M388 322C389.3 317.5 396 315.8 398 320C400 324.2 401.3 342.5 400 347C398.7 351.5 392 351.2 390 347C388 342.8 386.7 326.5 388 322Z" fill="#fffce1"/>
<path d="M426 330C428.3 326.5 434.3 325.7 440 326C445.7 326.3 453.3 330.3 460 332C466.7 333.7 465.8 335.7 480 336C494.2 336.3 529.2 334.5 545 334C560.8 333.5 570 330.8 575 333C580 335.2 599.8 344.7 575 347C550.2 349.3 450.8 349.8 426 347C401.2 344.2 423.7 333.5 426 330Z" fill="#fffce1"/>
<path d="M536 301C541.8 298.7 568.5 297.3 575 300C581.5 302.7 578.3 314.3 575 317C571.7 319.7 560.8 316.5 555 316C549.2 315.5 543.2 316.5 540 314C536.8 311.5 530.2 303.3 536 301Z" fill="#fffce1"/>
<path d="M407 262C410.2 259.7 423.7 259.7 427 262C430.3 264.3 430.2 273.7 427 276C423.8 278.3 411.3 278.3 408 276C404.7 273.7 403.8 264.3 407 262Z" fill="#fffce1"/>
<path d="M426 262C426.6 255.7 428.8 255.7 429.4 262C430 268.3 430 293.7 429.4 300C428.8 306.3 426.6 306.3 426 300C425.4 293.7 425.4 268.3 426 262Z" fill="#fffce1"/>
<path d="M409 262C410 260.8 415 260.8 416 262C417 263.2 416 267.8 415 269C414 270.2 411 270.2 410 269C409 267.8 408 263.2 409 262Z" fill="#ffebaa"/>
<path d="M449.5 330.6C450.4 328.7 454.3 328.7 455.2 330.6C456.1 332.5 455.9 340.1 455 342C454.1 343.9 450.9 343.9 450 342C449.1 340.1 448.6 332.5 449.5 330.6Z" fill="#ffebaa"/>
<path d="M380 267.7C380.9 265.6 384.7 265.6 385.6 267.7C386.5 269.8 386.5 278.3 385.6 280.4C384.7 282.5 380.9 282.5 380 280.4C379.1 278.3 379.1 269.8 380 267.7Z" fill="#b4f0ff"/>
<path d="M391.3 267.7C392.1 265.3 395.4 265.3 396.2 267.7C397 270.1 397 279.5 396.2 281.9C395.4 284.3 392.1 284.3 391.3 281.9C390.5 279.5 390.5 270.1 391.3 267.7Z" fill="#b4f0ff"/>
<path d="M429.4 262L453 262L453 285L456 297L458 310L462 320L455 323L440 322L430.3 319L429.4 300Z" fill="#b4f0ff"/>
<path d="M429.4 262L452 262L452 285L455 297L455.2 310L445 315L432 312L430 300Z" fill="#8cdcfa"/>
<path d="M430 262L450 262L449.3 285L449.3 297.2L440 302L432 300L430.6 285Z" fill="#64befa"/>
<path d="M430.6 262L441 262L441 279.6L449.3 279.6L449.3 295L440 298L432 296L431 285Z" fill="#3c82fa"/>
<path d="M442 262C443.1 259.2 447.9 259.2 449 262C450.1 264.8 449.6 276.2 448.5 279C447.4 281.8 443.6 281.8 442.5 279C441.4 276.2 440.9 264.8 442 262Z" fill="#8cdcfa"/>
<path d="M431 262L441 262L440 285.5L436 288L432 285.5Z" fill="#285afa"/>
<path d="M432 262L439 262L438.5 280L433 282Z" fill="#1e28f5"/>
<path d="M465 285L488.5 285L488.5 310L478.5 320L465 318Z" fill="#b4f0ff"/>
<path d="M451.7 262L488 262L488 276L487 285L482 290L475 291L465 291L458.7 291.3L453 280Z" fill="#ffa564"/>
<path d="M454 262L485 262L484 284L476 287L465 287L458 285.5L455 275Z" fill="#fa463c"/>
<path d="M458.7 262L482 262L481 278L470 280L460 278Z" fill="#f01e32"/>
<path d="M458.7 262L480.2 262L480 276L470 276L460 273Z" fill="#d7142d"/>
<path d="M462 262C464.3 260.5 476.3 260.5 479 262C481.7 263.5 480.3 269.5 478 271C475.7 272.5 467.7 272.5 465 271C462.3 269.5 459.7 263.5 462 262Z" fill="#a5001e"/>
<path d="M482.6 262C483.6 255.7 487.5 255.7 488.5 262C489.5 268.3 489.1 292 488.5 300C487.9 308 486 310 485 310C484 310 483 308 482.6 300C482.2 292 481.6 268.3 482.6 262Z" fill="#fffce1"/>
<path d="M489.5 262L575 262L575 264L556 264L553 285L550.2 300.7L530 303L520.9 295L515 292L503.7 289L496.7 287L490.8 286Z" fill="#ffa564"/>
<path d="M530 262L547 262L549 280L553 287L559.8 300L559.8 306.7L545 308L530 305L540 300Z" fill="#ffebaa"/>
<path d="M531 272L540 276L548 284L554 294L556 303L545 306L533 302Z" fill="#ffcd8c"/>
<path d="M490.8 262L529.1 262L530.3 269L533.8 276.1L538.5 280.8L544.4 285.5L547.9 290.2L544.4 294.9L538.5 293.7L532.6 292.5L526.7 289L520.9 291.3L515 289L511.9 285.5L503.7 285.5L496.7 283.1L490.8 282Z" fill="#fa463c"/>
<path d="M491 262L528 262L528 270L530 278L522 284L515 283L505 282L495 280L491 275Z" fill="#f01e32"/>
<path d="M503.7 264.3C506.4 262.3 517 262.2 520 264C523 265.8 522 271.8 522 275C522 278.2 522 281.8 520 283.1C518 284.4 512.7 284.2 510 283C507.3 281.8 505.1 279.1 504 276C502.9 272.9 501 266.3 503.7 264.3Z" fill="#d7142d"/>
<path d="M515 262C516 259.2 520.8 259.1 522 262C523.2 264.9 523 276.8 522 279.6C521 282.4 517.2 281.9 516 279C514.8 276.1 514 264.8 515 262Z" fill="#a5001e"/>
<path d="M507 268C508 266.3 512.8 266.3 514 268C515.2 269.7 515 276.3 514 278C513 279.7 509.2 279.7 508 278C506.8 276.3 506 269.7 507 268Z" fill="#a5001e"/>
<path d="M533 295C534.8 294.2 543 294.2 545 295C547 295.8 546.8 299.2 545 300C543.2 300.8 536 300.8 534 300C532 299.2 531.2 295.8 533 295Z" fill="#ffcd8c"/>
<path d="M540 305L575 312L575 332L540 334Z" fill="#b4f0ff"/>
<path d="M478.5 290L490 288L505 289L515 292L528 298L541 307L552.9 318L560 320L560 331L541 332.6L520 334L490 334L478.5 325Z" fill="#8cdcfa"/>
<path d="M483 292L500 291L515 295L528 300L533 310L540 320L552.9 325L552.9 331.8L530 332L500 332L486 328Z" fill="#64befa"/>
<path d="M485 294L500 293L515 297L525 302L532 310L536 320L541 329.4L520 330L490 330L486.3 320Z" fill="#3c82fa"/>
<path d="M486.5 296L500 296L515 299L527 304L533 312L534 322L530 327L510 328L490 327L487 318Z" fill="#285afa"/>
<path d="M488 298L514.3 299L522 302L530 308L531 318L528 323.2L510 324L490 323L488 310Z" fill="#1e28f5"/>
<path d="M489.4 300L514 301L520 305L525 310L524.4 318.5L510 318.5L492 318L489.4 310Z" fill="#280ad2"/>
<path d="M515 300.7L524.4 300.7L526 310L515 310Z" fill="#1e28f5"/>
<path d="M375.7 262C375.7 265.6 375.8 275.7 375.7 283.3C375.6 290.9 374.9 303.1 375.4 307.4C375.9 311.6 377.4 308.1 378.5 308.8C379.6 309.5 381.1 312.3 382 311.6C382.9 310.9 383.5 307 384.2 304.6C384.9 302.2 385.8 301.1 386.3 297.5C386.8 293.9 387 288 387 283.3C387 278.6 386.3 272.7 386.3 269.1C386.3 265.6 386.9 263.2 387 262" fill="none" stroke="#f00" stroke-width="1.15" stroke-linejoin="round"/>
<path d="M377.1 262C377.2 264.4 377.5 272.6 377.8 276.2C378.1 279.8 378.6 282.8 379.2 283.3C379.8 283.8 380.6 281.4 381.3 279C382 276.6 383 271.9 383.5 269.1C384 266.3 384.1 263.2 384.2 262" fill="none" stroke="#f00" stroke-width="1.15" stroke-linejoin="round"/>
<path d="M394.1 262C394.2 264.4 394.6 271.9 394.8 276.2C395 280.4 395.6 283.9 395.5 287.5C395.4 291.1 393.9 296.1 394.1 297.5C394.4 298.9 396.3 295.8 397 296C397.7 296.2 397.8 297.9 398.4 298.9C399 299.8 400 301.9 400.5 301.7C401 301.5 400.8 299.9 401.2 297.5C401.6 295.1 402 289.9 402.6 287.5C403.2 285.1 404.3 285.2 404.8 283.3C405.3 281.4 405.3 279.8 405.5 276.2C405.7 272.6 406.1 264.4 406.2 262" fill="none" stroke="#f00" stroke-width="1.15" stroke-linejoin="round"/>
<path d="M397 262C397.1 263.3 397.2 267.7 397.5 270C397.8 272.3 398.4 276 398.8 276C399.2 276 399.7 272.3 400 270C400.3 267.7 400.4 263.3 400.5 262" fill="none" stroke="#f00" stroke-width="1.15" stroke-linejoin="round"/>
<path d="M407.6 276C407.4 277.2 407.8 281.1 408 283C408.2 284.9 408.8 287.7 409 287.5C409.2 287.3 409.5 283.9 409.5 282C409.5 280.1 409.3 277 409 276C408.7 275 407.8 274.8 407.6 276Z" fill="none" stroke="#f00" stroke-width="1.15" stroke-linejoin="round"/>
<path d="M409.7 262C409.9 263.2 410.6 266.7 411.1 269.1C411.6 271.5 412.1 272.6 412.6 276.2C413.1 279.8 413.8 286.4 414 290.4C414.2 294.4 413.9 295.2 414.1 300C414.3 304.8 414.2 313.4 415 319.1C415.8 324.8 417.8 332.5 418.9 334.4C420 336.3 420.9 336.3 421.7 330.6C422.5 324.9 423.2 305.5 423.7 300C424.2 294.5 424.6 300.3 424.6 297.5C424.6 294.7 424.2 287.8 423.9 283.3C423.5 278.8 423.1 271.7 422.5 270.5C421.9 269.3 421.1 275.7 420.4 276.2C419.7 276.7 418.8 275.7 418.2 273.3C417.6 270.9 417 263.9 416.8 262" fill="none" stroke="#f00" stroke-width="1.15" stroke-linejoin="round"/>
<path d="M420 262C420.1 264.2 420.2 271.1 420.5 275C420.8 278.9 421.6 283.8 421.8 285.5" fill="none" stroke="#f00" stroke-width="1.15" stroke-linejoin="round"/>
<path d="M424.1 262C424.2 264.2 424.3 271.2 424.5 275C424.7 278.8 425.3 282.3 425.5 285C425.7 287.7 425.8 290.2 425.9 291.3" fill="none" stroke="#f00" stroke-width="1.15" stroke-linejoin="round"/>
<path d="M546.7 262C546.6 263 546 265.5 546.1 267.9C546.2 270.2 546.8 274.2 547.3 276.1C547.8 278.1 548.1 278.2 549 279.6C549.9 281 551.8 283.9 552.6 284.3C553.4 284.7 553.7 283.8 553.7 282C553.7 280.2 553.2 276.2 552.6 273.7C552 271.1 550.6 268.6 550.2 266.7C549.8 264.8 550.2 262.8 550.2 262" fill="none" stroke="#f00" stroke-width="1.15" stroke-linejoin="round"/>
<path d="M548 266C548 267 548 270.3 548.2 272C548.4 273.7 548.8 276.3 549 276C549.2 275.7 549.5 271.7 549.5 270C549.5 268.3 549.1 266.7 549 266" fill="none" stroke="#f00" stroke-width="1.4" stroke-linejoin="round"/>
<path d="M530.3 277.3C531.7 277.5 536.8 277.8 538.5 278.4C540.2 279 539.8 280 540.8 280.8C541.8 281.6 543.4 281.9 544.4 283.1C545.4 284.3 545.9 286.4 546.7 287.8C547.5 289.2 548.6 290.7 549 291.3" fill="none" stroke="#f00" stroke-width="1.15" stroke-linejoin="round"/>
<path d="M430.6 262C430.8 264.2 431.2 270.8 431.7 275C432.2 279.2 432.9 283.9 433.5 287C434.1 290.1 434.4 292 435.3 293.7C436.2 295.4 437.6 297 438.8 297.2C440 297.4 441.2 295.1 442.3 294.9C443.4 294.7 444.2 296.4 445.2 296C446.2 295.6 447.1 292.1 448.2 292.5C449.3 292.9 450.5 297.6 451.7 298.4C452.9 299.2 454.2 297.8 455.2 297.2C456.2 296.6 457.2 295.3 457.6 294.9" fill="none" stroke="#1e28f5" stroke-width="1.15" stroke-dasharray="4,1.7" stroke-linejoin="round"/>
<path d="M441 262C441.1 263 441.5 266 441.7 268C441.9 270 441.9 274 442 274C442.1 274 442.4 270 442.5 268C442.6 266 442.5 263 442.5 262" fill="none" stroke="#1e28f5" stroke-width="1.15" stroke-dasharray="4,1.7" stroke-linejoin="round"/>
<path d="M450.5 262C450.6 263.9 450.7 270.8 451.1 273.7C451.5 276.6 452.6 278.6 452.9 279.6" fill="none" stroke="#1e28f5" stroke-width="1.15" stroke-dasharray="4,1.7" stroke-linejoin="round"/>
<path d="M454 262C454.2 263.6 454.6 268.7 455.2 271.4C455.8 274.1 456.8 276.2 457.6 278.4C458.4 280.5 459.3 282.3 459.9 284.3C460.5 286.3 460.7 287.5 461.1 290.2C461.5 292.9 461.7 298.2 462.3 300.7C462.9 303.2 463.8 305.2 464.6 305.4C465.4 305.6 466.3 304.2 466.9 301.9C467.5 299.5 468.1 294.2 468.1 291.3C468.1 288.4 467.7 285.7 466.9 284.3C466.1 282.9 464 283.3 463.4 283.1" fill="none" stroke="#1e28f5" stroke-width="1.15" stroke-dasharray="4,1.7" stroke-linejoin="round"/>
<path d="M465 285.5C465.3 286.1 466.4 287.2 466.8 289C467.2 290.8 467.4 293.7 467.3 296C467.2 298.3 466.4 301.8 466.2 303" fill="none" stroke="#1e28f5" stroke-width="1.15" stroke-dasharray="4,1.7" stroke-linejoin="round"/>
<path d="M474.4 284.3C474.6 285.5 475.2 289.2 475.6 291.3C476 293.4 476.3 294.9 476.7 297.2C477.1 299.5 477.7 304 477.9 305.4" fill="none" stroke="#1e28f5" stroke-width="1.15" stroke-dasharray="4,1.7" stroke-linejoin="round"/>
<path d="M480.2 269C480.5 269.8 481.6 271.3 482 273.7C482.4 276.1 482.9 280.2 482.6 283.1C482.3 286 480.8 288.4 480.2 291.3C479.6 294.2 479.1 298 479.1 300.7C479.1 303.4 479.9 306.4 480 307.5" fill="none" stroke="#1e28f5" stroke-width="1.15" stroke-dasharray="4,1.7" stroke-linejoin="round"/>
<path d="M488.5 262C488.6 263.9 488.8 269.8 489 273.7C489.2 277.6 489.4 282 489.6 285.5C489.8 289 489.8 292.5 490.2 294.8C490.6 297.1 491.7 298.7 492 299.5" fill="none" stroke="#1e28f5" stroke-width="1.15" stroke-dasharray="4,1.7" stroke-linejoin="round"/>
<path d="M501.4 262C501.6 263.6 501.7 268.9 502.5 271.4C503.3 273.9 504.8 275.8 506 277.2C507.2 278.6 508.6 278.2 509.6 279.6C510.6 281 511.1 283.6 511.9 285.5C512.7 287.4 513.8 289.4 514.3 291.3C514.8 293.2 514.8 295.2 514.8 297.2C514.8 299.1 514.4 302 514.3 303" fill="none" stroke="#1e28f5" stroke-width="1.15" stroke-dasharray="4,1.7" stroke-linejoin="round"/>
<path d="M515 277.3C515.6 277.1 517.3 276.1 518.5 276.1C519.7 276.1 520.8 276.5 522 277.3C523.2 278.1 524.6 279.4 525.6 280.8C526.6 282.2 527.2 283.8 527.9 285.5C528.6 287.2 529.1 289.2 529.7 291.3C530.3 293.4 530.9 296.1 531.4 298.4C531.9 300.7 532.3 303.9 532.5 305" fill="none" stroke="#1e28f5" stroke-width="1.15" stroke-dasharray="4,1.7" stroke-linejoin="round"/>
<path d="M480 307.5C480.5 308 482.1 309.6 483.2 310.7C484.2 311.8 485 312.8 486.3 313.8C487.6 314.8 489.2 316.1 491 316.9C492.8 317.7 494.9 318.1 497.3 318.5C499.7 318.9 502.2 319.3 505.1 319.3C508 319.3 511.6 318.8 514.5 318.5C517.4 318.2 519.7 318.2 522.3 317.7C524.9 317.2 528.4 316.5 530.1 315.3C531.8 314.1 532.1 312.8 532.5 310.7C532.9 308.6 532.5 304.1 532.5 302.8" fill="none" stroke="#1e28f5" stroke-width="1.3" stroke-linejoin="round"/>
<path d="M461.3 295C461.8 296.1 463.5 299.7 464.4 301.3C465.3 302.9 466.2 305.4 466.7 304.4C467.2 303.3 467.4 296.6 467.5 295" fill="none" stroke="#1e28f5" stroke-width="1.15" stroke-dasharray="4,1.7" stroke-linejoin="round"/>
<path d="M434.3 267.9a1.0 1.0 0 1 0 2 0a1.0 1.0 0 1 0 -2 0M434.3 274.3a1.0 1.0 0 1 0 2 0a1.0 1.0 0 1 0 -2 0M434.3 280.8a1.0 1.0 0 1 0 2 0a1.0 1.0 0 1 0 -2 0M434.3 287.2a1.0 1.0 0 1 0 2 0a1.0 1.0 0 1 0 -2 0M434.3 293.7a1.0 1.0 0 1 0 2 0a1.0 1.0 0 1 0 -2 0M503.9 264.3a1.0 1.0 0 1 0 2 0a1.0 1.0 0 1 0 -2 0M506.2 267.9a1.0 1.0 0 1 0 2 0a1.0 1.0 0 1 0 -2 0M503.9 270.8a1.0 1.0 0 1 0 2 0a1.0 1.0 0 1 0 -2 0M506.2 274.3a1.0 1.0 0 1 0 2 0a1.0 1.0 0 1 0 -2 0M515.6 283.7a1.0 1.0 0 1 0 2 0a1.0 1.0 0 1 0 -2 0M476.7 337a1.0 1.0 0 1 0 2 0a1.0 1.0 0 1 0 -2 0M519.7 340.4a1.0 1.0 0 1 0 2 0a1.0 1.0 0 1 0 -2 0" fill="#000"/>
<path d="M489.8 300.5a1.0 1.0 0 1 0 2 0a1.0 1.0 0 1 0 -2 0M496.4 300.5a1.0 1.0 0 1 0 2 0a1.0 1.0 0 1 0 -2 0M503 300.5a1.0 1.0 0 1 0 2 0a1.0 1.0 0 1 0 -2 0M509.7 300.5a1.0 1.0 0 1 0 2 0a1.0 1.0 0 1 0 -2 0M516.3 300.5a1.0 1.0 0 1 0 2 0a1.0 1.0 0 1 0 -2 0M493.1 303.8a1.0 1.0 0 1 0 2 0a1.0 1.0 0 1 0 -2 0M499.7 303.8a1.0 1.0 0 1 0 2 0a1.0 1.0 0 1 0 -2 0M506.3 303.8a1.0 1.0 0 1 0 2 0a1.0 1.0 0 1 0 -2 0M513 303.8a1.0 1.0 0 1 0 2 0a1.0 1.0 0 1 0 -2 0M519.6 303.8a1.0 1.0 0 1 0 2 0a1.0 1.0 0 1 0 -2 0M526.2 303.8a1.0 1.0 0 1 0 2 0a1.0 1.0 0 1 0 -2 0M489.8 307.1a1.0 1.0 0 1 0 2 0a1.0 1.0 0 1 0 -2 0M496.4 307.1a1.0 1.0 0 1 0 2 0a1.0 1.0 0 1 0 -2 0M503 307.1a1.0 1.0 0 1 0 2 0a1.0 1.0 0 1 0 -2 0M509.7 307.1a1.0 1.0 0 1 0 2 0a1.0 1.0 0 1 0 -2 0M516.3 307.1a1.0 1.0 0 1 0 2 0a1.0 1.0 0 1 0 -2 0M522.9 307.1a1.0 1.0 0 1 0 2 0a1.0 1.0 0 1 0 -2 0M529.5 307.1a1.0 1.0 0 1 0 2 0a1.0 1.0 0 1 0 -2 0M486.5 310.4a1.0 1.0 0 1 0 2 0a1.0 1.0 0 1 0 -2 0M493.1 310.4a1.0 1.0 0 1 0 2 0a1.0 1.0 0 1 0 -2 0M499.7 310.4a1.0 1.0 0 1 0 2 0a1.0 1.0 0 1 0 -2 0M506.3 310.4a1.0 1.0 0 1 0 2 0a1.0 1.0 0 1 0 -2 0M513 310.4a1.0 1.0 0 1 0 2 0a1.0 1.0 0 1 0 -2 0M519.6 310.4a1.0 1.0 0 1 0 2 0a1.0 1.0 0 1 0 -2 0M526.2 310.4a1.0 1.0 0 1 0 2 0a1.0 1.0 0 1 0 -2 0M532.8 310.4a1.0 1.0 0 1 0 2 0a1.0 1.0 0 1 0 -2 0M489.8 313.7a1.0 1.0 0 1 0 2 0a1.0 1.0 0 1 0 -2 0M496.4 313.7a1.0 1.0 0 1 0 2 0a1.0 1.0 0 1 0 -2 0M503 313.7a1.0 1.0 0 1 0 2 0a1.0 1.0 0 1 0 -2 0M509.7 313.7a1.0 1.0 0 1 0 2 0a1.0 1.0 0 1 0 -2 0M516.3 313.7a1.0 1.0 0 1 0 2 0a1.0 1.0 0 1 0 -2 0M522.9 313.7a1.0 1.0 0 1 0 2 0a1.0 1.0 0 1 0 -2 0M529.5 313.7a1.0 1.0 0 1 0 2 0a1.0 1.0 0 1 0 -2 0M486.5 317.1a1.0 1.0 0 1 0 2 0a1.0 1.0 0 1 0 -2 0M493.1 317.1a1.0 1.0 0 1 0 2 0a1.0 1.0 0 1 0 -2 0M499.7 317.1a1.0 1.0 0 1 0 2 0a1.0 1.0 0 1 0 -2 0M506.3 317.1a1.0 1.0 0 1 0 2 0a1.0 1.0 0 1 0 -2 0M513 317.1a1.0 1.0 0 1 0 2 0a1.0 1.0 0 1 0 -2 0M519.6 317.1a1.0 1.0 0 1 0 2 0a1.0 1.0 0 1 0 -2 0M526.2 317.1a1.0 1.0 0 1 0 2 0a1.0 1.0 0 1 0 -2 0M532.8 317.1a1.0 1.0 0 1 0 2 0a1.0 1.0 0 1 0 -2 0M489.8 320.4a1.0 1.0 0 1 0 2 0a1.0 1.0 0 1 0 -2 0M496.4 320.4a1.0 1.0 0 1 0 2 0a1.0 1.0 0 1 0 -2 0M503 320.4a1.0 1.0 0 1 0 2 0a1.0 1.0 0 1 0 -2 0M509.7 320.4a1.0 1.0 0 1 0 2 0a1.0 1.0 0 1 0 -2 0M516.3 320.4a1.0 1.0 0 1 0 2 0a1.0 1.0 0 1 0 -2 0M522.9 320.4a1.0 1.0 0 1 0 2 0a1.0 1.0 0 1 0 -2 0M529.5 320.4a1.0 1.0 0 1 0 2 0a1.0 1.0 0 1 0 -2 0M486.5 323.7a1.0 1.0 0 1 0 2 0a1.0 1.0 0 1 0 -2 0M493.1 323.7a1.0 1.0 0 1 0 2 0a1.0 1.0 0 1 0 -2 0M499.7 323.7a1.0 1.0 0 1 0 2 0a1.0 1.0 0 1 0 -2 0M506.3 323.7a1.0 1.0 0 1 0 2 0a1.0 1.0 0 1 0 -2 0M513 323.7a1.0 1.0 0 1 0 2 0a1.0 1.0 0 1 0 -2 0M519.6 323.7a1.0 1.0 0 1 0 2 0a1.0 1.0 0 1 0 -2 0M526.2 323.7a1.0 1.0 0 1 0 2 0a1.0 1.0 0 1 0 -2 0M532.8 323.7a1.0 1.0 0 1 0 2 0a1.0 1.0 0 1 0 -2 0M489.8 327a1.0 1.0 0 1 0 2 0a1.0 1.0 0 1 0 -2 0M496.4 327a1.0 1.0 0 1 0 2 0a1.0 1.0 0 1 0 -2 0M503 327a1.0 1.0 0 1 0 2 0a1.0 1.0 0 1 0 -2 0M509.7 327a1.0 1.0 0 1 0 2 0a1.0 1.0 0 1 0 -2 0M516.3 327a1.0 1.0 0 1 0 2 0a1.0 1.0 0 1 0 -2 0M522.9 327a1.0 1.0 0 1 0 2 0a1.0 1.0 0 1 0 -2 0M529.5 327a1.0 1.0 0 1 0 2 0a1.0 1.0 0 1 0 -2 0M493.1 330.3a1.0 1.0 0 1 0 2 0a1.0 1.0 0 1 0 -2 0M499.7 330.3a1.0 1.0 0 1 0 2 0a1.0 1.0 0 1 0 -2 0M506.3 330.3a1.0 1.0 0 1 0 2 0a1.0 1.0 0 1 0 -2 0M513 330.3a1.0 1.0 0 1 0 2 0a1.0 1.0 0 1 0 -2 0M519.6 330.3a1.0 1.0 0 1 0 2 0a1.0 1.0 0 1 0 -2 0M526.2 330.3a1.0 1.0 0 1 0 2 0a1.0 1.0 0 1 0 -2 0M532.8 330.3a1.0 1.0 0 1 0 2 0a1.0 1.0 0 1 0 -2 0" fill="#000"/>
<path d="M516.4 264.4a1.0 1.0 0 1 0 2 0a1.0 1.0 0 1 0 -2 0M523.1 264.4a1.0 1.0 0 1 0 2 0a1.0 1.0 0 1 0 -2 0M519.8 267.7a1.0 1.0 0 1 0 2 0a1.0 1.0 0 1 0 -2 0M526.4 267.7a1.0 1.0 0 1 0 2 0a1.0 1.0 0 1 0 -2 0M516.4 271a1.0 1.0 0 1 0 2 0a1.0 1.0 0 1 0 -2 0M523.1 271a1.0 1.0 0 1 0 2 0a1.0 1.0 0 1 0 -2 0M529.7 271a1.0 1.0 0 1 0 2 0a1.0 1.0 0 1 0 -2 0M519.8 274.3a1.0 1.0 0 1 0 2 0a1.0 1.0 0 1 0 -2 0M526.4 274.3a1.0 1.0 0 1 0 2 0a1.0 1.0 0 1 0 -2 0M516.4 277.6a1.0 1.0 0 1 0 2 0a1.0 1.0 0 1 0 -2 0M523.1 277.6a1.0 1.0 0 1 0 2 0a1.0 1.0 0 1 0 -2 0M529.7 277.6a1.0 1.0 0 1 0 2 0a1.0 1.0 0 1 0 -2 0M519.8 281a1.0 1.0 0 1 0 2 0a1.0 1.0 0 1 0 -2 0M526.4 281a1.0 1.0 0 1 0 2 0a1.0 1.0 0 1 0 -2 0M533 281a1.0 1.0 0 1 0 2 0a1.0 1.0 0 1 0 -2 0M516.4 284.3a1.0 1.0 0 1 0 2 0a1.0 1.0 0 1 0 -2 0M523.1 284.3a1.0 1.0 0 1 0 2 0a1.0 1.0 0 1 0 -2 0M529.7 284.3a1.0 1.0 0 1 0 2 0a1.0 1.0 0 1 0 -2 0M536.3 284.3a1.0 1.0 0 1 0 2 0a1.0 1.0 0 1 0 -2 0M542.9 284.3a1.0 1.0 0 1 0 2 0a1.0 1.0 0 1 0 -2 0M519.8 287.6a1.0 1.0 0 1 0 2 0a1.0 1.0 0 1 0 -2 0M526.4 287.6a1.0 1.0 0 1 0 2 0a1.0 1.0 0 1 0 -2 0M533 287.6a1.0 1.0 0 1 0 2 0a1.0 1.0 0 1 0 -2 0M539.6 287.6a1.0 1.0 0 1 0 2 0a1.0 1.0 0 1 0 -2 0M516.4 290.9a1.0 1.0 0 1 0 2 0a1.0 1.0 0 1 0 -2 0M523.1 290.9a1.0 1.0 0 1 0 2 0a1.0 1.0 0 1 0 -2 0M529.7 290.9a1.0 1.0 0 1 0 2 0a1.0 1.0 0 1 0 -2 0M536.3 290.9a1.0 1.0 0 1 0 2 0a1.0 1.0 0 1 0 -2 0M542.9 290.9a1.0 1.0 0 1 0 2 0a1.0 1.0 0 1 0 -2 0M526.4 294.2a1.0 1.0 0 1 0 2 0a1.0 1.0 0 1 0 -2 0M533 294.2a1.0 1.0 0 1 0 2 0a1.0 1.0 0 1 0 -2 0M539.6 294.2a1.0 1.0 0 1 0 2 0a1.0 1.0 0 1 0 -2 0M546.2 294.2a1.0 1.0 0 1 0 2 0a1.0 1.0 0 1 0 -2 0M529.7 297.5a1.0 1.0 0 1 0 2 0a1.0 1.0 0 1 0 -2 0M536.3 297.5a1.0 1.0 0 1 0 2 0a1.0 1.0 0 1 0 -2 0M542.9 297.5a1.0 1.0 0 1 0 2 0a1.0 1.0 0 1 0 -2 0M533 300.8a1.0 1.0 0 1 0 2 0a1.0 1.0 0 1 0 -2 0M539.6 300.8a1.0 1.0 0 1 0 2 0a1.0 1.0 0 1 0 -2 0M546.2 300.8a1.0 1.0 0 1 0 2 0a1.0 1.0 0 1 0 -2 0" fill="#000"/>
<path d="M526.2 317.1a1.0 1.0 0 1 0 2 0a1.0 1.0 0 1 0 -2 0M529.5 320.4a1.0 1.0 0 1 0 2 0a1.0 1.0 0 1 0 -2 0M526.2 323.7a1.0 1.0 0 1 0 2 0a1.0 1.0 0 1 0 -2 0M532.8 323.7a1.0 1.0 0 1 0 2 0a1.0 1.0 0 1 0 -2 0M539.4 323.7a1.0 1.0 0 1 0 2 0a1.0 1.0 0 1 0 -2 0M529.5 327a1.0 1.0 0 1 0 2 0a1.0 1.0 0 1 0 -2 0M536.1 327a1.0 1.0 0 1 0 2 0a1.0 1.0 0 1 0 -2 0M526.2 330.3a1.0 1.0 0 1 0 2 0a1.0 1.0 0 1 0 -2 0M532.8 330.3a1.0 1.0 0 1 0 2 0a1.0 1.0 0 1 0 -2 0M539.4 330.3a1.0 1.0 0 1 0 2 0a1.0 1.0 0 1 0 -2 0" fill="#000"/>
</g>
<rect x="350.5" y="262.5" width="224.0" height="84.0" fill="none" stroke="#000" stroke-width="1.1"/>
<rect x="352.5" y="264.5" width="21.5" height="19.8" fill="#fff" stroke="#333" stroke-width="0.8"/>
<text transform="translate(363.40 273.86) scale(1 1.12)" y="3.94" font-family='"Liberation Sans", sans-serif' font-size="11.0" text-anchor="middle">(f)</text>
<text transform="translate(338.60 282.06) scale(1 1.12)" y="3.51" font-family='"Liberation Sans", sans-serif' font-size="9.8" text-anchor="end">5</text>
<text transform="translate(338.60 290.49) scale(1 1.12)" y="3.51" font-family='"Liberation Sans", sans-serif' font-size="9.8" text-anchor="end">10</text>
<text transform="translate(338.60 298.92) scale(1 1.12)" y="3.51" font-family='"Liberation Sans", sans-serif' font-size="9.8" text-anchor="end">20</text>
<text transform="translate(338.60 310.06) scale(1 1.12)" y="3.51" font-family='"Liberation Sans", sans-serif' font-size="9.8" text-anchor="end">50</text>
<text transform="translate(338.60 318.49) scale(1 1.12)" y="3.51" font-family='"Liberation Sans", sans-serif' font-size="9.8" text-anchor="end">100</text>
<text transform="translate(338.60 326.92) scale(1 1.12)" y="3.51" font-family='"Liberation Sans", sans-serif' font-size="9.8" text-anchor="end">200</text>
<text transform="translate(338.60 338.06) scale(1 1.12)" y="3.51" font-family='"Liberation Sans", sans-serif' font-size="9.8" text-anchor="end">500</text>
<text transform="translate(338.60 346.49) scale(1 1.12)" y="3.51" font-family='"Liberation Sans", sans-serif' font-size="9.8" text-anchor="end">1000</text>
<text transform="translate(350.30 362.46) scale(1 1.12)" y="3.54" font-family='"Liberation Sans", sans-serif' font-size="9.9" text-anchor="middle">Sep</text>
<text transform="translate(374.98 362.46) scale(1 1.12)" y="3.54" font-family='"Liberation Sans", sans-serif' font-size="9.9" text-anchor="middle">Oct</text>
<text transform="translate(400.47 362.46) scale(1 1.12)" y="3.54" font-family='"Liberation Sans", sans-serif' font-size="9.9" text-anchor="middle">Nov</text>
<text transform="translate(425.15 362.46) scale(1 1.12)" y="3.54" font-family='"Liberation Sans", sans-serif' font-size="9.9" text-anchor="middle">Dec</text>
<text transform="translate(450.65 362.46) scale(1 1.12)" y="3.54" font-family='"Liberation Sans", sans-serif' font-size="9.9" text-anchor="middle">Jan</text>
<text transform="translate(476.14 362.46) scale(1 1.12)" y="3.54" font-family='"Liberation Sans", sans-serif' font-size="9.9" text-anchor="middle">Feb</text>
<text transform="translate(499.17 362.46) scale(1 1.12)" y="3.54" font-family='"Liberation Sans", sans-serif' font-size="9.9" text-anchor="middle">Mar</text>
<text transform="translate(524.67 362.46) scale(1 1.12)" y="3.54" font-family='"Liberation Sans", sans-serif' font-size="9.9" text-anchor="middle">Apr</text>
<text transform="translate(549.35 362.46) scale(1 1.12)" y="3.54" font-family='"Liberation Sans", sans-serif' font-size="9.9" text-anchor="middle">May</text>
<path d="M345.20 282.07H350.5 M345.20 290.50H350.5 M345.20 298.93H350.5 M345.20 310.07H350.5 M345.20 318.50H350.5 M345.20 326.93H350.5 M345.20 338.07H350.5 M345.20 346.50H350.5 M350.30 346.5V351.7 M374.98 346.5V351.7 M400.47 346.5V351.7 M425.15 346.5V351.7 M450.65 346.5V351.7 M476.14 346.5V351.7 M499.17 346.5V351.7 M524.67 346.5V351.7 M549.35 346.5V351.7" stroke="#000" stroke-width="1.4" fill="none"/>
<text transform="translate(167.00 11.80) scale(1 1.12)" y="0.00" font-family='"Liberation Sans", sans-serif' font-size="13.5" font-weight="bold" class="b" text-anchor="middle">NAM &amp; 50-70N mean U</text>
<text transform="translate(459.80 11.80) scale(1 1.12)" y="0.00" font-family='"Liberation Sans", sans-serif' font-size="13.7" font-weight="bold" class="b" text-anchor="middle">60-90N mean T &amp; GHT</text>
<text transform="translate(12.2 67.7) rotate(-90) scale(1 1.1)" font-family='"Liberation Sans", sans-serif' font-weight="bold" class="b" font-size="13.6" text-anchor="middle">Low-Ozone</text>
<text transform="translate(12.2 180.4) rotate(-90) scale(1 1.1)" font-family='"Liberation Sans", sans-serif' font-weight="bold" class="b" font-size="13.6" text-anchor="middle">High-Ozone</text>
<text transform="translate(12.2 302.5) rotate(-90) scale(1 1.1)" font-family='"Liberation Sans", sans-serif' font-weight="bold" class="b" font-size="13.6" text-anchor="middle">Low minus High Diff.</text>
<rect x="125.6" y="369.7" width="154.8" height="12.6" fill="#fff" stroke="#000" stroke-width="0.9"/>
<text transform="translate(127.90 376.13) scale(1 1.12)" y="3.47" font-family='"Liberation Sans", sans-serif' font-size="9.7">CONTOUR FROM -20 TO 30 BY 5</text>
<rect x="414.7" y="370.2" width="158.8" height="12" fill="#fff" stroke="#000" stroke-width="0.9"/>
<text transform="translate(416.80 376.03) scale(1 1.12)" y="3.47" font-family='"Liberation Sans", sans-serif' font-size="9.7">CONTOUR FROM -75 TO 75 BY 25</text>
<rect x="57.90" y="389.5" width="18.44" height="8.199999999999989" fill="#2310d2"/>
<rect x="76.34" y="389.5" width="18.44" height="8.199999999999989" fill="#1e55fa"/>
<rect x="94.78" y="389.5" width="18.44" height="8.199999999999989" fill="#328cf5"/>
<rect x="113.22" y="389.5" width="18.44" height="8.199999999999989" fill="#6ec8fa"/>
<rect x="131.67" y="389.5" width="18.44" height="8.199999999999989" fill="#96e1fa"/>
<rect x="150.11" y="389.5" width="18.44" height="8.199999999999989" fill="#e6ffff"/>
<rect x="168.55" y="389.5" width="18.44" height="8.199999999999989" fill="#fffadc"/>
<rect x="186.99" y="389.5" width="18.44" height="8.199999999999989" fill="#ffc88c"/>
<rect x="205.43" y="389.5" width="18.44" height="8.199999999999989" fill="#ffa064"/>
<rect x="223.88" y="389.5" width="18.44" height="8.199999999999989" fill="#fa463c"/>
<rect x="242.32" y="389.5" width="18.44" height="8.199999999999989" fill="#eb1e32"/>
<rect x="260.76" y="389.5" width="18.44" height="8.199999999999989" fill="#aa001e"/>
<path d="M76.34 389.5V397.7 M94.78 389.5V397.7 M113.22 389.5V397.7 M131.67 389.5V397.7 M150.11 389.5V397.7 M168.55 389.5V397.7 M186.99 389.5V397.7 M205.43 389.5V397.7 M223.88 389.5V397.7 M242.32 389.5V397.7 M260.76 389.5V397.7" stroke="#000" stroke-width="0.8"/>
<rect x="57.9" y="389.5" width="221.29999999999998" height="8.199999999999989" fill="none" stroke="#000" stroke-width="0.9"/>
<text transform="translate(94.78 404.59) scale(1 1.12)" y="4.01" font-family='"Liberation Sans", sans-serif' font-size="11.2" text-anchor="middle">-1.6</text>
<text transform="translate(131.67 404.59) scale(1 1.12)" y="4.01" font-family='"Liberation Sans", sans-serif' font-size="11.2" text-anchor="middle">-0.8</text>
<text transform="translate(168.55 404.59) scale(1 1.12)" y="4.01" font-family='"Liberation Sans", sans-serif' font-size="11.2" text-anchor="middle">0</text>
<text transform="translate(205.43 404.59) scale(1 1.12)" y="4.01" font-family='"Liberation Sans", sans-serif' font-size="11.2" text-anchor="middle">0.8</text>
<text transform="translate(242.32 404.59) scale(1 1.12)" y="4.01" font-family='"Liberation Sans", sans-serif' font-size="11.2" text-anchor="middle">1.6</text>
<rect x="351.90" y="389.5" width="13.84" height="8.199999999999989" fill="#280ad2"/>
<rect x="365.74" y="389.5" width="13.84" height="8.199999999999989" fill="#1e28f5"/>
<rect x="379.57" y="389.5" width="13.84" height="8.199999999999989" fill="#285afa"/>
<rect x="393.41" y="389.5" width="13.84" height="8.199999999999989" fill="#3c82fa"/>
<rect x="407.25" y="389.5" width="13.84" height="8.199999999999989" fill="#64befa"/>
<rect x="421.09" y="389.5" width="13.84" height="8.199999999999989" fill="#8cdcfa"/>
<rect x="434.92" y="389.5" width="13.84" height="8.199999999999989" fill="#b4f0ff"/>
<rect x="448.76" y="389.5" width="13.84" height="8.199999999999989" fill="#e1faff"/>
<rect x="462.60" y="389.5" width="13.84" height="8.199999999999989" fill="#fffce1"/>
<rect x="476.44" y="389.5" width="13.84" height="8.199999999999989" fill="#ffebaa"/>
<rect x="490.27" y="389.5" width="13.84" height="8.199999999999989" fill="#ffcd8c"/>
<rect x="504.11" y="389.5" width="13.84" height="8.199999999999989" fill="#ffa564"/>
<rect x="517.95" y="389.5" width="13.84" height="8.199999999999989" fill="#fa463c"/>
<rect x="531.79" y="389.5" width="13.84" height="8.199999999999989" fill="#f01e32"/>
<rect x="545.62" y="389.5" width="13.84" height="8.199999999999989" fill="#d7142d"/>
<rect x="559.46" y="389.5" width="13.84" height="8.199999999999989" fill="#a5001e"/>
<path d="M365.74 389.5V397.7 M379.57 389.5V397.7 M393.41 389.5V397.7 M407.25 389.5V397.7 M421.09 389.5V397.7 M434.92 389.5V397.7 M448.76 389.5V397.7 M462.60 389.5V397.7 M476.44 389.5V397.7 M490.27 389.5V397.7 M504.11 389.5V397.7 M517.95 389.5V397.7 M531.79 389.5V397.7 M545.62 389.5V397.7 M559.46 389.5V397.7" stroke="#000" stroke-width="0.8"/>
<rect x="351.9" y="389.5" width="221.39999999999998" height="8.199999999999989" fill="none" stroke="#000" stroke-width="0.9"/>
<text transform="translate(379.57 404.59) scale(1 1.12)" y="4.01" font-family='"Liberation Sans", sans-serif' font-size="11.2" text-anchor="middle">-12</text>
<text transform="translate(407.25 404.59) scale(1 1.12)" y="4.01" font-family='"Liberation Sans", sans-serif' font-size="11.2" text-anchor="middle">-8</text>
<text transform="translate(434.92 404.59) scale(1 1.12)" y="4.01" font-family='"Liberation Sans", sans-serif' font-size="11.2" text-anchor="middle">-4</text>
<text transform="translate(462.60 404.59) scale(1 1.12)" y="4.01" font-family='"Liberation Sans", sans-serif' font-size="11.2" text-anchor="middle">0</text>
<text transform="translate(490.27 404.59) scale(1 1.12)" y="4.01" font-family='"Liberation Sans", sans-serif' font-size="11.2" text-anchor="middle">4</text>
<text transform="translate(517.95 404.59) scale(1 1.12)" y="4.01" font-family='"Liberation Sans", sans-serif' font-size="11.2" text-anchor="middle">8</text>
<text transform="translate(545.62 404.59) scale(1 1.12)" y="4.01" font-family='"Liberation Sans", sans-serif' font-size="11.2" text-anchor="middle">12</text>
</svg>
</body></html>
